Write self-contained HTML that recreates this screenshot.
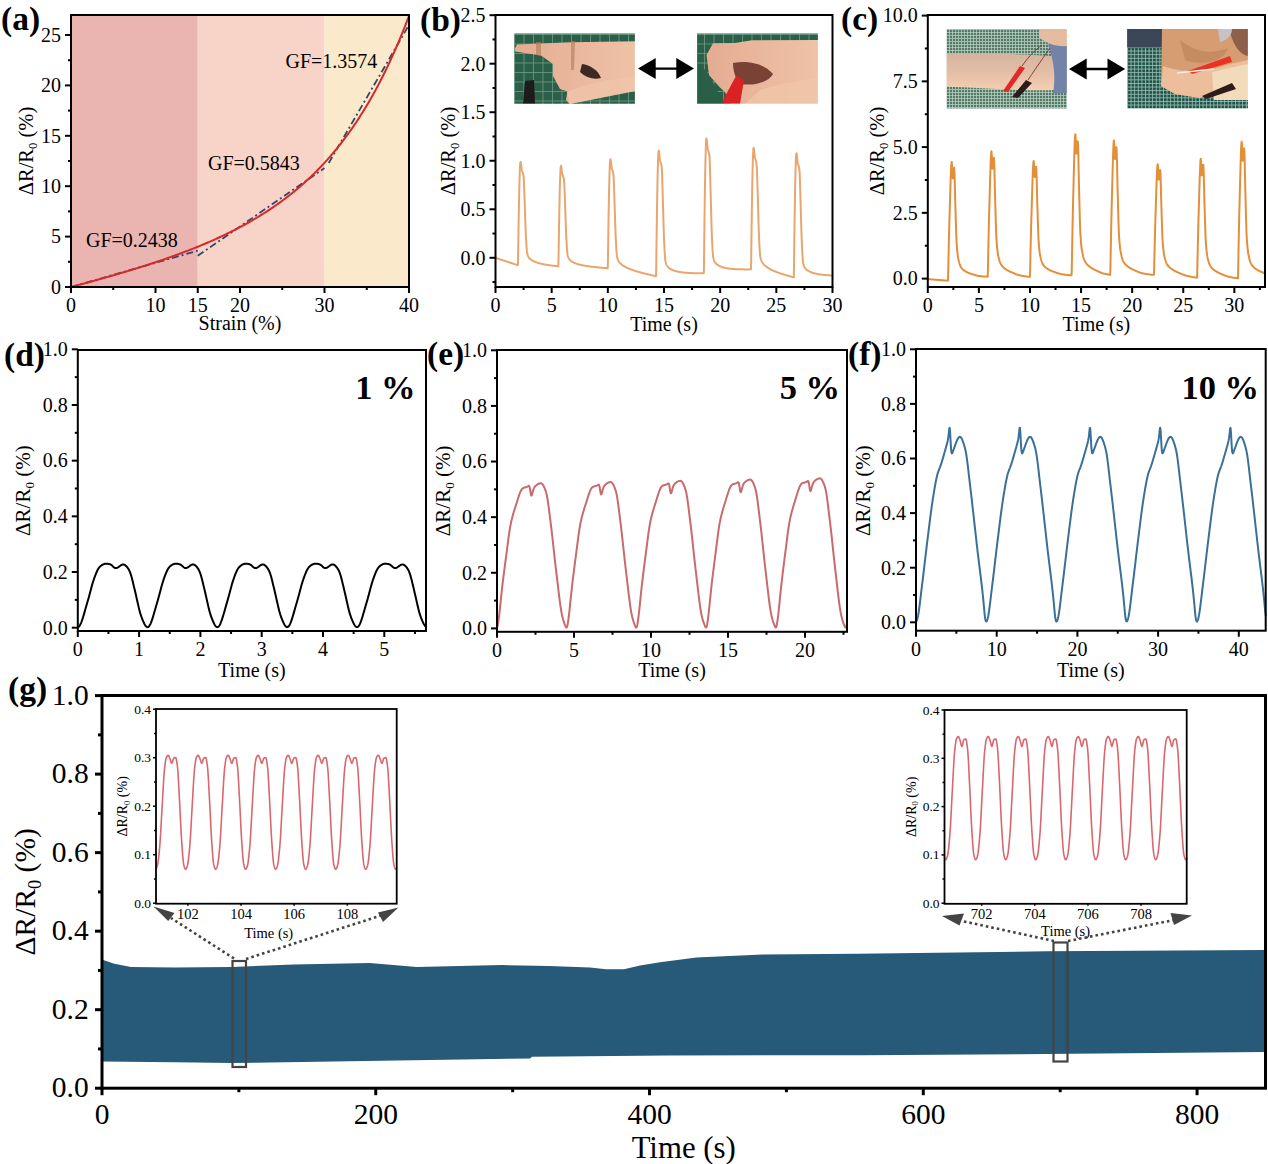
<!DOCTYPE html><html><head><meta charset="utf-8"><style>html,body{margin:0;padding:0;background:#fff;width:1268px;height:1164px;overflow:hidden;font-family:'Liberation Serif',serif}</style></head><body><svg width="1268" height="1164" viewBox="0 0 1268 1164" style="display:block;font-family:'Liberation Serif', serif">
<rect width="1268" height="1164" fill="#fff"/>
<rect x="71" y="15" width="126.75" height="272" fill="#EAB4B1"/>
<rect x="197.75" y="15" width="126.75" height="272" fill="#F8D4C8"/>
<rect x="324.5" y="15" width="84.5" height="272" fill="#FAE9CB"/>
<line x1="71" y1="287" x2="197.75" y2="250.71" stroke="#2E4A6B" stroke-width="1.8" stroke-dasharray="7,3,2,3"/>
<line x1="197.75" y1="255.75" x2="324.5" y2="168.06" stroke="#2E4A6B" stroke-width="1.8" stroke-dasharray="7,3,2,3"/>
<line x1="328.72" y1="163.02" x2="409" y2="24.92" stroke="#2E4A6B" stroke-width="1.8" stroke-dasharray="7,3,2,3"/>
<path d="M71.00,287.00 L72.13,286.70 L73.26,286.40 L74.39,286.10 L75.52,285.80 L76.65,285.50 L77.78,285.20 L78.91,284.90 L80.04,284.59 L81.17,284.29 L82.30,283.98 L83.43,283.68 L84.57,283.37 L85.70,283.07 L86.83,282.76 L87.96,282.45 L89.09,282.14 L90.22,281.83 L91.35,281.52 L92.48,281.21 L93.61,280.90 L94.74,280.59 L95.87,280.27 L97.00,279.96 L98.13,279.64 L99.26,279.33 L100.39,279.01 L101.52,278.69 L102.65,278.38 L103.78,278.06 L104.91,277.74 L106.04,277.41 L107.17,277.09 L108.30,276.77 L109.43,276.45 L110.57,276.12 L111.70,275.79 L112.83,275.47 L113.96,275.14 L115.09,274.81 L116.22,274.48 L117.35,274.15 L118.48,273.82 L119.61,273.48 L120.74,273.15 L121.87,272.82 L123.00,272.48 L124.13,272.14 L125.26,271.80 L126.39,271.46 L127.52,271.12 L128.65,270.78 L129.78,270.44 L130.91,270.09 L132.04,269.74 L133.17,269.40 L134.30,269.05 L135.43,268.70 L136.57,268.35 L137.70,268.00 L138.83,267.64 L139.96,267.29 L141.09,266.93 L142.22,266.57 L143.35,266.21 L144.48,265.85 L145.61,265.49 L146.74,265.12 L147.87,264.76 L149.00,264.39 L150.13,264.02 L151.26,263.65 L152.39,263.28 L153.52,262.91 L154.65,262.53 L155.78,262.16 L156.91,261.78 L158.04,261.40 L159.17,261.02 L160.30,260.63 L161.43,260.25 L162.57,259.86 L163.70,259.47 L164.83,259.08 L165.96,258.69 L167.09,258.29 L168.22,257.89 L169.35,257.50 L170.48,257.09 L171.61,256.69 L172.74,256.29 L173.87,255.88 L175.00,255.47 L176.13,255.06 L177.26,254.65 L178.39,254.23 L179.52,253.81 L180.65,253.39 L181.78,252.97 L182.91,252.54 L184.04,252.12 L185.17,251.69 L186.30,251.26 L187.43,250.82 L188.57,250.38 L189.70,249.94 L190.83,249.50 L191.96,249.06 L193.09,248.61 L194.22,248.16 L195.35,247.71 L196.48,247.25 L197.61,246.79 L198.74,246.33 L199.87,245.87 L201.00,245.40 L202.13,244.93 L203.26,244.46 L204.39,243.98 L205.52,243.50 L206.65,243.02 L207.78,242.53 L208.91,242.05 L210.04,241.55 L211.17,241.06 L212.30,240.56 L213.43,240.06 L214.57,239.55 L215.70,239.04 L216.83,238.53 L217.96,238.01 L219.09,237.49 L220.22,236.97 L221.35,236.44 L222.48,235.91 L223.61,235.38 L224.74,234.84 L225.87,234.30 L227.00,233.75 L228.13,233.20 L229.26,232.64 L230.39,232.08 L231.52,231.52 L232.65,230.95 L233.78,230.38 L234.91,229.80 L236.04,229.22 L237.17,228.64 L238.30,228.05 L239.43,227.45 L240.57,226.85 L241.70,226.25 L242.83,225.64 L243.96,225.02 L245.09,224.40 L246.22,223.78 L247.35,223.15 L248.48,222.51 L249.61,221.87 L250.74,221.23 L251.87,220.58 L253.00,219.92 L254.13,219.26 L255.26,218.59 L256.39,217.92 L257.52,217.24 L258.65,216.55 L259.78,215.86 L260.91,215.16 L262.04,214.46 L263.17,213.75 L264.30,213.03 L265.43,212.31 L266.57,211.58 L267.70,210.84 L268.83,210.10 L269.96,209.35 L271.09,208.59 L272.22,207.83 L273.35,207.06 L274.48,206.28 L275.61,205.49 L276.74,204.70 L277.87,203.90 L279.00,203.09 L280.13,202.28 L281.26,201.45 L282.39,200.62 L283.52,199.78 L284.65,198.94 L285.78,198.08 L286.91,197.21 L288.04,196.34 L289.17,195.46 L290.30,194.57 L291.43,193.67 L292.57,192.76 L293.70,191.85 L294.83,190.92 L295.96,189.98 L297.09,189.04 L298.22,188.08 L299.35,187.12 L300.48,186.14 L301.61,185.16 L302.74,184.16 L303.87,183.16 L305.00,182.14 L306.13,181.11 L307.26,180.08 L308.39,179.03 L309.52,177.97 L310.65,176.90 L311.78,175.81 L312.91,174.72 L314.04,173.61 L315.17,172.50 L316.30,171.37 L317.43,170.23 L318.57,169.07 L319.70,167.90 L320.83,166.73 L321.96,165.53 L323.09,164.33 L324.22,163.11 L325.35,161.88 L326.48,160.63 L327.61,159.37 L328.74,158.10 L329.87,156.81 L331.00,155.50 L332.13,154.19 L333.26,152.85 L334.39,151.51 L335.52,150.14 L336.65,148.77 L337.78,147.37 L338.91,145.96 L340.04,144.54 L341.17,143.09 L342.30,141.64 L343.43,140.16 L344.57,138.67 L345.70,137.16 L346.83,135.63 L347.96,134.08 L349.09,132.52 L350.22,130.94 L351.35,129.34 L352.48,127.72 L353.61,126.08 L354.74,124.42 L355.87,122.74 L357.00,121.05 L358.13,119.33 L359.26,117.59 L360.39,115.83 L361.52,114.05 L362.65,112.25 L363.78,110.43 L364.91,108.58 L366.04,106.72 L367.17,104.83 L368.30,102.92 L369.43,100.98 L370.57,99.02 L371.70,97.04 L372.83,95.03 L373.96,93.00 L375.09,90.94 L376.22,88.86 L377.35,86.75 L378.48,84.62 L379.61,82.46 L380.74,80.27 L381.87,78.06 L383.00,75.82 L384.13,73.55 L385.26,71.26 L386.39,68.93 L387.52,66.58 L388.65,64.19 L389.78,61.78 L390.91,59.34 L392.04,56.86 L393.17,54.36 L394.30,51.82 L395.43,49.25 L396.57,46.65 L397.70,44.02 L398.83,41.35 L399.96,38.65 L401.09,35.91 L402.22,33.14 L403.35,30.34 L404.48,27.50 L405.61,24.62 L406.74,21.71 L407.87,18.76 L409.00,15.77" fill="none" stroke="#D8282B" stroke-width="2" stroke-linejoin="round" stroke-linecap="round" />
<rect x="71" y="15" width="338" height="272" fill="none" stroke="#000" stroke-width="2"/>
<line x1="68" y1="261.8" x2="71" y2="261.8" stroke="#000" stroke-width="2"/>
<line x1="68" y1="211.4" x2="71" y2="211.4" stroke="#000" stroke-width="2"/>
<line x1="68" y1="161" x2="71" y2="161" stroke="#000" stroke-width="2"/>
<line x1="68" y1="110.6" x2="71" y2="110.6" stroke="#000" stroke-width="2"/>
<line x1="68" y1="60.2" x2="71" y2="60.2" stroke="#000" stroke-width="2"/>
<line x1="65" y1="287" x2="71" y2="287" stroke="#000" stroke-width="2"/>
<text x="61" y="293.8" font-size="20" text-anchor="end" font-weight="normal" >0</text>
<line x1="65" y1="236.6" x2="71" y2="236.6" stroke="#000" stroke-width="2"/>
<text x="61" y="243.4" font-size="20" text-anchor="end" font-weight="normal" >5</text>
<line x1="65" y1="186.2" x2="71" y2="186.2" stroke="#000" stroke-width="2"/>
<text x="61" y="193" font-size="20" text-anchor="end" font-weight="normal" >10</text>
<line x1="65" y1="135.8" x2="71" y2="135.8" stroke="#000" stroke-width="2"/>
<text x="61" y="142.6" font-size="20" text-anchor="end" font-weight="normal" >15</text>
<line x1="65" y1="85.4" x2="71" y2="85.4" stroke="#000" stroke-width="2"/>
<text x="61" y="92.2" font-size="20" text-anchor="end" font-weight="normal" >20</text>
<line x1="65" y1="35" x2="71" y2="35" stroke="#000" stroke-width="2"/>
<text x="61" y="41.8" font-size="20" text-anchor="end" font-weight="normal" >25</text>
<line x1="113.25" y1="287" x2="113.25" y2="290" stroke="#000" stroke-width="2"/>
<line x1="282.25" y1="287" x2="282.25" y2="290" stroke="#000" stroke-width="2"/>
<line x1="366.75" y1="287" x2="366.75" y2="290" stroke="#000" stroke-width="2"/>
<line x1="71" y1="287" x2="71" y2="293" stroke="#000" stroke-width="2"/>
<text x="71" y="312" font-size="20" text-anchor="middle" font-weight="normal" >0</text>
<line x1="155.5" y1="287" x2="155.5" y2="293" stroke="#000" stroke-width="2"/>
<text x="155.5" y="312" font-size="20" text-anchor="middle" font-weight="normal" >10</text>
<line x1="197.75" y1="287" x2="197.75" y2="293" stroke="#000" stroke-width="2"/>
<text x="197.75" y="312" font-size="20" text-anchor="middle" font-weight="normal" >15</text>
<line x1="240" y1="287" x2="240" y2="293" stroke="#000" stroke-width="2"/>
<text x="240" y="312" font-size="20" text-anchor="middle" font-weight="normal" >20</text>
<line x1="324.5" y1="287" x2="324.5" y2="293" stroke="#000" stroke-width="2"/>
<text x="324.5" y="312" font-size="20" text-anchor="middle" font-weight="normal" >30</text>
<line x1="409" y1="287" x2="409" y2="293" stroke="#000" stroke-width="2"/>
<text x="409" y="312" font-size="20" text-anchor="middle" font-weight="normal" >40</text>
<text x="240" y="330" font-size="20" text-anchor="middle" font-weight="normal" >Strain (%)</text>
<text transform="translate(33,151) rotate(-90)" font-size="20.5" text-anchor="middle">&#916;R/R<tspan font-size="12.71" dy="4.1">0</tspan><tspan dy="-4.1"> (%)</tspan></text>
<text x="86" y="247" font-size="20" text-anchor="start" font-weight="normal" >GF=0.2438</text>
<text x="208" y="170" font-size="20" text-anchor="start" font-weight="normal" >GF=0.5843</text>
<text x="285.5" y="67.5" font-size="20" text-anchor="start" font-weight="normal" >GF=1.3574</text>
<text x="1" y="29.5" font-size="33.5" text-anchor="start" font-weight="bold" >(a)</text>
<defs>
<pattern id="gridb" width="9.5" height="9.5" patternUnits="userSpaceOnUse" x="514" y="34">
<rect width="9.5" height="9.5" fill="#2C5F48"/><path d="M0,0.5 H9.5 M0.5,0 V9.5" stroke="#6E9A84" stroke-width="0.8"/></pattern>
<pattern id="gridc" width="3" height="3" patternUnits="userSpaceOnUse" x="946" y="29">
<rect width="3" height="3" fill="#557A6A"/><path d="M0,0.4 H3 M0.4,0 V3" stroke="#BCD6C2" stroke-width="0.8"/></pattern>
<pattern id="gridc2" width="3.6" height="3.6" patternUnits="userSpaceOnUse" x="1127" y="29">
<rect width="3.6" height="3.6" fill="#24544A"/><path d="M0,0.4 H3.6 M0.4,0 V3.6" stroke="#A0C8BC" stroke-width="0.8"/></pattern>
<filter id="soft" x="-5%" y="-5%" width="110%" height="110%"><feGaussianBlur stdDeviation="0.7"/></filter>
<clipPath id="cb1"><rect x="514.1" y="33.6" width="120.8" height="70.2"/></clipPath>
<clipPath id="cb2"><rect x="697.1" y="33.6" width="120.8" height="70.2"/></clipPath>
<clipPath id="cc1"><rect x="946.6" y="29.1" width="120.3" height="79.4"/></clipPath>
<clipPath id="cc2"><rect x="1127.1" y="29.1" width="120.8" height="79.4"/></clipPath>
<linearGradient id="armc1" x1="0" y1="0" x2="0" y2="1"><stop offset="0" stop-color="#D4B49E"/><stop offset="0.5" stop-color="#E2BEA6"/><stop offset="1" stop-color="#F4CFB2"/></linearGradient>
<linearGradient id="skinb" x1="0" y1="0" x2="1" y2="0"><stop offset="0" stop-color="#E4AC92"/><stop offset="1" stop-color="#EFC2A8"/></linearGradient>
</defs>
<g clip-path="url(#cb1)"><g filter="url(#soft)">
<rect x="514" y="33" width="122" height="72" fill="url(#gridb)"/>
<path d="M515,48.5 L517,44.5 L571,42.3 L636,41.3 L636,90.5 L569.5,104 L566,100 L567.4,91.5 L560,89 L553,76 L553,64 L541,55.6 L515,51.5 Z" fill="url(#skinb)"/>
<path d="M582,64 C590,65 598,70 601,78 C594,80 586,78 580,72 Z" fill="#3E2A22"/>
<path d="M567,92 C585,84 610,79 636,76 L636,91 L570,104 Z" fill="#F0C4AA" opacity="0.8"/>
<path d="M536,42 L541,42 L541,56 L536,55 Z M571,41 L575,41 L574,70 L571,70 Z" fill="#B07A58" opacity="0.6"/>
<path d="M525,81 L534,80 L535,104 L523,104 Z" fill="#1E1A1A"/>
</g></g>
<g clip-path="url(#cb2)"><g filter="url(#soft)">
<rect x="697" y="33" width="122" height="72" fill="url(#gridb)"/>
<path d="M752,40.3 L818,40 L818,104 L730,104 L725,92 L720,87.4 L709,75 L706.5,55 L713,43.3 L735,43 Z" fill="url(#skinb)"/>
<path d="M733,63 C748,60 765,64 773,74 C768,83 752,86 740,84 C735,78 733,70 733,63 Z" fill="#7A4236"/>
<path d="M760,90 C780,84 800,80 818,78 L818,104 L745,104 Z" fill="#F0C5A8" opacity="0.8"/>
<path d="M721,103.8 L736,76 L744,80 L740,103.8 Z" fill="#DA2320"/>
<path d="M697,66 L706,70 L716,88 L724,103.8 L697,103.8 Z" fill="#2A5E46"/>
</g></g>
<g clip-path="url(#cc1)"><g filter="url(#soft)">
<rect x="946" y="29" width="122" height="80" fill="url(#gridc)"/>
<path d="M946,53.7 C980,53 1020,54 1052,56 Q1058,72 1056,90 C1020,91 980,88 946,86.5 Z" fill="url(#armc1)"/>
<path d="M1048,44.5 L1067,40 L1067,93 L1053,93 C1056,78 1054,60 1048,44.5 Z" fill="#7382A8"/>
<path d="M1039,29 L1067,29 L1067,46 C1058,47 1046,44 1039,37 Z" fill="#E5BCA0"/>
<path d="M1003,91 L1020,66 L1025,68 L1008,92 Z" fill="#E02A2A"/>
<path d="M1012,97 L1026,80 L1032,83 L1018,98 Z" fill="#2A1E1E"/>
<path d="M1022,66 C1030,55 1035,50 1042,45 M1028,80 C1038,65 1045,55 1050,48" stroke="#8A3A30" stroke-width="1" fill="none"/>
</g></g>
<g clip-path="url(#cc2)"><g filter="url(#soft)">
<rect x="1127" y="29" width="122" height="80" fill="url(#gridc2)"/>
<rect x="1127" y="29" width="35" height="18.5" fill="#3A4656"/>
<path d="M1162,29 L1248,29 L1248,78 L1230,88 L1200,98 L1175,94 L1161,86 Z" fill="#D69D72"/>
<path d="M1163,66 C1180,72 1200,74 1230,64 L1248,60 L1248,78 L1230,88 L1200,98 L1175,94 L1161,86 Z" fill="#ECBE9C"/>
<path d="M1212,72 L1248,64 L1248,100 L1214,100 Z" fill="#F2DBBB"/>
<path d="M1180,40 C1195,52 1210,55 1228,48 C1225,62 1200,66 1185,60 Z" fill="#B98058" opacity="0.6"/>
<path d="M1229,29 L1248,29 L1248,56 C1240,55 1233,45 1229,29 Z" fill="#8E5E4C"/>
<path d="M1218,29 L1232,29 C1232,35 1228,40 1220,42 Z" fill="#C9C1C8"/>
<path d="M1188,71 L1230,56 L1232,62 L1192,74 Z" fill="#E83322"/>
<path d="M1202,96 L1232,83 L1236,89 L1206,99 Z" fill="#2E1A1A"/>
<path d="M1177,73 L1214,69" stroke="#F6EEE8" stroke-width="1.6"/>
</g></g>
<path d="M638,68.6 L655.7,58.099999999999994 L655.7,67.39999999999999 L676.3,67.39999999999999 L676.3,58.099999999999994 L694,68.6 L676.3,79.1 L676.3,69.8 L655.7,69.8 L655.7,79.1 Z" fill="#000"/>
<path d="M1069,69 L1086.7,58.5 L1086.7,67.8 L1107.5,67.8 L1107.5,58.5 L1125.2,69 L1107.5,79.5 L1107.5,70.2 L1086.7,70.2 L1086.7,79.5 Z" fill="#000"/>
<path d="M495.50,257.80 L495.72,257.87 L495.95,257.95 L496.17,258.02 L496.40,258.10 L496.62,258.17 L496.85,258.25 L497.07,258.32 L497.30,258.40 L497.52,258.47 L497.75,258.55 L497.97,258.62 L498.20,258.70 L498.42,258.77 L498.65,258.85 L498.87,258.92 L499.10,259.00 L499.32,259.07 L499.55,259.15 L499.77,259.22 L500.00,259.30 L500.22,259.37 L500.45,259.45 L500.67,259.52 L500.90,259.59 L501.12,259.67 L501.35,259.74 L501.57,259.82 L501.79,259.89 L502.02,259.97 L502.24,260.04 L502.47,260.12 L502.69,260.19 L502.92,260.27 L503.14,260.34 L503.37,260.42 L503.59,260.49 L503.82,260.57 L504.04,260.64 L504.27,260.72 L504.49,260.79 L504.72,260.87 L504.94,260.94 L505.17,261.02 L505.39,261.09 L505.62,261.17 L505.84,261.24 L506.07,261.31 L506.29,261.39 L506.52,261.46 L506.74,261.54 L506.97,261.61 L507.19,261.69 L507.42,261.76 L507.64,261.84 L507.86,261.91 L508.09,261.99 L508.31,262.06 L508.54,262.14 L508.76,262.21 L508.99,262.29 L509.21,262.36 L509.44,262.44 L509.66,262.51 L509.89,262.59 L510.11,262.66 L510.34,262.74 L510.56,262.81 L510.79,262.88 L511.01,262.96 L511.24,263.03 L511.46,263.11 L511.69,263.18 L511.91,263.26 L512.14,263.33 L512.36,263.41 L512.59,263.48 L512.81,263.56 L513.04,263.63 L513.26,263.71 L513.49,263.78 L513.71,263.86 L513.93,263.93 L514.16,264.01 L514.38,264.08 L514.61,264.16 L514.83,264.23 L515.06,264.31 L515.28,264.38 L515.51,264.46 L515.73,264.53 L515.96,264.60 L516.18,264.68 L516.41,264.75 L516.63,264.83 L516.86,264.90 L517.08,264.98 L517.31,265.05 L517.53,265.13 L517.76,265.20 L517.98,264.19 L518.21,248.46 L518.43,233.79 L518.66,220.24 L518.88,207.91 L519.11,196.86 L519.33,187.18 L519.56,178.94 L519.78,172.22 L520.01,167.11 L520.23,163.67 L520.45,161.98 L520.68,162.03 L520.90,163.17 L521.13,164.92 L521.35,166.87 L521.58,168.57 L521.80,169.71 L522.03,170.56 L522.25,171.25 L522.48,171.86 L522.70,172.48 L522.93,173.18 L523.15,174.04 L523.38,175.14 L523.60,176.58 L523.83,179.67 L524.05,184.78 L524.28,191.07 L524.50,197.72 L524.73,203.91 L524.95,210.25 L525.18,217.11 L525.40,223.90 L525.63,230.02 L525.85,234.89 L526.08,239.05 L526.30,243.01 L526.52,246.60 L526.75,249.63 L526.97,251.92 L527.20,253.29 L527.42,254.16 L527.65,254.91 L527.87,255.56 L528.10,256.13 L528.32,256.61 L528.55,257.02 L528.77,257.38 L529.00,257.69 L529.22,257.96 L529.45,258.22 L529.67,258.46 L529.90,258.69 L530.12,258.91 L530.35,259.12 L530.57,259.31 L530.80,259.49 L531.02,259.67 L531.25,259.83 L531.47,259.99 L531.70,260.14 L531.92,260.28 L532.15,260.41 L532.37,260.54 L532.59,260.67 L532.82,260.79 L533.04,260.90 L533.27,261.01 L533.49,261.12 L533.72,261.23 L533.94,261.33 L534.17,261.44 L534.39,261.54 L534.62,261.64 L534.84,261.73 L535.07,261.83 L535.29,261.92 L535.52,262.01 L535.74,262.10 L535.97,262.19 L536.19,262.27 L536.42,262.36 L536.64,262.44 L536.87,262.52 L537.09,262.59 L537.32,262.67 L537.54,262.74 L537.77,262.81 L537.99,262.88 L538.22,262.95 L538.44,263.02 L538.66,263.09 L538.89,263.15 L539.11,263.21 L539.34,263.27 L539.56,263.33 L539.79,263.39 L540.01,263.45 L540.24,263.50 L540.46,263.55 L540.69,263.61 L540.91,263.66 L541.14,263.71 L541.36,263.76 L541.59,263.81 L541.81,263.86 L542.04,263.91 L542.26,263.96 L542.49,264.01 L542.71,264.05 L542.94,264.10 L543.16,264.15 L543.39,264.19 L543.61,264.24 L543.84,264.28 L544.06,264.33 L544.29,264.37 L544.51,264.41 L544.73,264.45 L544.96,264.50 L545.18,264.54 L545.41,264.58 L545.63,264.62 L545.86,264.66 L546.08,264.70 L546.31,264.74 L546.53,264.78 L546.76,264.81 L546.98,264.85 L547.21,264.89 L547.43,264.93 L547.66,264.96 L547.88,265.00 L548.11,265.03 L548.33,265.07 L548.56,265.10 L548.78,265.14 L549.01,265.17 L549.23,265.20 L549.46,265.23 L549.68,265.27 L549.91,265.30 L550.13,265.33 L550.36,265.36 L550.58,265.39 L550.80,265.42 L551.03,265.45 L551.25,265.48 L551.48,265.51 L551.70,265.54 L551.93,265.56 L552.15,265.59 L552.38,265.62 L552.60,265.65 L552.83,265.68 L553.05,265.70 L553.28,265.73 L553.50,265.76 L553.73,265.79 L553.95,265.82 L554.18,265.84 L554.40,265.87 L554.63,265.90 L554.85,265.93 L555.08,265.95 L555.30,265.98 L555.53,266.01 L555.75,266.03 L555.98,266.06 L556.20,266.09 L556.43,266.11 L556.65,266.14 L556.87,266.17 L557.10,266.19 L557.32,266.22 L557.55,266.24 L557.77,266.27 L558.00,266.30 L558.22,266.32 L558.45,263.40 L558.67,248.22 L558.90,234.07 L559.12,221.03 L559.35,209.18 L559.57,198.59 L559.80,189.34 L560.02,181.51 L560.25,175.16 L560.47,170.38 L560.70,167.25 L560.92,165.83 L561.15,166.05 L561.37,167.27 L561.60,169.03 L561.82,170.93 L562.05,172.54 L562.27,173.61 L562.50,174.42 L562.72,175.09 L562.94,175.70 L563.17,176.31 L563.39,177.02 L563.62,177.89 L563.84,179.00 L564.07,180.49 L564.29,183.79 L564.52,188.95 L564.74,195.17 L564.97,201.64 L565.19,207.60 L565.42,213.88 L565.64,220.59 L565.87,227.16 L566.09,233.01 L566.32,237.60 L566.54,241.64 L566.77,245.47 L566.99,248.92 L567.22,251.79 L567.44,253.93 L567.67,255.16 L567.89,255.99 L568.12,256.71 L568.34,257.34 L568.57,257.88 L568.79,258.34 L569.02,258.73 L569.24,259.07 L569.46,259.36 L569.69,259.63 L569.91,259.87 L570.14,260.11 L570.36,260.33 L570.59,260.53 L570.81,260.73 L571.04,260.92 L571.26,261.09 L571.49,261.26 L571.71,261.42 L571.94,261.56 L572.16,261.71 L572.39,261.84 L572.61,261.97 L572.84,262.09 L573.06,262.21 L573.29,262.32 L573.51,262.43 L573.74,262.54 L573.96,262.64 L574.19,262.74 L574.41,262.84 L574.64,262.94 L574.86,263.04 L575.09,263.13 L575.31,263.22 L575.53,263.31 L575.76,263.40 L575.98,263.49 L576.21,263.57 L576.43,263.65 L576.66,263.73 L576.88,263.81 L577.11,263.89 L577.33,263.96 L577.56,264.04 L577.78,264.11 L578.01,264.18 L578.23,264.24 L578.46,264.31 L578.68,264.37 L578.91,264.44 L579.13,264.50 L579.36,264.56 L579.58,264.62 L579.81,264.67 L580.03,264.73 L580.26,264.78 L580.48,264.83 L580.71,264.89 L580.93,264.93 L581.16,264.98 L581.38,265.03 L581.60,265.08 L581.83,265.13 L582.05,265.17 L582.28,265.22 L582.50,265.26 L582.73,265.31 L582.95,265.35 L583.18,265.40 L583.40,265.44 L583.63,265.48 L583.85,265.53 L584.08,265.57 L584.30,265.61 L584.53,265.65 L584.75,265.69 L584.98,265.73 L585.20,265.77 L585.43,265.81 L585.65,265.85 L585.88,265.88 L586.10,265.92 L586.33,265.96 L586.55,265.99 L586.78,266.03 L587.00,266.06 L587.23,266.10 L587.45,266.13 L587.67,266.17 L587.90,266.20 L588.12,266.23 L588.35,266.26 L588.57,266.30 L588.80,266.33 L589.02,266.36 L589.25,266.39 L589.47,266.42 L589.70,266.45 L589.92,266.48 L590.15,266.51 L590.37,266.54 L590.60,266.57 L590.82,266.59 L591.05,266.62 L591.27,266.65 L591.50,266.67 L591.72,266.70 L591.95,266.73 L592.17,266.75 L592.40,266.78 L592.62,266.80 L592.85,266.83 L593.07,266.85 L593.30,266.88 L593.52,266.90 L593.74,266.93 L593.97,266.95 L594.19,266.98 L594.42,267.00 L594.64,267.03 L594.87,267.05 L595.09,267.08 L595.32,267.10 L595.54,267.12 L595.77,267.15 L595.99,267.17 L596.22,267.20 L596.44,267.22 L596.67,267.24 L596.89,267.27 L597.12,267.29 L597.34,267.31 L597.57,267.34 L597.79,267.36 L598.02,267.38 L598.24,267.41 L598.47,267.43 L598.69,267.45 L598.92,267.47 L599.14,267.49 L599.37,267.52 L599.59,267.54 L599.81,267.56 L600.04,267.58 L600.26,267.60 L600.49,267.62 L600.71,267.64 L600.94,267.66 L601.16,267.68 L601.39,267.70 L601.61,267.72 L601.84,267.74 L602.06,267.76 L602.29,267.78 L602.51,267.80 L602.74,267.82 L602.96,267.84 L603.19,267.86 L603.41,267.87 L603.64,267.89 L603.86,267.91 L604.09,267.93 L604.31,267.94 L604.54,267.96 L604.76,267.97 L604.99,267.99 L605.21,268.01 L605.44,268.02 L605.66,268.04 L605.88,268.05 L606.11,268.06 L606.33,268.08 L606.56,268.09 L606.78,268.11 L607.01,268.12 L607.23,268.13 L607.46,268.14 L607.68,268.16 L607.91,262.49 L608.13,246.18 L608.36,231.01 L608.58,217.06 L608.81,204.41 L609.03,193.14 L609.26,183.33 L609.48,175.07 L609.71,168.44 L609.93,163.52 L610.16,160.40 L610.38,159.16 L610.61,159.62 L610.83,161.07 L611.06,163.05 L611.28,165.12 L611.51,166.80 L611.73,167.91 L611.95,168.78 L612.18,169.51 L612.40,170.18 L612.63,170.88 L612.85,171.68 L613.08,172.68 L613.30,173.95 L613.53,175.75 L613.75,179.71 L613.98,185.55 L614.20,192.41 L614.43,199.42 L614.65,205.87 L614.88,212.81 L615.10,220.13 L615.33,227.21 L615.55,233.42 L615.78,238.25 L616.00,242.64 L616.23,246.77 L616.45,250.46 L616.68,253.50 L616.90,255.70 L617.13,256.94 L617.35,257.86 L617.58,258.65 L617.80,259.35 L618.03,259.94 L618.25,260.46 L618.47,260.91 L618.70,261.30 L618.92,261.65 L619.15,261.96 L619.37,262.26 L619.60,262.54 L619.82,262.80 L620.05,263.06 L620.27,263.30 L620.50,263.53 L620.72,263.75 L620.95,263.96 L621.17,264.16 L621.40,264.35 L621.62,264.54 L621.85,264.71 L622.07,264.88 L622.30,265.04 L622.52,265.20 L622.75,265.35 L622.97,265.50 L623.20,265.65 L623.42,265.79 L623.65,265.93 L623.87,266.07 L624.10,266.21 L624.32,266.34 L624.54,266.48 L624.77,266.61 L624.99,266.74 L625.22,266.86 L625.44,266.98 L625.67,267.11 L625.89,267.23 L626.12,267.34 L626.34,267.46 L626.57,267.57 L626.79,267.68 L627.02,267.79 L627.24,267.90 L627.47,268.01 L627.69,268.11 L627.92,268.21 L628.14,268.31 L628.37,268.41 L628.59,268.51 L628.82,268.60 L629.04,268.70 L629.27,268.79 L629.49,268.88 L629.72,268.97 L629.94,269.06 L630.17,269.14 L630.39,269.23 L630.61,269.31 L630.84,269.39 L631.06,269.48 L631.29,269.56 L631.51,269.64 L631.74,269.72 L631.96,269.80 L632.19,269.88 L632.41,269.96 L632.64,270.04 L632.86,270.12 L633.09,270.19 L633.31,270.27 L633.54,270.34 L633.76,270.42 L633.99,270.49 L634.21,270.57 L634.44,270.64 L634.66,270.72 L634.89,270.79 L635.11,270.86 L635.34,270.93 L635.56,271.00 L635.79,271.07 L636.01,271.14 L636.24,271.21 L636.46,271.28 L636.68,271.35 L636.91,271.42 L637.13,271.49 L637.36,271.55 L637.58,271.62 L637.81,271.68 L638.03,271.75 L638.26,271.82 L638.48,271.88 L638.71,271.94 L638.93,272.01 L639.16,272.07 L639.38,272.13 L639.61,272.19 L639.83,272.26 L640.06,272.32 L640.28,272.38 L640.51,272.44 L640.73,272.50 L640.96,272.56 L641.18,272.62 L641.41,272.68 L641.63,272.73 L641.86,272.79 L642.08,272.85 L642.31,272.91 L642.53,272.97 L642.75,273.03 L642.98,273.08 L643.20,273.14 L643.43,273.20 L643.65,273.26 L643.88,273.31 L644.10,273.37 L644.33,273.43 L644.55,273.49 L644.78,273.54 L645.00,273.60 L645.23,273.66 L645.45,273.71 L645.68,273.77 L645.90,273.83 L646.13,273.88 L646.35,273.94 L646.58,274.00 L646.80,274.05 L647.03,274.11 L647.25,274.17 L647.48,274.22 L647.70,274.28 L647.93,274.33 L648.15,274.39 L648.38,274.44 L648.60,274.50 L648.82,274.55 L649.05,274.60 L649.27,274.66 L649.50,274.71 L649.72,274.77 L649.95,274.82 L650.17,274.87 L650.40,274.93 L650.62,274.98 L650.85,275.03 L651.07,275.08 L651.30,275.14 L651.52,275.19 L651.75,275.24 L651.97,275.29 L652.20,275.34 L652.42,275.39 L652.65,275.44 L652.87,275.49 L653.10,275.54 L653.32,275.59 L653.55,275.64 L653.77,275.69 L654.00,275.74 L654.22,275.79 L654.45,275.83 L654.67,275.88 L654.89,275.93 L655.12,275.98 L655.34,276.02 L655.57,276.07 L655.79,276.11 L656.02,276.16 L656.24,266.89 L656.47,248.31 L656.69,231.05 L656.92,215.20 L657.14,200.85 L657.37,188.10 L657.59,177.05 L657.82,167.78 L658.04,160.40 L658.27,155.00 L658.49,151.67 L658.72,150.50 L658.94,151.17 L659.17,152.90 L659.39,155.17 L659.62,157.45 L659.84,159.21 L660.07,160.38 L660.29,161.30 L660.52,162.06 L660.74,162.77 L660.96,163.52 L661.19,164.42 L661.41,165.54 L661.64,167.01 L661.86,169.25 L662.09,174.10 L662.31,180.98 L662.54,188.88 L662.76,196.81 L662.99,204.12 L663.21,212.14 L663.44,220.48 L663.66,228.45 L663.89,235.31 L664.11,240.63 L664.34,245.58 L664.56,250.21 L664.79,254.29 L665.01,257.60 L665.24,259.91 L665.46,261.17 L665.69,262.14 L665.91,262.98 L666.14,263.70 L666.36,264.32 L666.59,264.84 L666.81,265.29 L667.04,265.67 L667.26,266.01 L667.48,266.31 L667.71,266.59 L667.93,266.85 L668.16,267.10 L668.38,267.34 L668.61,267.56 L668.83,267.76 L669.06,267.96 L669.28,268.14 L669.51,268.31 L669.73,268.47 L669.96,268.62 L670.18,268.77 L670.41,268.91 L670.63,269.04 L670.86,269.16 L671.08,269.28 L671.31,269.39 L671.53,269.50 L671.76,269.61 L671.98,269.72 L672.21,269.82 L672.43,269.92 L672.66,270.02 L672.88,270.11 L673.11,270.21 L673.33,270.30 L673.55,270.38 L673.78,270.47 L674.00,270.55 L674.23,270.63 L674.45,270.71 L674.68,270.79 L674.90,270.86 L675.13,270.93 L675.35,271.00 L675.58,271.07 L675.80,271.13 L676.03,271.19 L676.25,271.26 L676.48,271.31 L676.70,271.37 L676.93,271.43 L677.15,271.48 L677.38,271.53 L677.60,271.58 L677.83,271.63 L678.05,271.67 L678.28,271.71 L678.50,271.76 L678.73,271.80 L678.95,271.84 L679.18,271.88 L679.40,271.91 L679.62,271.95 L679.85,271.99 L680.07,272.02 L680.30,272.06 L680.52,272.10 L680.75,272.13 L680.97,272.16 L681.20,272.20 L681.42,272.23 L681.65,272.26 L681.87,272.29 L682.10,272.32 L682.32,272.35 L682.55,272.38 L682.77,272.41 L683.00,272.43 L683.22,272.46 L683.45,272.49 L683.67,272.51 L683.90,272.54 L684.12,272.56 L684.35,272.59 L684.57,272.61 L684.80,272.63 L685.02,272.65 L685.25,272.68 L685.47,272.70 L685.69,272.72 L685.92,272.74 L686.14,272.76 L686.37,272.77 L686.59,272.79 L686.82,272.81 L687.04,272.83 L687.27,272.84 L687.49,272.86 L687.72,272.88 L687.94,272.89 L688.17,272.91 L688.39,272.92 L688.62,272.93 L688.84,272.95 L689.07,272.96 L689.29,272.97 L689.52,272.98 L689.74,272.99 L689.97,273.00 L690.19,273.01 L690.42,273.02 L690.64,273.03 L690.87,273.04 L691.09,273.06 L691.32,273.07 L691.54,273.08 L691.76,273.09 L691.99,273.10 L692.21,273.11 L692.44,273.11 L692.66,273.12 L692.89,273.13 L693.11,273.14 L693.34,273.15 L693.56,273.16 L693.79,273.17 L694.01,273.18 L694.24,273.19 L694.46,273.20 L694.69,273.21 L694.91,273.21 L695.14,273.22 L695.36,273.23 L695.59,273.24 L695.81,273.24 L696.04,273.25 L696.26,273.26 L696.49,273.27 L696.71,273.27 L696.94,273.28 L697.16,273.29 L697.39,273.29 L697.61,273.30 L697.83,273.30 L698.06,273.31 L698.28,273.31 L698.51,273.32 L698.73,273.32 L698.96,273.33 L699.18,273.33 L699.41,273.33 L699.63,273.34 L699.86,273.34 L700.08,273.34 L700.31,273.34 L700.53,273.35 L700.76,273.35 L700.98,273.35 L701.21,273.35 L701.43,273.35 L701.66,273.35 L701.88,273.35 L702.11,273.35 L702.33,273.35 L702.56,273.35 L702.78,273.35 L703.01,273.35 L703.23,273.35 L703.46,273.34 L703.68,273.34 L703.90,270.83 L704.13,250.37 L704.35,231.30 L704.58,213.70 L704.80,197.68 L705.03,183.34 L705.25,170.79 L705.48,160.13 L705.70,151.46 L705.93,144.87 L706.15,140.48 L706.38,138.38 L706.60,138.51 L706.83,140.02 L707.05,142.31 L707.28,144.81 L707.50,146.97 L707.73,148.39 L707.95,149.45 L708.18,150.32 L708.40,151.08 L708.63,151.86 L708.85,152.75 L709.08,153.85 L709.30,155.28 L709.53,157.16 L709.75,161.33 L709.97,168.07 L710.20,176.28 L710.42,184.91 L710.65,192.91 L710.87,201.20 L711.10,210.13 L711.32,218.92 L711.55,226.81 L711.77,233.03 L712.00,238.42 L712.22,243.54 L712.45,248.16 L712.67,252.04 L712.90,254.93 L713.12,256.62 L713.35,257.72 L713.57,258.66 L713.80,259.48 L714.02,260.17 L714.25,260.77 L714.47,261.27 L714.70,261.70 L714.92,262.07 L715.15,262.40 L715.37,262.70 L715.60,262.99 L715.82,263.26 L716.05,263.51 L716.27,263.75 L716.49,263.97 L716.72,264.18 L716.94,264.37 L717.17,264.56 L717.39,264.73 L717.62,264.89 L717.84,265.05 L718.07,265.19 L718.29,265.33 L718.52,265.46 L718.74,265.58 L718.97,265.70 L719.19,265.82 L719.42,265.93 L719.64,266.04 L719.87,266.15 L720.09,266.25 L720.32,266.35 L720.54,266.45 L720.77,266.55 L720.99,266.64 L721.22,266.73 L721.44,266.82 L721.67,266.91 L721.89,266.99 L722.12,267.07 L722.34,267.15 L722.56,267.22 L722.79,267.29 L723.01,267.37 L723.24,267.43 L723.46,267.50 L723.69,267.56 L723.91,267.62 L724.14,267.68 L724.36,267.74 L724.59,267.79 L724.81,267.85 L725.04,267.90 L725.26,267.95 L725.49,267.99 L725.71,268.04 L725.94,268.08 L726.16,268.12 L726.39,268.16 L726.61,268.20 L726.84,268.24 L727.06,268.27 L727.29,268.31 L727.51,268.35 L727.74,268.38 L727.96,268.41 L728.19,268.45 L728.41,268.48 L728.63,268.51 L728.86,268.54 L729.08,268.57 L729.31,268.60 L729.53,268.63 L729.76,268.66 L729.98,268.68 L730.21,268.71 L730.43,268.74 L730.66,268.76 L730.88,268.79 L731.11,268.81 L731.33,268.83 L731.56,268.86 L731.78,268.88 L732.01,268.90 L732.23,268.92 L732.46,268.94 L732.68,268.96 L732.91,268.98 L733.13,269.00 L733.36,269.01 L733.58,269.03 L733.81,269.05 L734.03,269.06 L734.26,269.08 L734.48,269.09 L734.70,269.10 L734.93,269.12 L735.15,269.13 L735.38,269.14 L735.60,269.15 L735.83,269.17 L736.05,269.18 L736.28,269.19 L736.50,269.20 L736.73,269.20 L736.95,269.21 L737.18,269.22 L737.40,269.23 L737.63,269.23 L737.85,269.24 L738.08,269.25 L738.30,269.25 L738.53,269.26 L738.75,269.27 L738.98,269.27 L739.20,269.28 L739.43,269.29 L739.65,269.29 L739.88,269.30 L740.10,269.30 L740.33,269.31 L740.55,269.31 L740.77,269.32 L741.00,269.33 L741.22,269.33 L741.45,269.34 L741.67,269.34 L741.90,269.34 L742.12,269.35 L742.35,269.35 L742.57,269.36 L742.80,269.36 L743.02,269.37 L743.25,269.37 L743.47,269.37 L743.70,269.38 L743.92,269.38 L744.15,269.38 L744.37,269.38 L744.60,269.39 L744.82,269.39 L745.05,269.39 L745.27,269.39 L745.50,269.39 L745.72,269.39 L745.95,269.39 L746.17,269.40 L746.40,269.40 L746.62,269.40 L746.84,269.39 L747.07,269.39 L747.29,269.39 L747.52,269.39 L747.74,269.39 L747.97,269.39 L748.19,269.39 L748.42,269.38 L748.64,269.38 L748.87,269.38 L749.09,269.37 L749.32,269.37 L749.54,269.36 L749.77,269.36 L749.99,269.35 L750.22,269.35 L750.44,269.34 L750.67,269.34 L750.89,269.33 L751.12,264.40 L751.34,246.11 L751.57,229.07 L751.79,213.39 L752.02,199.15 L752.24,186.45 L752.47,175.38 L752.69,166.03 L752.91,158.49 L753.14,152.87 L753.36,149.24 L753.59,147.70 L753.81,148.10 L754.04,149.66 L754.26,151.86 L754.49,154.18 L754.71,156.11 L754.94,157.39 L755.16,158.38 L755.39,159.21 L755.61,159.96 L755.84,160.73 L756.06,161.62 L756.29,162.72 L756.51,164.12 L756.74,166.03 L756.96,170.25 L757.19,176.66 L757.41,184.27 L757.64,192.13 L757.86,199.35 L758.09,207.04 L758.31,215.22 L758.54,223.17 L758.76,230.21 L758.98,235.70 L759.21,240.62 L759.43,245.27 L759.66,249.43 L759.88,252.89 L760.11,255.43 L760.33,256.89 L760.56,257.92 L760.78,258.82 L761.01,259.61 L761.23,260.28 L761.46,260.87 L761.68,261.38 L761.91,261.82 L762.13,262.21 L762.36,262.57 L762.58,262.90 L762.81,263.22 L763.03,263.52 L763.26,263.81 L763.48,264.08 L763.71,264.34 L763.93,264.59 L764.16,264.83 L764.38,265.05 L764.61,265.27 L764.83,265.48 L765.06,265.67 L765.28,265.87 L765.50,266.05 L765.73,266.23 L765.95,266.40 L766.18,266.57 L766.40,266.74 L766.63,266.90 L766.85,267.06 L767.08,267.22 L767.30,267.37 L767.53,267.52 L767.75,267.67 L767.98,267.82 L768.20,267.97 L768.43,268.11 L768.65,268.25 L768.88,268.39 L769.10,268.52 L769.33,268.66 L769.55,268.79 L769.78,268.92 L770.00,269.04 L770.23,269.17 L770.45,269.29 L770.68,269.41 L770.90,269.53 L771.13,269.65 L771.35,269.76 L771.57,269.87 L771.80,269.98 L772.02,270.09 L772.25,270.20 L772.47,270.30 L772.70,270.41 L772.92,270.51 L773.15,270.61 L773.37,270.70 L773.60,270.80 L773.82,270.90 L774.05,270.99 L774.27,271.09 L774.50,271.18 L774.72,271.27 L774.95,271.36 L775.17,271.46 L775.40,271.55 L775.62,271.64 L775.85,271.73 L776.07,271.81 L776.30,271.90 L776.52,271.99 L776.75,272.08 L776.97,272.16 L777.20,272.25 L777.42,272.33 L777.64,272.42 L777.87,272.50 L778.09,272.59 L778.32,272.67 L778.54,272.75 L778.77,272.83 L778.99,272.91 L779.22,272.99 L779.44,273.07 L779.67,273.15 L779.89,273.23 L780.12,273.31 L780.34,273.38 L780.57,273.46 L780.79,273.54 L781.02,273.61 L781.24,273.69 L781.47,273.76 L781.69,273.84 L781.92,273.91 L782.14,273.98 L782.37,274.05 L782.59,274.13 L782.82,274.20 L783.04,274.27 L783.27,274.34 L783.49,274.41 L783.71,274.48 L783.94,274.55 L784.16,274.62 L784.39,274.68 L784.61,274.75 L784.84,274.82 L785.06,274.89 L785.29,274.95 L785.51,275.02 L785.74,275.09 L785.96,275.15 L786.19,275.22 L786.41,275.29 L786.64,275.35 L786.86,275.42 L787.09,275.49 L787.31,275.55 L787.54,275.62 L787.76,275.68 L787.99,275.75 L788.21,275.82 L788.44,275.88 L788.66,275.95 L788.89,276.01 L789.11,276.08 L789.34,276.14 L789.56,276.21 L789.78,276.27 L790.01,276.34 L790.23,276.40 L790.46,276.47 L790.68,276.53 L790.91,276.59 L791.13,276.66 L791.36,276.72 L791.58,276.78 L791.81,276.85 L792.03,276.91 L792.26,276.97 L792.48,277.04 L792.71,277.10 L792.93,277.16 L793.16,277.22 L793.38,277.28 L793.61,277.34 L793.83,277.40 L794.06,260.57 L794.28,242.73 L794.51,226.22 L794.73,211.15 L794.96,197.61 L795.18,185.69 L795.41,175.48 L795.63,167.08 L795.85,160.58 L796.08,156.08 L796.30,153.66 L796.53,153.38 L796.75,154.55 L796.98,156.55 L797.20,158.88 L797.43,161.00 L797.65,162.47 L797.88,163.53 L798.10,164.38 L798.33,165.11 L798.55,165.83 L798.78,166.64 L799.00,167.62 L799.23,168.87 L799.45,170.49 L799.68,173.67 L799.90,179.42 L800.13,186.77 L800.35,194.73 L800.58,202.30 L800.80,209.72 L801.03,217.87 L801.25,226.07 L801.48,233.60 L801.70,239.74 L801.92,244.74 L802.15,249.54 L802.37,253.92 L802.60,257.68 L802.82,260.58 L803.05,262.41 L803.27,263.47 L803.50,264.38 L803.72,265.16 L803.95,265.83 L804.17,266.41 L804.40,266.90 L804.62,267.32 L804.85,267.68 L805.07,268.00 L805.30,268.29 L805.52,268.57 L805.75,268.83 L805.97,269.07 L806.20,269.30 L806.42,269.51 L806.65,269.72 L806.87,269.91 L807.10,270.09 L807.32,270.26 L807.55,270.42 L807.77,270.57 L807.99,270.72 L808.22,270.85 L808.44,270.98 L808.67,271.11 L808.89,271.23 L809.12,271.34 L809.34,271.45 L809.57,271.56 L809.79,271.67 L810.02,271.78 L810.24,271.88 L810.47,271.98 L810.69,272.07 L810.92,272.17 L811.14,272.26 L811.37,272.35 L811.59,272.44 L811.82,272.52 L812.04,272.61 L812.27,272.69 L812.49,272.77 L812.72,272.84 L812.94,272.92 L813.17,272.99 L813.39,273.06 L813.62,273.12 L813.84,273.19 L814.07,273.25 L814.29,273.31 L814.51,273.37 L814.74,273.43 L814.96,273.49 L815.19,273.54 L815.41,273.59 L815.64,273.64 L815.86,273.69 L816.09,273.74 L816.31,273.78 L816.54,273.83 L816.76,273.87 L816.99,273.91 L817.21,273.95 L817.44,273.99 L817.66,274.03 L817.89,274.07 L818.11,274.11 L818.34,274.15 L818.56,274.19 L818.79,274.22 L819.01,274.26 L819.24,274.30 L819.46,274.33 L819.69,274.37 L819.91,274.40 L820.14,274.43 L820.36,274.46 L820.58,274.50 L820.81,274.53 L821.03,274.56 L821.26,274.59 L821.48,274.62 L821.71,274.65 L821.93,274.67 L822.16,274.70 L822.38,274.73 L822.61,274.75 L822.83,274.78 L823.06,274.81 L823.28,274.83 L823.51,274.85 L823.73,274.88 L823.96,274.90 L824.18,274.92 L824.41,274.94 L824.63,274.97 L824.86,274.99 L825.08,275.01 L825.31,275.03 L825.53,275.05 L825.76,275.06 L825.98,275.08 L826.21,275.10 L826.43,275.12 L826.65,275.13 L826.88,275.15 L827.10,275.17 L827.33,275.18 L827.55,275.20 L827.78,275.21 L828.00,275.22 L828.23,275.24 L828.45,275.25 L828.68,275.27 L828.90,275.28 L829.13,275.30 L829.35,275.31 L829.58,275.32 L829.80,275.34 L830.03,275.35 L830.25,275.37 L830.48,275.38 L830.70,275.39 L830.93,275.41 L831.15,275.42 L831.38,275.43 L831.60,275.44 L831.83,275.46 L832.05,275.47 L832.28,275.48 L832.50,275.49" fill="none" stroke="#E8A66E" stroke-width="2" stroke-linejoin="round" stroke-linecap="round" />
<rect x="495.5" y="15" width="337" height="272" fill="none" stroke="#000" stroke-width="2"/>
<line x1="492.5" y1="282.06" x2="495.5" y2="282.06" stroke="#000" stroke-width="2"/>
<line x1="492.5" y1="233.54" x2="495.5" y2="233.54" stroke="#000" stroke-width="2"/>
<line x1="492.5" y1="185.01" x2="495.5" y2="185.01" stroke="#000" stroke-width="2"/>
<line x1="492.5" y1="136.49" x2="495.5" y2="136.49" stroke="#000" stroke-width="2"/>
<line x1="492.5" y1="87.96" x2="495.5" y2="87.96" stroke="#000" stroke-width="2"/>
<line x1="492.5" y1="39.44" x2="495.5" y2="39.44" stroke="#000" stroke-width="2"/>
<line x1="489.5" y1="257.8" x2="495.5" y2="257.8" stroke="#000" stroke-width="2"/>
<text x="485.5" y="264.6" font-size="20" text-anchor="end" font-weight="normal" >0.0</text>
<line x1="489.5" y1="209.28" x2="495.5" y2="209.28" stroke="#000" stroke-width="2"/>
<text x="485.5" y="216.08" font-size="20" text-anchor="end" font-weight="normal" >0.5</text>
<line x1="489.5" y1="160.75" x2="495.5" y2="160.75" stroke="#000" stroke-width="2"/>
<text x="485.5" y="167.55" font-size="20" text-anchor="end" font-weight="normal" >1.0</text>
<line x1="489.5" y1="112.23" x2="495.5" y2="112.23" stroke="#000" stroke-width="2"/>
<text x="485.5" y="119.03" font-size="20" text-anchor="end" font-weight="normal" >1.5</text>
<line x1="489.5" y1="63.7" x2="495.5" y2="63.7" stroke="#000" stroke-width="2"/>
<text x="485.5" y="70.5" font-size="20" text-anchor="end" font-weight="normal" >2.0</text>
<line x1="489.5" y1="15.18" x2="495.5" y2="15.18" stroke="#000" stroke-width="2"/>
<text x="485.5" y="21.98" font-size="20" text-anchor="end" font-weight="normal" >2.5</text>
<line x1="523.58" y1="287" x2="523.58" y2="290" stroke="#000" stroke-width="2"/>
<line x1="579.75" y1="287" x2="579.75" y2="290" stroke="#000" stroke-width="2"/>
<line x1="635.92" y1="287" x2="635.92" y2="290" stroke="#000" stroke-width="2"/>
<line x1="692.08" y1="287" x2="692.08" y2="290" stroke="#000" stroke-width="2"/>
<line x1="748.25" y1="287" x2="748.25" y2="290" stroke="#000" stroke-width="2"/>
<line x1="804.42" y1="287" x2="804.42" y2="290" stroke="#000" stroke-width="2"/>
<line x1="495.5" y1="287" x2="495.5" y2="293" stroke="#000" stroke-width="2"/>
<text x="495.5" y="312" font-size="20" text-anchor="middle" font-weight="normal" >0</text>
<line x1="551.67" y1="287" x2="551.67" y2="293" stroke="#000" stroke-width="2"/>
<text x="551.67" y="312" font-size="20" text-anchor="middle" font-weight="normal" >5</text>
<line x1="607.83" y1="287" x2="607.83" y2="293" stroke="#000" stroke-width="2"/>
<text x="607.83" y="312" font-size="20" text-anchor="middle" font-weight="normal" >10</text>
<line x1="664" y1="287" x2="664" y2="293" stroke="#000" stroke-width="2"/>
<text x="664" y="312" font-size="20" text-anchor="middle" font-weight="normal" >15</text>
<line x1="720.17" y1="287" x2="720.17" y2="293" stroke="#000" stroke-width="2"/>
<text x="720.17" y="312" font-size="20" text-anchor="middle" font-weight="normal" >20</text>
<line x1="776.33" y1="287" x2="776.33" y2="293" stroke="#000" stroke-width="2"/>
<text x="776.33" y="312" font-size="20" text-anchor="middle" font-weight="normal" >25</text>
<line x1="832.5" y1="287" x2="832.5" y2="293" stroke="#000" stroke-width="2"/>
<text x="832.5" y="312" font-size="20" text-anchor="middle" font-weight="normal" >30</text>
<text x="664" y="331" font-size="20" text-anchor="middle" font-weight="normal" >Time (s)</text>
<text transform="translate(454.5,151) rotate(-90)" font-size="20.5" text-anchor="middle">&#916;R/R<tspan font-size="12.71" dy="4.1">0</tspan><tspan dy="-4.1"> (%)</tspan></text>
<text x="420" y="30.5" font-size="33.5" text-anchor="start" font-weight="bold" >(b)</text>
<path d="M927.80,279.13 L928.00,279.14 L928.21,279.16 L928.41,279.17 L928.62,279.19 L928.82,279.21 L929.03,279.22 L929.23,279.24 L929.44,279.25 L929.64,279.27 L929.84,279.29 L930.05,279.30 L930.25,279.32 L930.46,279.33 L930.66,279.35 L930.87,279.37 L931.07,279.38 L931.28,279.40 L931.48,279.41 L931.69,279.43 L931.89,279.44 L932.09,279.46 L932.30,279.48 L932.50,279.49 L932.71,279.51 L932.91,279.52 L933.12,279.54 L933.32,279.56 L933.53,279.57 L933.73,279.59 L933.93,279.60 L934.14,279.62 L934.34,279.64 L934.55,279.65 L934.75,279.67 L934.96,279.68 L935.16,279.70 L935.37,279.72 L935.57,279.73 L935.78,279.75 L935.98,279.76 L936.18,279.78 L936.39,279.80 L936.59,279.81 L936.80,279.83 L937.00,279.84 L937.21,279.86 L937.41,279.88 L937.62,279.89 L937.82,279.91 L938.02,279.92 L938.23,279.94 L938.43,279.96 L938.64,279.97 L938.84,279.99 L939.05,280.00 L939.25,280.02 L939.46,280.04 L939.66,280.05 L939.86,280.07 L940.07,280.08 L940.27,280.10 L940.48,280.11 L940.68,280.13 L940.89,280.15 L941.09,280.16 L941.30,280.18 L941.50,280.19 L941.71,280.21 L941.91,280.23 L942.11,280.24 L942.32,280.26 L942.52,280.27 L942.73,280.29 L942.93,280.31 L943.14,280.32 L943.34,280.34 L943.55,280.35 L943.75,280.37 L943.95,280.39 L944.16,280.40 L944.36,280.42 L944.57,280.43 L944.77,280.45 L944.98,280.47 L945.18,280.48 L945.39,280.50 L945.59,280.51 L945.79,280.53 L946.00,280.55 L946.20,280.56 L946.41,280.58 L946.61,280.59 L946.82,280.61 L947.02,280.63 L947.23,280.64 L947.43,280.66 L947.64,280.67 L947.84,280.69 L948.04,280.09 L948.25,270.02 L948.45,260.25 L948.66,250.85 L948.86,241.89 L949.07,233.44 L949.27,225.58 L949.48,218.38 L949.68,211.73 L949.88,204.88 L950.09,197.91 L950.29,191.04 L950.50,184.45 L950.70,178.34 L950.91,172.91 L951.11,168.37 L951.32,164.91 L951.52,162.72 L951.73,162.02 L951.93,163.95 L952.13,168.15 L952.34,173.04 L952.54,177.01 L952.75,178.48 L952.95,177.79 L953.16,176.19 L953.36,174.07 L953.57,171.78 L953.77,169.71 L953.97,168.23 L954.18,167.72 L954.38,170.04 L954.59,175.59 L954.79,183.22 L955.00,191.79 L955.20,200.14 L955.41,207.15 L955.61,213.62 L955.81,220.39 L956.02,227.09 L956.22,233.35 L956.43,238.80 L956.63,243.06 L956.84,246.03 L957.04,248.59 L957.25,250.88 L957.45,252.89 L957.66,254.66 L957.86,256.18 L958.06,257.47 L958.27,258.54 L958.47,259.49 L958.68,260.39 L958.88,261.24 L959.09,262.03 L959.29,262.77 L959.50,263.46 L959.70,264.11 L959.90,264.70 L960.11,265.25 L960.31,265.76 L960.52,266.22 L960.72,266.65 L960.93,267.03 L961.13,267.37 L961.34,267.67 L961.54,267.94 L961.74,268.21 L961.95,268.46 L962.15,268.70 L962.36,268.93 L962.56,269.15 L962.77,269.35 L962.97,269.55 L963.18,269.74 L963.38,269.92 L963.59,270.09 L963.79,270.25 L963.99,270.41 L964.20,270.56 L964.40,270.70 L964.61,270.84 L964.81,270.97 L965.02,271.10 L965.22,271.22 L965.43,271.34 L965.63,271.46 L965.83,271.57 L966.04,271.69 L966.24,271.80 L966.45,271.91 L966.65,272.02 L966.86,272.13 L967.06,272.23 L967.27,272.33 L967.47,272.43 L967.68,272.53 L967.88,272.62 L968.08,272.71 L968.29,272.80 L968.49,272.89 L968.70,272.97 L968.90,273.06 L969.11,273.14 L969.31,273.21 L969.52,273.29 L969.72,273.37 L969.92,273.44 L970.13,273.51 L970.33,273.58 L970.54,273.65 L970.74,273.72 L970.95,273.79 L971.15,273.85 L971.36,273.92 L971.56,273.98 L971.76,274.05 L971.97,274.11 L972.17,274.17 L972.38,274.24 L972.58,274.30 L972.79,274.36 L972.99,274.42 L973.20,274.49 L973.40,274.55 L973.61,274.61 L973.81,274.68 L974.01,274.74 L974.22,274.80 L974.42,274.86 L974.63,274.93 L974.83,274.99 L975.04,275.05 L975.24,275.11 L975.45,275.17 L975.65,275.23 L975.85,275.29 L976.06,275.35 L976.26,275.40 L976.47,275.46 L976.67,275.51 L976.88,275.57 L977.08,275.62 L977.29,275.67 L977.49,275.72 L977.69,275.77 L977.90,275.81 L978.10,275.86 L978.31,275.90 L978.51,275.94 L978.72,275.98 L978.92,276.02 L979.13,276.06 L979.33,276.09 L979.54,276.12 L979.74,276.15 L979.94,276.18 L980.15,276.20 L980.35,276.22 L980.56,276.24 L980.76,276.26 L980.97,276.27 L981.17,276.29 L981.38,276.30 L981.58,276.32 L981.78,276.33 L981.99,276.35 L982.19,276.36 L982.40,276.38 L982.60,276.39 L982.81,276.41 L983.01,276.42 L983.22,276.43 L983.42,276.45 L983.63,276.46 L983.83,276.47 L984.03,276.48 L984.24,276.50 L984.44,276.51 L984.65,276.52 L984.85,276.53 L985.06,276.54 L985.26,276.55 L985.47,276.56 L985.67,276.57 L985.87,276.58 L986.08,276.59 L986.28,276.59 L986.49,276.60 L986.69,276.61 L986.90,276.62 L987.10,276.62 L987.31,276.63 L987.51,276.63 L987.71,276.64 L987.92,269.38 L988.12,258.91 L988.33,248.80 L988.53,239.14 L988.74,229.99 L988.94,221.43 L989.15,213.55 L989.35,206.39 L989.56,199.25 L989.76,191.91 L989.96,184.59 L990.17,177.48 L990.37,170.81 L990.58,164.78 L990.78,159.60 L990.99,155.49 L991.19,152.66 L991.40,151.32 L991.60,152.16 L991.80,155.93 L992.01,161.07 L992.21,165.89 L992.42,168.69 L992.62,168.58 L992.83,167.23 L993.03,165.16 L993.24,162.77 L993.44,160.46 L993.64,158.62 L993.85,157.66 L994.05,158.67 L994.26,163.42 L994.46,170.85 L994.67,179.73 L994.87,188.86 L995.08,197.01 L995.28,203.82 L995.49,210.95 L995.69,218.16 L995.89,225.06 L996.10,231.24 L996.30,236.32 L996.51,239.93 L996.71,242.79 L996.92,245.34 L997.12,247.61 L997.33,249.61 L997.53,251.34 L997.73,252.83 L997.94,254.07 L998.14,255.13 L998.35,256.13 L998.55,257.07 L998.76,257.95 L998.96,258.78 L999.17,259.55 L999.37,260.28 L999.58,260.95 L999.78,261.57 L999.98,262.15 L1000.19,262.68 L1000.39,263.16 L1000.60,263.60 L1000.80,264.00 L1001.01,264.36 L1001.21,264.68 L1001.42,264.99 L1001.62,265.28 L1001.82,265.56 L1002.03,265.83 L1002.23,266.08 L1002.44,266.33 L1002.64,266.56 L1002.85,266.78 L1003.05,267.00 L1003.26,267.20 L1003.46,267.40 L1003.66,267.58 L1003.87,267.77 L1004.07,267.94 L1004.28,268.11 L1004.48,268.27 L1004.69,268.43 L1004.89,268.58 L1005.10,268.73 L1005.30,268.88 L1005.51,269.02 L1005.71,269.16 L1005.91,269.30 L1006.12,269.44 L1006.32,269.58 L1006.53,269.72 L1006.73,269.85 L1006.94,269.98 L1007.14,270.10 L1007.35,270.23 L1007.55,270.35 L1007.75,270.46 L1007.96,270.58 L1008.16,270.69 L1008.37,270.80 L1008.57,270.91 L1008.78,271.02 L1008.98,271.12 L1009.19,271.22 L1009.39,271.32 L1009.60,271.42 L1009.80,271.52 L1010.00,271.61 L1010.21,271.71 L1010.41,271.80 L1010.62,271.89 L1010.82,271.98 L1011.03,272.07 L1011.23,272.16 L1011.44,272.25 L1011.64,272.34 L1011.84,272.43 L1012.05,272.51 L1012.25,272.60 L1012.46,272.69 L1012.66,272.77 L1012.87,272.86 L1013.07,272.95 L1013.28,273.04 L1013.48,273.12 L1013.68,273.21 L1013.89,273.30 L1014.09,273.38 L1014.30,273.47 L1014.50,273.56 L1014.71,273.64 L1014.91,273.73 L1015.12,273.81 L1015.32,273.89 L1015.53,273.98 L1015.73,274.06 L1015.93,274.14 L1016.14,274.22 L1016.34,274.30 L1016.55,274.37 L1016.75,274.45 L1016.96,274.53 L1017.16,274.60 L1017.37,274.67 L1017.57,274.74 L1017.77,274.81 L1017.98,274.88 L1018.18,274.94 L1018.39,275.00 L1018.59,275.06 L1018.80,275.12 L1019.00,275.18 L1019.21,275.23 L1019.41,275.28 L1019.61,275.33 L1019.82,275.38 L1020.02,275.42 L1020.23,275.47 L1020.43,275.51 L1020.64,275.54 L1020.84,275.58 L1021.05,275.61 L1021.25,275.65 L1021.46,275.69 L1021.66,275.72 L1021.86,275.76 L1022.07,275.79 L1022.27,275.83 L1022.48,275.86 L1022.68,275.90 L1022.89,275.93 L1023.09,275.97 L1023.30,276.00 L1023.50,276.04 L1023.70,276.07 L1023.91,276.10 L1024.11,276.13 L1024.32,276.17 L1024.52,276.20 L1024.73,276.23 L1024.93,276.26 L1025.14,276.29 L1025.34,276.32 L1025.55,276.35 L1025.75,276.38 L1025.95,276.41 L1026.16,276.44 L1026.36,276.47 L1026.57,276.49 L1026.77,276.52 L1026.98,276.55 L1027.18,276.57 L1027.39,276.60 L1027.59,276.62 L1027.79,276.65 L1028.00,276.67 L1028.20,276.69 L1028.41,276.72 L1028.61,276.74 L1028.82,276.76 L1029.02,276.78 L1029.23,276.80 L1029.43,276.82 L1029.63,276.83 L1029.84,276.85 L1030.04,273.85 L1030.25,264.07 L1030.45,254.60 L1030.66,245.51 L1030.86,236.87 L1031.07,228.75 L1031.27,221.22 L1031.48,214.35 L1031.68,207.85 L1031.88,201.12 L1032.09,194.31 L1032.29,187.64 L1032.50,181.30 L1032.70,175.47 L1032.91,170.36 L1033.11,166.16 L1033.32,163.07 L1033.52,161.28 L1033.72,161.08 L1033.93,163.67 L1034.13,168.10 L1034.34,172.83 L1034.54,176.28 L1034.75,177.03 L1034.95,176.12 L1035.16,174.40 L1035.36,172.26 L1035.56,170.05 L1035.77,168.13 L1035.97,166.89 L1036.18,166.82 L1036.38,169.98 L1036.59,176.03 L1036.79,183.85 L1037.00,192.31 L1037.20,200.28 L1037.41,206.83 L1037.61,213.28 L1037.81,219.94 L1038.02,226.45 L1038.22,232.43 L1038.43,237.53 L1038.63,241.39 L1038.84,244.14 L1039.04,246.60 L1039.25,248.78 L1039.45,250.71 L1039.65,252.39 L1039.86,253.84 L1040.06,255.06 L1040.27,256.08 L1040.47,257.01 L1040.68,257.89 L1040.88,258.71 L1041.09,259.49 L1041.29,260.21 L1041.50,260.89 L1041.70,261.52 L1041.90,262.11 L1042.11,262.65 L1042.31,263.15 L1042.52,263.60 L1042.72,264.01 L1042.93,264.39 L1043.13,264.72 L1043.34,265.02 L1043.54,265.30 L1043.74,265.57 L1043.95,265.82 L1044.15,266.07 L1044.36,266.30 L1044.56,266.52 L1044.77,266.73 L1044.97,266.93 L1045.18,267.12 L1045.38,267.31 L1045.58,267.48 L1045.79,267.65 L1045.99,267.81 L1046.20,267.97 L1046.40,268.12 L1046.61,268.26 L1046.81,268.40 L1047.02,268.54 L1047.22,268.67 L1047.43,268.80 L1047.63,268.92 L1047.83,269.05 L1048.04,269.17 L1048.24,269.29 L1048.45,269.41 L1048.65,269.53 L1048.86,269.64 L1049.06,269.76 L1049.27,269.86 L1049.47,269.97 L1049.67,270.08 L1049.88,270.18 L1050.08,270.28 L1050.29,270.37 L1050.49,270.47 L1050.70,270.56 L1050.90,270.65 L1051.11,270.74 L1051.31,270.83 L1051.51,270.91 L1051.72,271.00 L1051.92,271.08 L1052.13,271.16 L1052.33,271.24 L1052.54,271.32 L1052.74,271.40 L1052.95,271.47 L1053.15,271.55 L1053.36,271.62 L1053.56,271.70 L1053.76,271.77 L1053.97,271.84 L1054.17,271.92 L1054.38,271.99 L1054.58,272.06 L1054.79,272.13 L1054.99,272.21 L1055.20,272.28 L1055.40,272.35 L1055.60,272.42 L1055.81,272.50 L1056.01,272.57 L1056.22,272.64 L1056.42,272.71 L1056.63,272.79 L1056.83,272.86 L1057.04,272.93 L1057.24,273.00 L1057.45,273.07 L1057.65,273.14 L1057.85,273.20 L1058.06,273.27 L1058.26,273.34 L1058.47,273.40 L1058.67,273.47 L1058.88,273.53 L1059.08,273.59 L1059.29,273.65 L1059.49,273.71 L1059.69,273.77 L1059.90,273.82 L1060.10,273.88 L1060.31,273.93 L1060.51,273.98 L1060.72,274.03 L1060.92,274.08 L1061.13,274.12 L1061.33,274.17 L1061.53,274.21 L1061.74,274.25 L1061.94,274.28 L1062.15,274.32 L1062.35,274.35 L1062.56,274.38 L1062.76,274.40 L1062.97,274.43 L1063.17,274.45 L1063.38,274.48 L1063.58,274.51 L1063.78,274.53 L1063.99,274.56 L1064.19,274.58 L1064.40,274.61 L1064.60,274.63 L1064.81,274.66 L1065.01,274.68 L1065.22,274.70 L1065.42,274.73 L1065.62,274.75 L1065.83,274.77 L1066.03,274.80 L1066.24,274.82 L1066.44,274.84 L1066.65,274.86 L1066.85,274.88 L1067.06,274.91 L1067.26,274.93 L1067.47,274.95 L1067.67,274.97 L1067.87,274.99 L1068.08,275.01 L1068.28,275.02 L1068.49,275.04 L1068.69,275.06 L1068.90,275.08 L1069.10,275.09 L1069.31,275.11 L1069.51,275.13 L1069.71,275.14 L1069.92,275.16 L1070.12,275.17 L1070.33,275.18 L1070.53,275.20 L1070.74,275.21 L1070.94,275.22 L1071.15,275.23 L1071.35,275.24 L1071.55,275.25 L1071.76,270.09 L1071.96,258.21 L1072.17,246.72 L1072.37,235.70 L1072.58,225.24 L1072.78,215.42 L1072.99,206.34 L1073.19,198.08 L1073.40,190.13 L1073.60,181.89 L1073.80,173.61 L1074.01,165.52 L1074.21,157.85 L1074.42,150.85 L1074.62,144.75 L1074.83,139.80 L1075.03,136.22 L1075.24,134.25 L1075.44,134.38 L1075.64,137.92 L1075.85,143.49 L1076.05,149.18 L1076.26,153.07 L1076.46,153.61 L1076.67,152.36 L1076.87,150.19 L1077.08,147.55 L1077.28,144.88 L1077.48,142.63 L1077.69,141.25 L1077.89,141.53 L1078.10,145.91 L1078.30,153.64 L1078.51,163.35 L1078.71,173.68 L1078.92,183.26 L1079.12,191.10 L1079.33,199.04 L1079.53,207.17 L1079.73,215.06 L1079.94,222.27 L1080.14,228.34 L1080.35,232.83 L1080.55,236.13 L1080.76,239.10 L1080.96,241.73 L1081.17,244.06 L1081.37,246.08 L1081.57,247.82 L1081.78,249.29 L1081.98,250.52 L1082.19,251.65 L1082.39,252.72 L1082.60,253.73 L1082.80,254.68 L1083.01,255.57 L1083.21,256.40 L1083.42,257.17 L1083.62,257.89 L1083.82,258.55 L1084.03,259.16 L1084.23,259.71 L1084.44,260.22 L1084.64,260.68 L1084.85,261.09 L1085.05,261.46 L1085.26,261.81 L1085.46,262.15 L1085.66,262.46 L1085.87,262.77 L1086.07,263.06 L1086.28,263.34 L1086.48,263.60 L1086.69,263.86 L1086.89,264.10 L1087.10,264.33 L1087.30,264.56 L1087.50,264.77 L1087.71,264.97 L1087.91,265.17 L1088.12,265.36 L1088.32,265.55 L1088.53,265.73 L1088.73,265.90 L1088.94,266.07 L1089.14,266.24 L1089.35,266.40 L1089.55,266.56 L1089.75,266.72 L1089.96,266.87 L1090.16,267.03 L1090.37,267.18 L1090.57,267.33 L1090.78,267.48 L1090.98,267.62 L1091.19,267.76 L1091.39,267.90 L1091.59,268.03 L1091.80,268.16 L1092.00,268.29 L1092.21,268.41 L1092.41,268.53 L1092.62,268.65 L1092.82,268.77 L1093.03,268.89 L1093.23,269.00 L1093.43,269.11 L1093.64,269.22 L1093.84,269.33 L1094.05,269.44 L1094.25,269.54 L1094.46,269.65 L1094.66,269.75 L1094.87,269.85 L1095.07,269.95 L1095.28,270.05 L1095.48,270.15 L1095.68,270.25 L1095.89,270.35 L1096.09,270.44 L1096.30,270.54 L1096.50,270.64 L1096.71,270.74 L1096.91,270.83 L1097.12,270.93 L1097.32,271.03 L1097.52,271.13 L1097.73,271.23 L1097.93,271.32 L1098.14,271.42 L1098.34,271.52 L1098.55,271.61 L1098.75,271.71 L1098.96,271.81 L1099.16,271.90 L1099.37,271.99 L1099.57,272.09 L1099.77,272.18 L1099.98,272.27 L1100.18,272.36 L1100.39,272.44 L1100.59,272.53 L1100.80,272.61 L1101.00,272.70 L1101.21,272.78 L1101.41,272.86 L1101.61,272.93 L1101.82,273.01 L1102.02,273.08 L1102.23,273.15 L1102.43,273.22 L1102.64,273.29 L1102.84,273.35 L1103.05,273.42 L1103.25,273.47 L1103.45,273.53 L1103.66,273.58 L1103.86,273.63 L1104.07,273.68 L1104.27,273.73 L1104.48,273.77 L1104.68,273.81 L1104.89,273.85 L1105.09,273.89 L1105.30,273.93 L1105.50,273.97 L1105.70,274.01 L1105.91,274.05 L1106.11,274.09 L1106.32,274.13 L1106.52,274.17 L1106.73,274.21 L1106.93,274.25 L1107.14,274.29 L1107.34,274.32 L1107.54,274.36 L1107.75,274.40 L1107.95,274.44 L1108.16,274.47 L1108.36,274.51 L1108.57,274.54 L1108.77,274.58 L1108.98,274.61 L1109.18,274.65 L1109.38,274.68 L1109.59,274.71 L1109.79,274.75 L1110.00,274.78 L1110.20,274.81 L1110.41,268.59 L1110.61,257.32 L1110.82,246.42 L1111.02,235.98 L1111.23,226.08 L1111.43,216.81 L1111.63,208.25 L1111.84,200.48 L1112.04,192.87 L1112.25,185.01 L1112.45,177.14 L1112.66,169.47 L1112.86,162.24 L1113.07,155.66 L1113.27,149.97 L1113.47,145.40 L1113.68,142.16 L1113.88,140.49 L1114.09,140.96 L1114.29,144.67 L1114.50,150.10 L1114.70,155.42 L1114.91,158.84 L1115.11,159.06 L1115.32,157.75 L1115.52,155.62 L1115.72,153.08 L1115.93,150.57 L1116.13,148.50 L1116.34,147.31 L1116.54,147.94 L1116.75,152.54 L1116.95,160.20 L1117.16,169.60 L1117.36,179.43 L1117.56,188.40 L1117.77,195.77 L1117.97,203.38 L1118.18,211.13 L1118.38,218.60 L1118.59,225.36 L1118.79,231.00 L1119.00,235.08 L1119.20,238.19 L1119.40,240.98 L1119.61,243.46 L1119.81,245.63 L1120.02,247.53 L1120.22,249.16 L1120.43,250.52 L1120.63,251.68 L1120.84,252.75 L1121.04,253.76 L1121.25,254.72 L1121.45,255.61 L1121.65,256.45 L1121.86,257.23 L1122.06,257.96 L1122.27,258.63 L1122.47,259.26 L1122.68,259.83 L1122.88,260.35 L1123.09,260.83 L1123.29,261.26 L1123.49,261.64 L1123.70,261.99 L1123.90,262.32 L1124.11,262.63 L1124.31,262.93 L1124.52,263.22 L1124.72,263.49 L1124.93,263.75 L1125.13,264.00 L1125.33,264.24 L1125.54,264.47 L1125.74,264.69 L1125.95,264.90 L1126.15,265.10 L1126.36,265.29 L1126.56,265.48 L1126.77,265.65 L1126.97,265.83 L1127.18,265.99 L1127.38,266.16 L1127.58,266.32 L1127.79,266.47 L1127.99,266.62 L1128.20,266.77 L1128.40,266.92 L1128.61,267.07 L1128.81,267.21 L1129.02,267.36 L1129.22,267.50 L1129.42,267.63 L1129.63,267.77 L1129.83,267.90 L1130.04,268.02 L1130.24,268.15 L1130.45,268.27 L1130.65,268.39 L1130.86,268.50 L1131.06,268.62 L1131.27,268.73 L1131.47,268.84 L1131.67,268.95 L1131.88,269.05 L1132.08,269.16 L1132.29,269.26 L1132.49,269.36 L1132.70,269.46 L1132.90,269.56 L1133.11,269.65 L1133.31,269.75 L1133.51,269.84 L1133.72,269.94 L1133.92,270.03 L1134.13,270.12 L1134.33,270.21 L1134.54,270.30 L1134.74,270.39 L1134.95,270.48 L1135.15,270.57 L1135.35,270.66 L1135.56,270.75 L1135.76,270.85 L1135.97,270.94 L1136.17,271.03 L1136.38,271.12 L1136.58,271.21 L1136.79,271.30 L1136.99,271.39 L1137.20,271.48 L1137.40,271.57 L1137.60,271.66 L1137.81,271.74 L1138.01,271.83 L1138.22,271.92 L1138.42,272.00 L1138.63,272.08 L1138.83,272.17 L1139.04,272.25 L1139.24,272.33 L1139.44,272.40 L1139.65,272.48 L1139.85,272.55 L1140.06,272.63 L1140.26,272.70 L1140.47,272.77 L1140.67,272.84 L1140.88,272.90 L1141.08,272.96 L1141.29,273.02 L1141.49,273.08 L1141.69,273.14 L1141.90,273.19 L1142.10,273.24 L1142.31,273.29 L1142.51,273.34 L1142.72,273.38 L1142.92,273.42 L1143.13,273.46 L1143.33,273.49 L1143.53,273.53 L1143.74,273.56 L1143.94,273.60 L1144.15,273.64 L1144.35,273.67 L1144.56,273.71 L1144.76,273.74 L1144.97,273.78 L1145.17,273.81 L1145.37,273.85 L1145.58,273.88 L1145.78,273.92 L1145.99,273.95 L1146.19,273.98 L1146.40,274.02 L1146.60,274.05 L1146.81,274.08 L1147.01,274.11 L1147.22,274.15 L1147.42,274.18 L1147.62,274.21 L1147.83,274.24 L1148.03,274.27 L1148.24,274.30 L1148.44,274.32 L1148.65,274.35 L1148.85,274.38 L1149.06,274.41 L1149.26,274.43 L1149.46,274.46 L1149.67,274.48 L1149.87,274.51 L1150.08,274.53 L1150.28,274.56 L1150.49,274.58 L1150.69,274.60 L1150.90,274.62 L1151.10,274.64 L1151.30,274.66 L1151.51,274.68 L1151.71,274.70 L1151.92,274.72 L1152.12,274.74 L1152.33,274.75 L1152.53,274.77 L1152.74,274.78 L1152.94,274.80 L1153.15,274.81 L1153.35,274.82 L1153.55,274.83 L1153.76,274.84 L1153.96,274.85 L1154.17,268.51 L1154.37,259.27 L1154.58,250.35 L1154.78,241.82 L1154.99,233.74 L1155.19,226.19 L1155.39,219.22 L1155.60,212.90 L1155.80,206.60 L1156.01,200.12 L1156.21,193.65 L1156.42,187.38 L1156.62,181.48 L1156.83,176.16 L1157.03,171.58 L1157.24,167.95 L1157.44,165.44 L1157.64,164.25 L1157.85,164.98 L1158.05,168.30 L1158.26,172.84 L1158.46,177.10 L1158.67,179.60 L1158.87,179.53 L1159.08,178.35 L1159.28,176.54 L1159.48,174.44 L1159.69,172.41 L1159.89,170.80 L1160.10,169.95 L1160.30,170.84 L1160.51,175.02 L1160.71,181.58 L1160.92,189.43 L1161.12,197.50 L1161.32,204.72 L1161.53,210.75 L1161.73,217.06 L1161.94,223.44 L1162.14,229.54 L1162.35,235.02 L1162.55,239.53 L1162.76,242.74 L1162.96,245.27 L1163.17,247.55 L1163.37,249.57 L1163.57,251.35 L1163.78,252.89 L1163.98,254.22 L1164.19,255.33 L1164.39,256.28 L1164.60,257.18 L1164.80,258.02 L1165.01,258.81 L1165.21,259.56 L1165.41,260.26 L1165.62,260.91 L1165.82,261.52 L1166.03,262.08 L1166.23,262.60 L1166.44,263.09 L1166.64,263.53 L1166.85,263.93 L1167.05,264.29 L1167.25,264.62 L1167.46,264.92 L1167.66,265.21 L1167.87,265.48 L1168.07,265.74 L1168.28,265.99 L1168.48,266.23 L1168.69,266.46 L1168.89,266.68 L1169.10,266.89 L1169.30,267.09 L1169.50,267.28 L1169.71,267.47 L1169.91,267.65 L1170.12,267.82 L1170.32,267.99 L1170.53,268.15 L1170.73,268.31 L1170.94,268.46 L1171.14,268.61 L1171.34,268.76 L1171.55,268.90 L1171.75,269.04 L1171.96,269.18 L1172.16,269.32 L1172.37,269.46 L1172.57,269.59 L1172.78,269.72 L1172.98,269.85 L1173.19,269.98 L1173.39,270.11 L1173.59,270.23 L1173.80,270.35 L1174.00,270.47 L1174.21,270.58 L1174.41,270.70 L1174.62,270.81 L1174.82,270.92 L1175.03,271.02 L1175.23,271.13 L1175.43,271.23 L1175.64,271.34 L1175.84,271.44 L1176.05,271.54 L1176.25,271.63 L1176.46,271.73 L1176.66,271.83 L1176.87,271.92 L1177.07,272.02 L1177.27,272.11 L1177.48,272.20 L1177.68,272.29 L1177.89,272.38 L1178.09,272.48 L1178.30,272.57 L1178.50,272.66 L1178.71,272.75 L1178.91,272.84 L1179.12,272.93 L1179.32,273.02 L1179.52,273.11 L1179.73,273.20 L1179.93,273.29 L1180.14,273.38 L1180.34,273.47 L1180.55,273.56 L1180.75,273.65 L1180.96,273.74 L1181.16,273.83 L1181.36,273.92 L1181.57,274.00 L1181.77,274.09 L1181.98,274.18 L1182.18,274.26 L1182.39,274.35 L1182.59,274.43 L1182.80,274.51 L1183.00,274.59 L1183.20,274.67 L1183.41,274.75 L1183.61,274.83 L1183.82,274.90 L1184.02,274.98 L1184.23,275.05 L1184.43,275.12 L1184.64,275.19 L1184.84,275.26 L1185.05,275.32 L1185.25,275.38 L1185.45,275.45 L1185.66,275.51 L1185.86,275.56 L1186.07,275.62 L1186.27,275.67 L1186.48,275.72 L1186.68,275.77 L1186.89,275.82 L1187.09,275.86 L1187.29,275.91 L1187.50,275.95 L1187.70,276.00 L1187.91,276.04 L1188.11,276.09 L1188.32,276.13 L1188.52,276.18 L1188.73,276.22 L1188.93,276.27 L1189.14,276.31 L1189.34,276.36 L1189.54,276.40 L1189.75,276.44 L1189.95,276.49 L1190.16,276.53 L1190.36,276.57 L1190.57,276.61 L1190.77,276.66 L1190.98,276.70 L1191.18,276.74 L1191.38,276.78 L1191.59,276.82 L1191.79,276.86 L1192.00,276.90 L1192.20,276.94 L1192.41,276.98 L1192.61,277.02 L1192.82,277.05 L1193.02,277.09 L1193.22,277.13 L1193.43,277.16 L1193.63,277.20 L1193.84,277.24 L1194.04,277.27 L1194.25,277.31 L1194.45,277.34 L1194.66,277.37 L1194.86,277.41 L1195.07,277.44 L1195.27,277.47 L1195.47,277.50 L1195.68,277.53 L1195.88,277.56 L1196.09,277.59 L1196.29,277.62 L1196.50,277.64 L1196.70,277.67 L1196.91,277.70 L1197.11,277.72 L1197.31,269.63 L1197.52,259.74 L1197.72,250.20 L1197.93,241.09 L1198.13,232.47 L1198.34,224.43 L1198.54,217.03 L1198.75,210.29 L1198.95,203.49 L1199.16,196.52 L1199.36,189.58 L1199.56,182.87 L1199.77,176.60 L1199.97,170.97 L1200.18,166.17 L1200.38,162.40 L1200.59,159.87 L1200.79,158.77 L1201.00,159.92 L1201.20,163.73 L1201.40,168.64 L1201.61,173.06 L1201.81,175.37 L1202.02,175.04 L1202.22,173.66 L1202.43,171.65 L1202.63,169.37 L1202.84,167.22 L1203.04,165.56 L1203.24,164.77 L1203.45,166.15 L1203.65,171.02 L1203.86,178.29 L1204.06,186.80 L1204.27,195.40 L1204.47,202.94 L1204.68,209.38 L1204.88,216.17 L1205.09,223.00 L1205.29,229.47 L1205.49,235.23 L1205.70,239.89 L1205.90,243.17 L1206.11,245.85 L1206.31,248.24 L1206.52,250.36 L1206.72,252.23 L1206.93,253.85 L1207.13,255.23 L1207.33,256.39 L1207.54,257.38 L1207.74,258.33 L1207.95,259.21 L1208.15,260.05 L1208.36,260.83 L1208.56,261.56 L1208.77,262.25 L1208.97,262.88 L1209.17,263.47 L1209.38,264.02 L1209.58,264.52 L1209.79,264.97 L1209.99,265.39 L1210.20,265.77 L1210.40,266.10 L1210.61,266.41 L1210.81,266.70 L1211.02,266.98 L1211.22,267.25 L1211.42,267.51 L1211.63,267.75 L1211.83,267.99 L1212.04,268.21 L1212.24,268.42 L1212.45,268.63 L1212.65,268.82 L1212.86,269.01 L1213.06,269.20 L1213.26,269.37 L1213.47,269.54 L1213.67,269.70 L1213.88,269.86 L1214.08,270.01 L1214.29,270.16 L1214.49,270.30 L1214.70,270.45 L1214.90,270.59 L1215.11,270.72 L1215.31,270.86 L1215.51,271.00 L1215.72,271.13 L1215.92,271.26 L1216.13,271.39 L1216.33,271.52 L1216.54,271.64 L1216.74,271.76 L1216.95,271.88 L1217.15,271.99 L1217.35,272.11 L1217.56,272.22 L1217.76,272.33 L1217.97,272.43 L1218.17,272.54 L1218.38,272.64 L1218.58,272.74 L1218.79,272.84 L1218.99,272.94 L1219.19,273.03 L1219.40,273.13 L1219.60,273.22 L1219.81,273.31 L1220.01,273.40 L1220.22,273.49 L1220.42,273.58 L1220.63,273.67 L1220.83,273.76 L1221.04,273.84 L1221.24,273.93 L1221.44,274.02 L1221.65,274.10 L1221.85,274.19 L1222.06,274.28 L1222.26,274.36 L1222.47,274.45 L1222.67,274.54 L1222.88,274.62 L1223.08,274.71 L1223.28,274.79 L1223.49,274.88 L1223.69,274.97 L1223.90,275.05 L1224.10,275.14 L1224.31,275.22 L1224.51,275.31 L1224.72,275.39 L1224.92,275.47 L1225.12,275.55 L1225.33,275.63 L1225.53,275.71 L1225.74,275.79 L1225.94,275.87 L1226.15,275.94 L1226.35,276.02 L1226.56,276.09 L1226.76,276.16 L1226.97,276.23 L1227.17,276.30 L1227.37,276.37 L1227.58,276.43 L1227.78,276.50 L1227.99,276.56 L1228.19,276.62 L1228.40,276.67 L1228.60,276.73 L1228.81,276.78 L1229.01,276.83 L1229.21,276.88 L1229.42,276.93 L1229.62,276.97 L1229.83,277.01 L1230.03,277.05 L1230.24,277.09 L1230.44,277.12 L1230.65,277.16 L1230.85,277.20 L1231.06,277.24 L1231.26,277.28 L1231.46,277.31 L1231.67,277.35 L1231.87,277.39 L1232.08,277.42 L1232.28,277.46 L1232.49,277.50 L1232.69,277.53 L1232.90,277.57 L1233.10,277.61 L1233.30,277.64 L1233.51,277.68 L1233.71,277.71 L1233.92,277.74 L1234.12,277.78 L1234.33,277.81 L1234.53,277.84 L1234.74,277.88 L1234.94,277.91 L1235.14,277.94 L1235.35,277.97 L1235.55,278.00 L1235.76,278.03 L1235.96,278.06 L1236.17,278.09 L1236.37,278.12 L1236.58,278.15 L1236.78,278.18 L1236.99,278.20 L1237.19,278.23 L1237.39,278.26 L1237.60,278.28 L1237.80,278.31 L1238.01,278.33 L1238.21,267.63 L1238.42,256.31 L1238.62,245.41 L1238.83,235.01 L1239.03,225.18 L1239.23,216.03 L1239.44,207.62 L1239.64,199.93 L1239.85,192.07 L1240.05,184.05 L1240.26,176.10 L1240.46,168.45 L1240.67,161.32 L1240.87,154.94 L1241.07,149.56 L1241.28,145.39 L1241.48,142.66 L1241.69,141.61 L1241.89,143.34 L1242.10,147.96 L1242.30,153.62 L1242.51,158.48 L1242.71,160.70 L1242.92,160.10 L1243.12,158.39 L1243.32,156.00 L1243.53,153.37 L1243.73,150.92 L1243.94,149.10 L1244.14,148.32 L1244.35,150.40 L1244.55,156.38 L1244.76,164.95 L1244.96,174.79 L1245.16,184.56 L1245.37,192.96 L1245.57,200.37 L1245.78,208.18 L1245.98,215.97 L1246.19,223.31 L1246.39,229.77 L1246.60,234.93 L1246.80,238.52 L1247.01,241.53 L1247.21,244.23 L1247.41,246.61 L1247.62,248.70 L1247.82,250.51 L1248.03,252.05 L1248.23,253.33 L1248.44,254.45 L1248.64,255.50 L1248.85,256.50 L1249.05,257.43 L1249.25,258.31 L1249.46,259.12 L1249.66,259.89 L1249.87,260.59 L1250.07,261.25 L1250.28,261.85 L1250.48,262.40 L1250.69,262.90 L1250.89,263.36 L1251.09,263.77 L1251.30,264.13 L1251.50,264.47 L1251.71,264.78 L1251.91,265.09 L1252.12,265.38 L1252.32,265.65 L1252.53,265.92 L1252.73,266.17 L1252.94,266.41 L1253.14,266.63 L1253.34,266.85 L1253.55,267.06 L1253.75,267.26 L1253.96,267.45 L1254.16,267.63 L1254.37,267.81 L1254.57,267.98 L1254.78,268.14 L1254.98,268.30 L1255.18,268.45 L1255.39,268.60 L1255.59,268.75 L1255.80,268.89 L1256.00,269.03 L1256.21,269.18 L1256.41,269.31 L1256.62,269.45 L1256.82,269.59 L1257.02,269.72 L1257.23,269.85 L1257.43,269.97 L1257.64,270.09 L1257.84,270.21 L1258.05,270.32 L1258.25,270.44 L1258.46,270.55 L1258.66,270.65 L1258.87,270.76 L1259.07,270.86 L1259.27,270.96 L1259.48,271.06 L1259.68,271.16 L1259.89,271.25 L1260.09,271.35 L1260.30,271.44 L1260.50,271.53 L1260.71,271.62 L1260.91,271.71 L1261.11,271.79 L1261.32,271.88 L1261.52,271.96 L1261.73,272.05 L1261.93,272.13 L1262.14,272.21 L1262.34,272.30 L1262.55,272.38 L1262.75,272.46 L1262.96,272.54 L1263.16,272.63 L1263.36,272.71 L1263.57,272.79 L1263.77,272.87 L1263.98,272.96 L1264.18,273.04 L1264.39,273.12 L1264.59,273.20 L1264.80,273.29 L1265.00,273.37" fill="none" stroke="#E38F3A" stroke-width="2" stroke-linejoin="round" stroke-linecap="round" />
<rect x="927.8" y="15" width="337.2" height="272" fill="none" stroke="#000" stroke-width="2"/>
<line x1="924.8" y1="245.73" x2="927.8" y2="245.73" stroke="#000" stroke-width="2"/>
<line x1="924.8" y1="179.98" x2="927.8" y2="179.98" stroke="#000" stroke-width="2"/>
<line x1="924.8" y1="114.23" x2="927.8" y2="114.23" stroke="#000" stroke-width="2"/>
<line x1="924.8" y1="48.48" x2="927.8" y2="48.48" stroke="#000" stroke-width="2"/>
<line x1="921.8" y1="278.6" x2="927.8" y2="278.6" stroke="#000" stroke-width="2"/>
<text x="917.8" y="285.4" font-size="20" text-anchor="end" font-weight="normal" >0.0</text>
<line x1="921.8" y1="212.85" x2="927.8" y2="212.85" stroke="#000" stroke-width="2"/>
<text x="917.8" y="219.65" font-size="20" text-anchor="end" font-weight="normal" >2.5</text>
<line x1="921.8" y1="147.1" x2="927.8" y2="147.1" stroke="#000" stroke-width="2"/>
<text x="917.8" y="153.9" font-size="20" text-anchor="end" font-weight="normal" >5.0</text>
<line x1="921.8" y1="81.35" x2="927.8" y2="81.35" stroke="#000" stroke-width="2"/>
<text x="917.8" y="88.15" font-size="20" text-anchor="end" font-weight="normal" >7.5</text>
<line x1="921.8" y1="15.6" x2="927.8" y2="15.6" stroke="#000" stroke-width="2"/>
<text x="917.8" y="22.4" font-size="20" text-anchor="end" font-weight="normal" >10.0</text>
<line x1="953.35" y1="287" x2="953.35" y2="290" stroke="#000" stroke-width="2"/>
<line x1="1004.44" y1="287" x2="1004.44" y2="290" stroke="#000" stroke-width="2"/>
<line x1="1055.53" y1="287" x2="1055.53" y2="290" stroke="#000" stroke-width="2"/>
<line x1="1106.62" y1="287" x2="1106.62" y2="290" stroke="#000" stroke-width="2"/>
<line x1="1157.71" y1="287" x2="1157.71" y2="290" stroke="#000" stroke-width="2"/>
<line x1="1208.8" y1="287" x2="1208.8" y2="290" stroke="#000" stroke-width="2"/>
<line x1="1259.89" y1="287" x2="1259.89" y2="290" stroke="#000" stroke-width="2"/>
<line x1="927.8" y1="287" x2="927.8" y2="293" stroke="#000" stroke-width="2"/>
<text x="927.8" y="312" font-size="20" text-anchor="middle" font-weight="normal" >0</text>
<line x1="978.89" y1="287" x2="978.89" y2="293" stroke="#000" stroke-width="2"/>
<text x="978.89" y="312" font-size="20" text-anchor="middle" font-weight="normal" >5</text>
<line x1="1029.98" y1="287" x2="1029.98" y2="293" stroke="#000" stroke-width="2"/>
<text x="1029.98" y="312" font-size="20" text-anchor="middle" font-weight="normal" >10</text>
<line x1="1081.07" y1="287" x2="1081.07" y2="293" stroke="#000" stroke-width="2"/>
<text x="1081.07" y="312" font-size="20" text-anchor="middle" font-weight="normal" >15</text>
<line x1="1132.16" y1="287" x2="1132.16" y2="293" stroke="#000" stroke-width="2"/>
<text x="1132.16" y="312" font-size="20" text-anchor="middle" font-weight="normal" >20</text>
<line x1="1183.25" y1="287" x2="1183.25" y2="293" stroke="#000" stroke-width="2"/>
<text x="1183.25" y="312" font-size="20" text-anchor="middle" font-weight="normal" >25</text>
<line x1="1234.35" y1="287" x2="1234.35" y2="293" stroke="#000" stroke-width="2"/>
<text x="1234.35" y="312" font-size="20" text-anchor="middle" font-weight="normal" >30</text>
<text x="1096.4" y="331" font-size="20" text-anchor="middle" font-weight="normal" >Time (s)</text>
<text transform="translate(884,151) rotate(-90)" font-size="20.5" text-anchor="middle">&#916;R/R<tspan font-size="12.71" dy="4.1">0</tspan><tspan dy="-4.1"> (%)</tspan></text>
<text x="841" y="30" font-size="33.5" text-anchor="start" font-weight="bold" >(c)</text>
<path d="M77.80,627.40 L78.09,627.26 L78.38,627.08 L78.67,626.85 L78.96,626.57 L79.25,626.23 L79.54,625.84 L79.83,625.39 L80.12,624.88 L80.41,624.32 L80.70,623.70 L80.99,623.04 L81.28,622.33 L81.58,621.58 L81.87,620.78 L82.16,619.95 L82.45,619.09 L82.74,618.19 L83.03,617.27 L83.32,616.32 L83.61,615.36 L83.90,614.37 L84.19,613.38 L84.48,612.37 L84.77,611.36 L85.06,610.34 L85.35,609.32 L85.64,608.30 L85.93,607.28 L86.22,606.27 L86.51,605.27 L86.80,604.27 L87.09,603.27 L87.38,602.28 L87.67,601.28 L87.96,600.28 L88.25,599.26 L88.55,598.24 L88.84,597.20 L89.13,596.14 L89.42,595.06 L89.71,593.97 L90.00,592.87 L90.29,591.77 L90.58,590.66 L90.87,589.55 L91.16,588.45 L91.45,587.37 L91.74,586.30 L92.03,585.26 L92.32,584.24 L92.61,583.25 L92.90,582.29 L93.19,581.36 L93.48,580.46 L93.77,579.59 L94.06,578.74 L94.35,577.92 L94.64,577.11 L94.93,576.32 L95.22,575.55 L95.51,574.80 L95.81,574.06 L96.10,573.35 L96.39,572.65 L96.68,571.98 L96.97,571.33 L97.26,570.72 L97.55,570.13 L97.84,569.58 L98.13,569.07 L98.42,568.59 L98.71,568.15 L99.00,567.75 L99.29,567.38 L99.58,567.04 L99.87,566.73 L100.16,566.45 L100.45,566.18 L100.74,565.94 L101.03,565.71 L101.32,565.50 L101.61,565.29 L101.90,565.10 L102.19,564.92 L102.48,564.75 L102.78,564.59 L103.07,564.45 L103.36,564.31 L103.65,564.20 L103.94,564.09 L104.23,564.00 L104.52,563.92 L104.81,563.86 L105.10,563.81 L105.39,563.78 L105.68,563.75 L105.97,563.74 L106.26,563.74 L106.55,563.75 L106.84,563.76 L107.13,563.78 L107.42,563.80 L107.71,563.83 L108.00,563.87 L108.29,563.91 L108.58,563.95 L108.87,564.01 L109.16,564.07 L109.45,564.14 L109.74,564.22 L110.04,564.32 L110.33,564.44 L110.62,564.58 L110.91,564.74 L111.20,564.93 L111.49,565.13 L111.78,565.36 L112.07,565.61 L112.36,565.87 L112.65,566.14 L112.94,566.41 L113.23,566.68 L113.52,566.94 L113.81,567.18 L114.10,567.40 L114.39,567.60 L114.68,567.77 L114.97,567.90 L115.26,568.00 L115.55,568.06 L115.84,568.09 L116.13,568.08 L116.42,568.03 L116.71,567.96 L117.01,567.86 L117.30,567.73 L117.59,567.58 L117.88,567.41 L118.17,567.23 L118.46,567.04 L118.75,566.83 L119.04,566.62 L119.33,566.40 L119.62,566.19 L119.91,565.97 L120.20,565.76 L120.49,565.56 L120.78,565.36 L121.07,565.18 L121.36,565.01 L121.65,564.87 L121.94,564.74 L122.23,564.64 L122.52,564.56 L122.81,564.51 L123.10,564.48 L123.39,564.49 L123.68,564.53 L123.97,564.60 L124.27,564.70 L124.56,564.83 L124.85,564.99 L125.14,565.18 L125.43,565.40 L125.72,565.65 L126.01,565.91 L126.30,566.21 L126.59,566.52 L126.88,566.85 L127.17,567.21 L127.46,567.58 L127.75,567.98 L128.04,568.40 L128.33,568.84 L128.62,569.32 L128.91,569.83 L129.20,570.38 L129.49,570.98 L129.78,571.63 L130.07,572.35 L130.36,573.12 L130.65,573.96 L130.94,574.87 L131.24,575.83 L131.53,576.84 L131.82,577.91 L132.11,579.01 L132.40,580.16 L132.69,581.33 L132.98,582.52 L133.27,583.73 L133.56,584.95 L133.85,586.17 L134.14,587.40 L134.43,588.62 L134.72,589.85 L135.01,591.08 L135.30,592.32 L135.59,593.56 L135.88,594.82 L136.17,596.09 L136.46,597.37 L136.75,598.66 L137.04,599.96 L137.33,601.26 L137.62,602.57 L137.91,603.86 L138.21,605.14 L138.50,606.40 L138.79,607.63 L139.08,608.83 L139.37,609.98 L139.66,611.09 L139.95,612.15 L140.24,613.16 L140.53,614.12 L140.82,615.04 L141.11,615.91 L141.40,616.74 L141.69,617.53 L141.98,618.30 L142.27,619.04 L142.56,619.76 L142.85,620.46 L143.14,621.14 L143.43,621.79 L143.72,622.43 L144.01,623.04 L144.30,623.62 L144.59,624.16 L144.88,624.68 L145.17,625.15 L145.47,625.59 L145.76,625.97 L146.05,626.31 L146.34,626.60 L146.63,626.83 L146.92,627.00 L147.21,627.10 L147.50,627.15 L147.79,627.12 L148.08,627.03 L148.37,626.88 L148.66,626.65 L148.95,626.36 L149.24,626.00 L149.53,625.58 L149.82,625.10 L150.11,624.56 L150.40,623.97 L150.69,623.33 L150.98,622.64 L151.27,621.90 L151.56,621.12 L151.85,620.31 L152.14,619.45 L152.44,618.57 L152.73,617.66 L153.02,616.72 L153.31,615.77 L153.60,614.79 L153.89,613.80 L154.18,612.80 L154.47,611.79 L154.76,610.77 L155.05,609.75 L155.34,608.73 L155.63,607.71 L155.92,606.70 L156.21,605.69 L156.50,604.69 L156.79,603.69 L157.08,602.70 L157.37,601.70 L157.66,600.70 L157.95,599.69 L158.24,598.67 L158.53,597.64 L158.82,596.59 L159.11,595.52 L159.40,594.43 L159.70,593.34 L159.99,592.23 L160.28,591.13 L160.57,590.02 L160.86,588.92 L161.15,587.82 L161.44,586.75 L161.73,585.70 L162.02,584.67 L162.31,583.66 L162.60,582.69 L162.89,581.75 L163.18,580.84 L163.47,579.95 L163.76,579.10 L164.05,578.26 L164.34,577.45 L164.63,576.65 L164.92,575.88 L165.21,575.12 L165.50,574.37 L165.79,573.65 L166.08,572.94 L166.37,572.26 L166.67,571.60 L166.96,570.97 L167.25,570.37 L167.54,569.81 L167.83,569.28 L168.12,568.79 L168.41,568.33 L168.70,567.91 L168.99,567.53 L169.28,567.18 L169.57,566.86 L169.86,566.56 L170.15,566.29 L170.44,566.04 L170.73,565.81 L171.02,565.58 L171.31,565.38 L171.60,565.18 L171.89,564.99 L172.18,564.82 L172.47,564.66 L172.76,564.51 L173.05,564.37 L173.34,564.24 L173.63,564.13 L173.93,564.04 L174.22,563.95 L174.51,563.89 L174.80,563.83 L175.09,563.79 L175.38,563.76 L175.67,563.75 L175.96,563.74 L176.25,563.74 L176.54,563.75 L176.83,563.77 L177.12,563.79 L177.41,563.82 L177.70,563.85 L177.99,563.89 L178.28,563.93 L178.57,563.98 L178.86,564.04 L179.15,564.11 L179.44,564.19 L179.73,564.28 L180.02,564.39 L180.31,564.52 L180.60,564.67 L180.90,564.85 L181.19,565.04 L181.48,565.26 L181.77,565.50 L182.06,565.76 L182.35,566.02 L182.64,566.30 L182.93,566.57 L183.22,566.83 L183.51,567.08 L183.80,567.31 L184.09,567.52 L184.38,567.70 L184.67,567.85 L184.96,567.96 L185.25,568.04 L185.54,568.08 L185.83,568.09 L186.12,568.06 L186.41,567.99 L186.70,567.90 L186.99,567.79 L187.28,567.65 L187.57,567.49 L187.86,567.31 L188.16,567.12 L188.45,566.92 L188.74,566.71 L189.03,566.49 L189.32,566.28 L189.61,566.06 L189.90,565.85 L190.19,565.64 L190.48,565.44 L190.77,565.25 L191.06,565.08 L191.35,564.93 L191.64,564.79 L191.93,564.68 L192.22,564.59 L192.51,564.52 L192.80,564.49 L193.09,564.48 L193.38,564.51 L193.67,564.57 L193.96,564.65 L194.25,564.77 L194.54,564.92 L194.83,565.10 L195.13,565.31 L195.42,565.54 L195.71,565.80 L196.00,566.08 L196.29,566.38 L196.58,566.71 L196.87,567.06 L197.16,567.42 L197.45,567.81 L197.74,568.22 L198.03,568.65 L198.32,569.11 L198.61,569.61 L198.90,570.14 L199.19,570.72 L199.48,571.35 L199.77,572.04 L200.06,572.79 L200.35,573.60 L200.64,574.48 L200.93,575.41 L201.22,576.41 L201.51,577.45 L201.80,578.54 L202.09,579.67 L202.39,580.83 L202.68,582.02 L202.97,583.22 L203.26,584.43 L203.55,585.65 L203.84,586.88 L204.13,588.11 L204.42,589.33 L204.71,590.56 L205.00,591.80 L205.29,593.04 L205.58,594.29 L205.87,595.55 L206.16,596.83 L206.45,598.11 L206.74,599.41 L207.03,600.71 L207.32,602.02 L207.61,603.32 L207.90,604.60 L208.19,605.87 L208.48,607.12 L208.77,608.33 L209.06,609.50 L209.36,610.63 L209.65,611.71 L209.94,612.74 L210.23,613.72 L210.52,614.66 L210.81,615.55 L211.10,616.39 L211.39,617.20 L211.68,617.98 L211.97,618.73 L212.26,619.46 L212.55,620.16 L212.84,620.85 L213.13,621.52 L213.42,622.16 L213.71,622.78 L214.00,623.37 L214.29,623.94 L214.58,624.47 L214.87,624.96 L215.16,625.41 L215.45,625.82 L215.74,626.18 L216.03,626.48 L216.32,626.74 L216.62,626.93 L216.91,627.07 L217.20,627.14 L217.49,627.14 L217.78,627.08 L218.07,626.95 L218.36,626.75 L218.65,626.49 L218.94,626.16 L219.23,625.76 L219.52,625.31 L219.81,624.80 L220.10,624.23 L220.39,623.60 L220.68,622.93 L220.97,622.22 L221.26,621.45 L221.55,620.65 L221.84,619.82 L222.13,618.95 L222.42,618.05 L222.71,617.12 L223.00,616.17 L223.29,615.21 L223.59,614.22 L223.88,613.22 L224.17,612.21 L224.46,611.20 L224.75,610.18 L225.04,609.16 L225.33,608.14 L225.62,607.13 L225.91,606.12 L226.20,605.11 L226.49,604.12 L226.78,603.12 L227.07,602.12 L227.36,601.13 L227.65,600.12 L227.94,599.11 L228.23,598.08 L228.52,597.03 L228.81,595.97 L229.10,594.89 L229.39,593.80 L229.68,592.70 L229.97,591.59 L230.26,590.49 L230.55,589.38 L230.85,588.28 L231.14,587.20 L231.43,586.14 L231.72,585.10 L232.01,584.08 L232.30,583.10 L232.59,582.14 L232.88,581.22 L233.17,580.32 L233.46,579.46 L233.75,578.61 L234.04,577.79 L234.33,576.99 L234.62,576.20 L234.91,575.43 L235.20,574.68 L235.49,573.95 L235.78,573.24 L236.07,572.54 L236.36,571.88 L236.65,571.23 L236.94,570.62 L237.23,570.04 L237.52,569.50 L237.82,568.99 L238.11,568.52 L238.40,568.08 L238.69,567.69 L238.98,567.32 L239.27,566.99 L239.56,566.68 L239.85,566.40 L240.14,566.14 L240.43,565.90 L240.72,565.68 L241.01,565.46 L241.30,565.26 L241.59,565.07 L241.88,564.89 L242.17,564.72 L242.46,564.57 L242.75,564.43 L243.04,564.30 L243.33,564.18 L243.62,564.08 L243.91,563.99 L244.20,563.91 L244.49,563.85 L244.78,563.81 L245.08,563.77 L245.37,563.75 L245.66,563.74 L245.95,563.74 L246.24,563.75 L246.53,563.76 L246.82,563.78 L247.11,563.81 L247.40,563.84 L247.69,563.87 L247.98,563.91 L248.27,563.96 L248.56,564.02 L248.85,564.08 L249.14,564.15 L249.43,564.24 L249.72,564.34 L250.01,564.46 L250.30,564.60 L250.59,564.77 L250.88,564.96 L251.17,565.17 L251.46,565.40 L251.75,565.65 L252.05,565.91 L252.34,566.18 L252.63,566.45 L252.92,566.72 L253.21,566.98 L253.50,567.22 L253.79,567.44 L254.08,567.63 L254.37,567.79 L254.66,567.92 L254.95,568.01 L255.24,568.07 L255.53,568.09 L255.82,568.07 L256.11,568.02 L256.40,567.95 L256.69,567.84 L256.98,567.71 L257.27,567.56 L257.56,567.39 L257.85,567.20 L258.14,567.00 L258.43,566.80 L258.72,566.58 L259.02,566.37 L259.31,566.15 L259.60,565.94 L259.89,565.73 L260.18,565.52 L260.47,565.33 L260.76,565.15 L261.05,564.99 L261.34,564.85 L261.63,564.72 L261.92,564.62 L262.21,564.55 L262.50,564.50 L262.79,564.48 L263.08,564.50 L263.37,564.54 L263.66,564.61 L263.95,564.72 L264.24,564.86 L264.53,565.02 L264.82,565.22 L265.11,565.44 L265.40,565.69 L265.69,565.96 L265.98,566.25 L266.28,566.57 L266.57,566.91 L266.86,567.27 L267.15,567.64 L267.44,568.04 L267.73,568.46 L268.02,568.91 L268.31,569.39 L268.60,569.91 L268.89,570.47 L269.18,571.08 L269.47,571.74 L269.76,572.47 L270.05,573.25 L270.34,574.10 L270.63,575.01 L270.92,575.98 L271.21,577.01 L271.50,578.08 L271.79,579.19 L272.08,580.34 L272.37,581.51 L272.66,582.71 L272.95,583.92 L273.25,585.14 L273.54,586.36 L273.83,587.59 L274.12,588.81 L274.41,590.04 L274.70,591.27 L274.99,592.51 L275.28,593.76 L275.57,595.02 L275.86,596.29 L276.15,597.57 L276.44,598.86 L276.73,600.16 L277.02,601.47 L277.31,602.77 L277.60,604.06 L277.89,605.34 L278.18,606.59 L278.47,607.82 L278.76,609.01 L279.05,610.16 L279.34,611.26 L279.63,612.31 L279.92,613.32 L280.21,614.27 L280.51,615.18 L280.80,616.04 L281.09,616.86 L281.38,617.65 L281.67,618.42 L281.96,619.15 L282.25,619.87 L282.54,620.56 L282.83,621.24 L283.12,621.89 L283.41,622.52 L283.70,623.13 L283.99,623.70 L284.28,624.25 L284.57,624.75 L284.86,625.22 L285.15,625.65 L285.44,626.03 L285.73,626.36 L286.02,626.64 L286.31,626.86 L286.60,627.02 L286.89,627.11 L287.18,627.15 L287.48,627.11 L287.77,627.01 L288.06,626.84 L288.35,626.61 L288.64,626.31 L288.93,625.94 L289.22,625.51 L289.51,625.02 L289.80,624.47 L290.09,623.87 L290.38,623.22 L290.67,622.52 L290.96,621.78 L291.25,621.00 L291.54,620.18 L291.83,619.32 L292.12,618.43 L292.41,617.52 L292.70,616.58 L292.99,615.62 L293.28,614.64 L293.57,613.64 L293.86,612.64 L294.15,611.63 L294.44,610.61 L294.74,609.59 L295.03,608.57 L295.32,607.55 L295.61,606.54 L295.90,605.54 L296.19,604.54 L296.48,603.54 L296.77,602.55 L297.06,601.55 L297.35,600.55 L297.64,599.54 L297.93,598.51 L298.22,597.47 L298.51,596.42 L298.80,595.35 L299.09,594.26 L299.38,593.17 L299.67,592.06 L299.96,590.95 L300.25,589.85 L300.54,588.75 L300.83,587.66 L301.12,586.58 L301.41,585.53 L301.71,584.51 L302.00,583.51 L302.29,582.54 L302.58,581.61 L302.87,580.70 L303.16,579.82 L303.45,578.97 L303.74,578.13 L304.03,577.32 L304.32,576.53 L304.61,575.76 L304.90,575.00 L305.19,574.26 L305.48,573.54 L305.77,572.83 L306.06,572.16 L306.35,571.50 L306.64,570.88 L306.93,570.28 L307.22,569.73 L307.51,569.20 L307.80,568.71 L308.09,568.26 L308.38,567.85 L308.67,567.47 L308.97,567.13 L309.26,566.81 L309.55,566.52 L309.84,566.25 L310.13,566.00 L310.42,565.77 L310.71,565.55 L311.00,565.35 L311.29,565.15 L311.58,564.97 L311.87,564.79 L312.16,564.63 L312.45,564.48 L312.74,564.35 L313.03,564.23 L313.32,564.12 L313.61,564.02 L313.90,563.94 L314.19,563.88 L314.48,563.83 L314.77,563.79 L315.06,563.76 L315.35,563.74 L315.64,563.74 L315.94,563.74 L316.23,563.75 L316.52,563.77 L316.81,563.80 L317.10,563.82 L317.39,563.86 L317.68,563.90 L317.97,563.94 L318.26,563.99 L318.55,564.05 L318.84,564.12 L319.13,564.20 L319.42,564.29 L319.71,564.41 L320.00,564.54 L320.29,564.70 L320.58,564.87 L320.87,565.08 L321.16,565.30 L321.45,565.54 L321.74,565.80 L322.03,566.07 L322.32,566.34 L322.61,566.61 L322.90,566.87 L323.20,567.12 L323.49,567.35 L323.78,567.55 L324.07,567.73 L324.36,567.87 L324.65,567.98 L324.94,568.05 L325.23,568.08 L325.52,568.08 L325.81,568.05 L326.10,567.98 L326.39,567.89 L326.68,567.77 L326.97,567.62 L327.26,567.46 L327.55,567.28 L327.84,567.09 L328.13,566.89 L328.42,566.68 L328.71,566.46 L329.00,566.24 L329.29,566.03 L329.58,565.81 L329.87,565.61 L330.17,565.41 L330.46,565.23 L330.75,565.06 L331.04,564.90 L331.33,564.77 L331.62,564.66 L331.91,564.58 L332.20,564.52 L332.49,564.49 L332.78,564.49 L333.07,564.52 L333.36,564.58 L333.65,564.67 L333.94,564.79 L334.23,564.95 L334.52,565.13 L334.81,565.34 L335.10,565.58 L335.39,565.84 L335.68,566.13 L335.97,566.43 L336.26,566.76 L336.55,567.11 L336.84,567.48 L337.13,567.87 L337.43,568.28 L337.72,568.72 L338.01,569.19 L338.30,569.69 L338.59,570.23 L338.88,570.81 L339.17,571.45 L339.46,572.15 L339.75,572.91 L340.04,573.73 L340.33,574.62 L340.62,575.56 L340.91,576.57 L341.20,577.62 L341.49,578.72 L341.78,579.85 L342.07,581.01 L342.36,582.20 L342.65,583.41 L342.94,584.62 L343.23,585.84 L343.52,587.07 L343.81,588.30 L344.10,589.52 L344.40,590.75 L344.69,591.99 L344.98,593.23 L345.27,594.48 L345.56,595.75 L345.85,597.03 L346.14,598.31 L346.43,599.61 L346.72,600.92 L347.01,602.22 L347.30,603.52 L347.59,604.80 L347.88,606.07 L348.17,607.31 L348.46,608.51 L348.75,609.68 L349.04,610.80 L349.33,611.87 L349.62,612.90 L349.91,613.87 L350.20,614.80 L350.49,615.68 L350.78,616.52 L351.07,617.32 L351.36,618.10 L351.66,618.84 L351.95,619.57 L352.24,620.27 L352.53,620.96 L352.82,621.62 L353.11,622.26 L353.40,622.88 L353.69,623.46 L353.98,624.02 L354.27,624.54 L354.56,625.03 L354.85,625.48 L355.14,625.88 L355.43,626.23 L355.72,626.53 L356.01,626.77 L356.30,626.96 L356.59,627.08 L356.88,627.14 L357.17,627.14 L357.46,627.06 L357.75,626.92 L358.04,626.72 L358.33,626.44 L358.63,626.10 L358.92,625.70 L359.21,625.23 L359.50,624.71 L359.79,624.13 L360.08,623.50 L360.37,622.82 L360.66,622.10 L360.95,621.33 L361.24,620.53 L361.53,619.68 L361.82,618.81 L362.11,617.91 L362.40,616.98 L362.69,616.02 L362.98,615.05 L363.27,614.07 L363.56,613.07 L363.85,612.06 L364.14,611.04 L364.43,610.02 L364.72,609.00 L365.01,607.98 L365.30,606.97 L365.59,605.96 L365.89,604.96 L366.18,603.96 L366.47,602.97 L366.76,601.97 L367.05,600.97 L367.34,599.96 L367.63,598.95 L367.92,597.92 L368.21,596.87 L368.50,595.80 L368.79,594.72 L369.08,593.63 L369.37,592.53 L369.66,591.42 L369.95,590.31 L370.24,589.21 L370.53,588.11 L370.82,587.03 L371.11,585.97 L371.40,584.94 L371.69,583.93 L371.98,582.95 L372.27,582.00 L372.56,581.08 L372.86,580.19 L373.15,579.32 L373.44,578.48 L373.73,577.66 L374.02,576.86 L374.31,576.08 L374.60,575.32 L374.89,574.57 L375.18,573.84 L375.47,573.13 L375.76,572.44 L376.05,571.77 L376.34,571.14 L376.63,570.53 L376.92,569.96 L377.21,569.42 L377.50,568.92 L377.79,568.45 L378.08,568.02 L378.37,567.63 L378.66,567.27 L378.95,566.94 L379.24,566.64 L379.53,566.36 L379.83,566.11 L380.12,565.87 L380.41,565.64 L380.70,565.43 L380.99,565.23 L381.28,565.04 L381.57,564.87 L381.86,564.70 L382.15,564.55 L382.44,564.40 L382.73,564.28 L383.02,564.16 L383.31,564.06 L383.60,563.97 L383.89,563.90 L384.18,563.85 L384.47,563.80 L384.76,563.77 L385.05,563.75 L385.34,563.74 L385.63,563.74 L385.92,563.75 L386.21,563.76 L386.50,563.78 L386.79,563.81 L387.09,563.84 L387.38,563.88 L387.67,563.92 L387.96,563.97 L388.25,564.02 L388.54,564.09 L388.83,564.16 L389.12,564.25 L389.41,564.36 L389.70,564.48 L389.99,564.63 L390.28,564.80 L390.57,564.99 L390.86,565.20 L391.15,565.44 L391.44,565.69 L391.73,565.95 L392.02,566.22 L392.31,566.49 L392.60,566.76 L392.89,567.02 L393.18,567.25 L393.47,567.47 L393.76,567.66 L394.06,567.81 L394.35,567.94 L394.64,568.02 L394.93,568.07 L395.22,568.09 L395.51,568.07 L395.80,568.01 L396.09,567.93 L396.38,567.82 L396.67,567.69 L396.96,567.53 L397.25,567.36 L397.54,567.17 L397.83,566.97 L398.12,566.76 L398.41,566.55 L398.70,566.33 L398.99,566.12 L399.28,565.90 L399.57,565.69 L399.86,565.49 L400.15,565.30 L400.44,565.13 L400.73,564.97 L401.02,564.83 L401.32,564.71 L401.61,564.61 L401.90,564.54 L402.19,564.50 L402.48,564.48 L402.77,564.50 L403.06,564.55 L403.35,564.63 L403.64,564.74 L403.93,564.88 L404.22,565.05 L404.51,565.25 L404.80,565.47 L405.09,565.73 L405.38,566.00 L405.67,566.30 L405.96,566.62 L406.25,566.96 L406.54,567.32 L406.83,567.70 L407.12,568.11 L407.41,568.53 L407.70,568.98 L407.99,569.47 L408.29,569.99 L408.58,570.56 L408.87,571.18 L409.16,571.85 L409.45,572.58 L409.74,573.38 L410.03,574.24 L410.32,575.16 L410.61,576.14 L410.90,577.17 L411.19,578.25 L411.48,579.37 L411.77,580.52 L412.06,581.70 L412.35,582.90 L412.64,584.11 L412.93,585.33 L413.22,586.55 L413.51,587.78 L413.80,589.00 L414.09,590.23 L414.38,591.47 L414.67,592.70 L414.96,593.95 L415.25,595.21 L415.55,596.48 L415.84,597.77 L416.13,599.06 L416.42,600.37 L416.71,601.67 L417.00,602.97 L417.29,604.26 L417.58,605.54 L417.87,606.79 L418.16,608.01 L418.45,609.19 L418.74,610.33 L419.03,611.43 L419.32,612.47 L419.61,613.47 L419.90,614.41 L420.19,615.31 L420.48,616.17 L420.77,616.99 L421.06,617.77 L421.35,618.53 L421.64,619.27 L421.93,619.98 L422.22,620.67 L422.52,621.34 L422.81,621.99 L423.10,622.62 L423.39,623.22 L423.68,623.79 L423.97,624.32 L424.26,624.82 L424.55,625.27 L424.84,625.68 L425.13,626.04 L425.42,626.36 L425.71,626.62 L426.00,626.83" fill="none" stroke="#000" stroke-width="2" stroke-linejoin="round" stroke-linecap="round" />
<rect x="77.8" y="350" width="348.2" height="281" fill="none" stroke="#000" stroke-width="2"/>
<line x1="74.8" y1="599.86" x2="77.8" y2="599.86" stroke="#000" stroke-width="2"/>
<line x1="74.8" y1="544.18" x2="77.8" y2="544.18" stroke="#000" stroke-width="2"/>
<line x1="74.8" y1="488.5" x2="77.8" y2="488.5" stroke="#000" stroke-width="2"/>
<line x1="74.8" y1="432.82" x2="77.8" y2="432.82" stroke="#000" stroke-width="2"/>
<line x1="74.8" y1="377.14" x2="77.8" y2="377.14" stroke="#000" stroke-width="2"/>
<line x1="71.8" y1="627.7" x2="77.8" y2="627.7" stroke="#000" stroke-width="2"/>
<text x="67.8" y="634.5" font-size="20" text-anchor="end" font-weight="normal" >0.0</text>
<line x1="71.8" y1="572.02" x2="77.8" y2="572.02" stroke="#000" stroke-width="2"/>
<text x="67.8" y="578.82" font-size="20" text-anchor="end" font-weight="normal" >0.2</text>
<line x1="71.8" y1="516.34" x2="77.8" y2="516.34" stroke="#000" stroke-width="2"/>
<text x="67.8" y="523.14" font-size="20" text-anchor="end" font-weight="normal" >0.4</text>
<line x1="71.8" y1="460.66" x2="77.8" y2="460.66" stroke="#000" stroke-width="2"/>
<text x="67.8" y="467.46" font-size="20" text-anchor="end" font-weight="normal" >0.6</text>
<line x1="71.8" y1="404.98" x2="77.8" y2="404.98" stroke="#000" stroke-width="2"/>
<text x="67.8" y="411.78" font-size="20" text-anchor="end" font-weight="normal" >0.8</text>
<line x1="71.8" y1="349.3" x2="77.8" y2="349.3" stroke="#000" stroke-width="2"/>
<text x="67.8" y="356.1" font-size="20" text-anchor="end" font-weight="normal" >1.0</text>
<line x1="108.45" y1="631" x2="108.45" y2="634" stroke="#000" stroke-width="2"/>
<line x1="169.75" y1="631" x2="169.75" y2="634" stroke="#000" stroke-width="2"/>
<line x1="231.05" y1="631" x2="231.05" y2="634" stroke="#000" stroke-width="2"/>
<line x1="292.35" y1="631" x2="292.35" y2="634" stroke="#000" stroke-width="2"/>
<line x1="353.65" y1="631" x2="353.65" y2="634" stroke="#000" stroke-width="2"/>
<line x1="414.95" y1="631" x2="414.95" y2="634" stroke="#000" stroke-width="2"/>
<line x1="77.8" y1="631" x2="77.8" y2="637" stroke="#000" stroke-width="2"/>
<text x="77.8" y="656" font-size="20" text-anchor="middle" font-weight="normal" >0</text>
<line x1="139.1" y1="631" x2="139.1" y2="637" stroke="#000" stroke-width="2"/>
<text x="139.1" y="656" font-size="20" text-anchor="middle" font-weight="normal" >1</text>
<line x1="200.4" y1="631" x2="200.4" y2="637" stroke="#000" stroke-width="2"/>
<text x="200.4" y="656" font-size="20" text-anchor="middle" font-weight="normal" >2</text>
<line x1="261.7" y1="631" x2="261.7" y2="637" stroke="#000" stroke-width="2"/>
<text x="261.7" y="656" font-size="20" text-anchor="middle" font-weight="normal" >3</text>
<line x1="323" y1="631" x2="323" y2="637" stroke="#000" stroke-width="2"/>
<text x="323" y="656" font-size="20" text-anchor="middle" font-weight="normal" >4</text>
<line x1="384.3" y1="631" x2="384.3" y2="637" stroke="#000" stroke-width="2"/>
<text x="384.3" y="656" font-size="20" text-anchor="middle" font-weight="normal" >5</text>
<text x="251.9" y="676.5" font-size="20" text-anchor="middle" font-weight="normal" >Time (s)</text>
<text transform="translate(30,490.6) rotate(-90)" font-size="21" text-anchor="middle">&#916;R/R<tspan font-size="13.02" dy="4.2">0</tspan><tspan dy="-4.2"> (%)</tspan></text>
<text x="4" y="365.5" font-size="33.5" text-anchor="start" font-weight="bold" >(d)</text>
<text x="415.5" y="398.5" font-size="34.5" text-anchor="end" font-weight="bold" >1 %</text>
<path d="M497.00,627.64 L497.29,626.90 L497.58,625.82 L497.88,624.39 L498.17,622.69 L498.46,620.78 L498.75,618.70 L499.04,616.45 L499.34,614.05 L499.63,611.49 L499.92,608.81 L500.21,606.04 L500.50,603.20 L500.79,600.33 L501.09,597.47 L501.38,594.66 L501.67,591.91 L501.96,589.25 L502.25,586.67 L502.55,584.18 L502.84,581.74 L503.13,579.36 L503.42,577.00 L503.71,574.68 L504.01,572.38 L504.30,570.10 L504.59,567.84 L504.88,565.60 L505.17,563.38 L505.47,561.16 L505.76,558.96 L506.05,556.76 L506.34,554.57 L506.63,552.36 L506.92,550.14 L507.22,547.90 L507.51,545.65 L507.80,543.38 L508.09,541.13 L508.38,538.90 L508.68,536.71 L508.97,534.59 L509.26,532.56 L509.55,530.63 L509.84,528.82 L510.14,527.12 L510.43,525.55 L510.72,524.08 L511.01,522.69 L511.30,521.37 L511.60,520.11 L511.89,518.90 L512.18,517.74 L512.47,516.61 L512.76,515.53 L513.06,514.48 L513.35,513.46 L513.64,512.46 L513.93,511.49 L514.22,510.55 L514.51,509.61 L514.81,508.70 L515.10,507.79 L515.39,506.88 L515.68,505.97 L515.97,505.06 L516.27,504.14 L516.56,503.21 L516.85,502.27 L517.14,501.33 L517.43,500.39 L517.73,499.46 L518.02,498.54 L518.31,497.63 L518.60,496.74 L518.89,495.87 L519.19,495.03 L519.48,494.21 L519.77,493.43 L520.06,492.69 L520.35,491.99 L520.64,491.34 L520.94,490.74 L521.23,490.19 L521.52,489.71 L521.81,489.28 L522.10,488.92 L522.40,488.62 L522.69,488.37 L522.98,488.17 L523.27,488.01 L523.56,487.88 L523.86,487.77 L524.15,487.67 L524.44,487.58 L524.73,487.49 L525.02,487.42 L525.32,487.34 L525.61,487.27 L525.90,487.19 L526.19,487.11 L526.48,487.02 L526.77,486.92 L527.07,486.81 L527.36,486.67 L527.65,486.50 L527.94,486.30 L528.23,486.09 L528.53,485.90 L528.82,485.80 L529.11,485.93 L529.40,486.42 L529.69,487.39 L529.99,488.85 L530.28,490.66 L530.57,492.56 L530.86,494.21 L531.15,495.28 L531.45,495.62 L531.74,495.29 L532.03,494.46 L532.32,493.40 L532.61,492.27 L532.90,491.20 L533.20,490.21 L533.49,489.34 L533.78,488.57 L534.07,487.92 L534.36,487.39 L534.66,486.95 L534.95,486.59 L535.24,486.27 L535.53,485.98 L535.82,485.71 L536.12,485.45 L536.41,485.21 L536.70,484.98 L536.99,484.76 L537.28,484.56 L537.58,484.37 L537.87,484.20 L538.16,484.03 L538.45,483.89 L538.74,483.76 L539.04,483.64 L539.33,483.54 L539.62,483.45 L539.91,483.38 L540.20,483.33 L540.49,483.30 L540.79,483.30 L541.08,483.33 L541.37,483.42 L541.66,483.56 L541.95,483.76 L542.25,484.03 L542.54,484.36 L542.83,484.75 L543.12,485.20 L543.41,485.70 L543.71,486.25 L544.00,486.85 L544.29,487.48 L544.58,488.16 L544.87,488.87 L545.17,489.61 L545.46,490.40 L545.75,491.23 L546.04,492.15 L546.33,493.19 L546.62,494.37 L546.92,495.73 L547.21,497.28 L547.50,498.99 L547.79,500.86 L548.08,502.86 L548.38,504.97 L548.67,507.17 L548.96,509.42 L549.25,511.71 L549.54,514.02 L549.84,516.33 L550.13,518.63 L550.42,520.93 L550.71,523.24 L551.00,525.59 L551.30,527.98 L551.59,530.43 L551.88,532.93 L552.17,535.48 L552.46,538.07 L552.75,540.70 L553.05,543.34 L553.34,546.01 L553.63,548.68 L553.92,551.36 L554.21,554.02 L554.51,556.67 L554.80,559.29 L555.09,561.89 L555.38,564.44 L555.67,566.95 L555.97,569.43 L556.26,571.87 L556.55,574.30 L556.84,576.73 L557.13,579.18 L557.43,581.64 L557.72,584.11 L558.01,586.58 L558.30,589.05 L558.59,591.50 L558.88,593.91 L559.18,596.29 L559.47,598.61 L559.76,600.87 L560.05,603.05 L560.34,605.15 L560.64,607.14 L560.93,609.04 L561.22,610.81 L561.51,612.46 L561.80,613.98 L562.10,615.38 L562.39,616.66 L562.68,617.85 L562.97,618.95 L563.26,619.98 L563.56,620.95 L563.85,621.86 L564.14,622.71 L564.43,623.52 L564.72,624.30 L565.02,625.04 L565.31,625.75 L565.60,626.42 L565.89,626.99 L566.18,627.40 L566.47,627.56 L566.77,627.37 L567.06,626.77 L567.35,625.74 L567.64,624.32 L567.93,622.62 L568.23,620.69 L568.52,618.58 L568.81,616.32 L569.10,613.89 L569.39,611.31 L569.69,608.60 L569.98,605.80 L570.27,602.94 L570.56,600.05 L570.85,597.17 L571.15,594.33 L571.44,591.56 L571.73,588.87 L572.02,586.28 L572.31,583.76 L572.60,581.31 L572.90,578.90 L573.19,576.53 L573.48,574.19 L573.77,571.87 L574.06,569.57 L574.36,567.29 L574.65,565.03 L574.94,562.79 L575.23,560.56 L575.52,558.33 L575.82,556.12 L576.11,553.90 L576.40,551.68 L576.69,549.44 L576.98,547.18 L577.28,544.91 L577.57,542.62 L577.86,540.35 L578.15,538.10 L578.44,535.90 L578.73,533.76 L579.03,531.71 L579.32,529.77 L579.61,527.94 L579.90,526.24 L580.19,524.65 L580.49,523.17 L580.78,521.77 L581.07,520.44 L581.36,519.17 L581.65,517.95 L581.95,516.78 L582.24,515.65 L582.53,514.55 L582.82,513.49 L583.11,512.46 L583.41,511.46 L583.70,510.49 L583.99,509.53 L584.28,508.59 L584.57,507.67 L584.86,506.75 L585.16,505.83 L585.45,504.92 L585.74,504.00 L586.03,503.07 L586.32,502.13 L586.62,501.18 L586.91,500.24 L587.20,499.29 L587.49,498.35 L587.78,497.42 L588.08,496.50 L588.37,495.61 L588.66,494.73 L588.95,493.88 L589.24,493.06 L589.54,492.27 L589.83,491.53 L590.12,490.82 L590.41,490.17 L590.70,489.56 L590.99,489.01 L591.29,488.52 L591.58,488.09 L591.87,487.73 L592.16,487.42 L592.45,487.18 L592.75,486.98 L593.04,486.82 L593.33,486.68 L593.62,486.57 L593.91,486.47 L594.21,486.38 L594.50,486.30 L594.79,486.22 L595.08,486.14 L595.37,486.07 L595.67,485.99 L595.96,485.91 L596.25,485.82 L596.54,485.72 L596.83,485.60 L597.13,485.46 L597.42,485.29 L597.71,485.09 L598.00,484.88 L598.29,484.68 L598.58,484.59 L598.88,484.73 L599.17,485.23 L599.46,486.21 L599.75,487.69 L600.04,489.52 L600.34,491.44 L600.63,493.09 L600.92,494.16 L601.21,494.49 L601.50,494.14 L601.80,493.31 L602.09,492.23 L602.38,491.10 L602.67,490.02 L602.96,489.03 L603.26,488.14 L603.55,487.37 L603.84,486.72 L604.13,486.18 L604.42,485.74 L604.71,485.38 L605.01,485.06 L605.30,484.77 L605.59,484.49 L605.88,484.24 L606.17,483.99 L606.47,483.76 L606.76,483.54 L607.05,483.34 L607.34,483.14 L607.63,482.97 L607.93,482.81 L608.22,482.66 L608.51,482.53 L608.80,482.41 L609.09,482.31 L609.39,482.22 L609.68,482.15 L609.97,482.10 L610.26,482.07 L610.55,482.07 L610.84,482.10 L611.14,482.19 L611.43,482.33 L611.72,482.53 L612.01,482.81 L612.30,483.14 L612.60,483.54 L612.89,483.99 L613.18,484.50 L613.47,485.05 L613.76,485.65 L614.06,486.30 L614.35,486.98 L614.64,487.69 L614.93,488.44 L615.22,489.23 L615.52,490.08 L615.81,491.01 L616.10,492.05 L616.39,493.25 L616.68,494.63 L616.97,496.19 L617.27,497.92 L617.56,499.81 L617.85,501.83 L618.14,503.96 L618.43,506.17 L618.73,508.44 L619.02,510.76 L619.31,513.08 L619.60,515.41 L619.89,517.73 L620.19,520.05 L620.48,522.39 L620.77,524.75 L621.06,527.17 L621.35,529.64 L621.65,532.16 L621.94,534.73 L622.23,537.34 L622.52,539.99 L622.81,542.66 L623.11,545.35 L623.40,548.05 L623.69,550.74 L623.98,553.43 L624.27,556.10 L624.56,558.75 L624.86,561.36 L625.15,563.93 L625.44,566.47 L625.73,568.96 L626.02,571.43 L626.32,573.88 L626.61,576.33 L626.90,578.80 L627.19,581.28 L627.48,583.77 L627.78,586.27 L628.07,588.75 L628.36,591.22 L628.65,593.66 L628.94,596.05 L629.24,598.39 L629.53,600.67 L629.82,602.87 L630.11,604.98 L630.40,606.99 L630.69,608.90 L630.99,610.69 L631.28,612.35 L631.57,613.88 L631.86,615.29 L632.15,616.58 L632.45,617.78 L632.74,618.89 L633.03,619.93 L633.32,620.90 L633.61,621.82 L633.91,622.68 L634.20,623.49 L634.49,624.27 L634.78,625.02 L635.07,625.74 L635.37,626.41 L635.66,626.98 L635.95,627.40 L636.24,627.56 L636.53,627.36 L636.82,626.74 L637.12,625.69 L637.41,624.26 L637.70,622.54 L637.99,620.59 L638.28,618.47 L638.58,616.18 L638.87,613.73 L639.16,611.12 L639.45,608.39 L639.74,605.57 L640.04,602.68 L640.33,599.76 L640.62,596.86 L640.91,594.00 L641.20,591.20 L641.50,588.50 L641.79,585.88 L642.08,583.35 L642.37,580.87 L642.66,578.45 L642.95,576.06 L643.25,573.70 L643.54,571.36 L643.83,569.04 L644.12,566.74 L644.41,564.47 L644.71,562.20 L645.00,559.95 L645.29,557.71 L645.58,555.48 L645.87,553.24 L646.17,551.00 L646.46,548.74 L646.75,546.46 L647.04,544.17 L647.33,541.87 L647.63,539.57 L647.92,537.31 L648.21,535.09 L648.50,532.93 L648.79,530.87 L649.09,528.91 L649.38,527.07 L649.67,525.35 L649.96,523.75 L650.25,522.26 L650.54,520.85 L650.84,519.51 L651.13,518.23 L651.42,517.00 L651.71,515.82 L652.00,514.68 L652.30,513.58 L652.59,512.51 L652.88,511.47 L653.17,510.46 L653.46,509.48 L653.76,508.51 L654.05,507.57 L654.34,506.63 L654.63,505.71 L654.92,504.79 L655.22,503.86 L655.51,502.93 L655.80,501.99 L656.09,501.05 L656.38,500.10 L656.67,499.14 L656.97,498.19 L657.26,497.24 L657.55,496.30 L657.84,495.38 L658.13,494.47 L658.43,493.59 L658.72,492.73 L659.01,491.91 L659.30,491.12 L659.59,490.36 L659.89,489.65 L660.18,488.99 L660.47,488.38 L660.76,487.83 L661.05,487.33 L661.35,486.90 L661.64,486.54 L661.93,486.23 L662.22,485.98 L662.51,485.78 L662.80,485.62 L663.10,485.49 L663.39,485.37 L663.68,485.27 L663.97,485.18 L664.26,485.10 L664.56,485.02 L664.85,484.94 L665.14,484.87 L665.43,484.79 L665.72,484.71 L666.02,484.62 L666.31,484.52 L666.60,484.40 L666.89,484.26 L667.18,484.08 L667.48,483.88 L667.77,483.66 L668.06,483.47 L668.35,483.38 L668.64,483.52 L668.93,484.03 L669.23,485.03 L669.52,486.53 L669.81,488.38 L670.10,490.31 L670.39,491.97 L670.69,493.04 L670.98,493.37 L671.27,493.00 L671.56,492.16 L671.85,491.07 L672.15,489.92 L672.44,488.83 L672.73,487.84 L673.02,486.95 L673.31,486.17 L673.61,485.51 L673.90,484.98 L674.19,484.54 L674.48,484.17 L674.77,483.85 L675.07,483.55 L675.36,483.28 L675.65,483.02 L675.94,482.77 L676.23,482.54 L676.52,482.32 L676.82,482.11 L677.11,481.92 L677.40,481.74 L677.69,481.58 L677.98,481.43 L678.28,481.29 L678.57,481.18 L678.86,481.07 L679.15,480.99 L679.44,480.92 L679.74,480.87 L680.03,480.84 L680.32,480.83 L680.61,480.87 L680.90,480.96 L681.20,481.10 L681.49,481.31 L681.78,481.58 L682.07,481.92 L682.36,482.32 L682.65,482.78 L682.95,483.29 L683.24,483.85 L683.53,484.46 L683.82,485.11 L684.11,485.80 L684.41,486.52 L684.70,487.28 L684.99,488.07 L685.28,488.93 L685.57,489.86 L685.87,490.92 L686.16,492.13 L686.45,493.52 L686.74,495.10 L687.03,496.85 L687.33,498.75 L687.62,500.79 L687.91,502.94 L688.20,505.17 L688.49,507.47 L688.78,509.80 L689.08,512.15 L689.37,514.49 L689.66,516.84 L689.95,519.18 L690.24,521.53 L690.54,523.92 L690.83,526.35 L691.12,528.84 L691.41,531.39 L691.70,533.98 L692.00,536.62 L692.29,539.29 L692.58,541.98 L692.87,544.69 L693.16,547.41 L693.46,550.13 L693.75,552.84 L694.04,555.53 L694.33,558.20 L694.62,560.84 L694.91,563.43 L695.21,565.98 L695.50,568.50 L695.79,570.98 L696.08,573.46 L696.37,575.93 L696.67,578.42 L696.96,580.92 L697.25,583.44 L697.54,585.95 L697.83,588.46 L698.13,590.94 L698.42,593.40 L698.71,595.81 L699.00,598.17 L699.29,600.47 L699.59,602.68 L699.88,604.81 L700.17,606.84 L700.46,608.76 L700.75,610.56 L701.05,612.24 L701.34,613.78 L701.63,615.20 L701.92,616.50 L702.21,617.71 L702.50,618.83 L702.80,619.87 L703.09,620.85 L703.38,621.77 L703.67,622.64 L703.96,623.46 L704.26,624.25 L704.55,625.00 L704.84,625.73 L705.13,626.40 L705.42,626.98 L705.72,627.39 L706.01,627.55 L706.30,627.34 L706.59,626.72 L706.88,625.65 L707.18,624.21 L707.47,622.46 L707.76,620.50 L708.05,618.35 L708.34,616.04 L708.63,613.57 L708.93,610.94 L709.22,608.18 L709.51,605.33 L709.80,602.42 L710.09,599.48 L710.39,596.55 L710.68,593.67 L710.97,590.85 L711.26,588.12 L711.55,585.49 L711.85,582.93 L712.14,580.44 L712.43,577.99 L712.72,575.58 L713.01,573.20 L713.31,570.84 L713.60,568.51 L713.89,566.19 L714.18,563.90 L714.47,561.61 L714.76,559.34 L715.06,557.08 L715.35,554.83 L715.64,552.58 L715.93,550.32 L716.22,548.04 L716.52,545.74 L716.81,543.43 L717.10,541.11 L717.39,538.79 L717.68,536.51 L717.98,534.27 L718.27,532.10 L718.56,530.02 L718.85,528.05 L719.14,526.19 L719.44,524.46 L719.73,522.85 L720.02,521.35 L720.31,519.93 L720.60,518.58 L720.89,517.29 L721.19,516.05 L721.48,514.86 L721.77,513.71 L722.06,512.60 L722.35,511.52 L722.65,510.48 L722.94,509.46 L723.23,508.47 L723.52,507.50 L723.81,506.54 L724.11,505.60 L724.40,504.67 L724.69,503.74 L724.98,502.81 L725.27,501.87 L725.57,500.92 L725.86,499.97 L726.15,499.01 L726.44,498.05 L726.73,497.08 L727.03,496.13 L727.32,495.18 L727.61,494.25 L727.90,493.34 L728.19,492.45 L728.48,491.59 L728.78,490.75 L729.07,489.96 L729.36,489.20 L729.65,488.48 L729.94,487.82 L730.24,487.20 L730.53,486.65 L730.82,486.15 L731.11,485.71 L731.40,485.34 L731.70,485.04 L731.99,484.79 L732.28,484.59 L732.57,484.43 L732.86,484.29 L733.16,484.18 L733.45,484.07 L733.74,483.98 L734.03,483.90 L734.32,483.82 L734.61,483.74 L734.91,483.67 L735.20,483.59 L735.49,483.51 L735.78,483.41 L736.07,483.31 L736.37,483.19 L736.66,483.05 L736.95,482.88 L737.24,482.67 L737.53,482.45 L737.83,482.25 L738.12,482.17 L738.41,482.31 L738.70,482.84 L738.99,483.85 L739.29,485.37 L739.58,487.24 L739.87,489.18 L740.16,490.85 L740.45,491.92 L740.74,492.24 L741.04,491.86 L741.33,491.00 L741.62,489.90 L741.91,488.75 L742.20,487.65 L742.50,486.65 L742.79,485.75 L743.08,484.97 L743.37,484.31 L743.66,483.77 L743.96,483.33 L744.25,482.96 L744.54,482.63 L744.83,482.34 L745.12,482.06 L745.42,481.80 L745.71,481.55 L746.00,481.31 L746.29,481.09 L746.58,480.88 L746.87,480.69 L747.17,480.51 L747.46,480.35 L747.75,480.20 L748.04,480.06 L748.33,479.94 L748.63,479.84 L748.92,479.75 L749.21,479.68 L749.50,479.63 L749.79,479.60 L750.09,479.60 L750.38,479.64 L750.67,479.73 L750.96,479.87 L751.25,480.08 L751.55,480.36 L751.84,480.70 L752.13,481.11 L752.42,481.57 L752.71,482.09 L753.01,482.65 L753.30,483.27 L753.59,483.92 L753.88,484.62 L754.17,485.35 L754.46,486.11 L754.76,486.91 L755.05,487.78 L755.34,488.72 L755.63,489.79 L755.92,491.01 L756.22,492.42 L756.51,494.01 L756.80,495.78 L757.09,497.70 L757.38,499.76 L757.68,501.93 L757.97,504.18 L758.26,506.49 L758.55,508.85 L758.84,511.21 L759.14,513.58 L759.43,515.94 L759.72,518.30 L760.01,520.67 L760.30,523.08 L760.59,525.54 L760.89,528.05 L761.18,530.62 L761.47,533.23 L761.76,535.89 L762.05,538.58 L762.35,541.30 L762.64,544.03 L762.93,546.78 L763.22,549.52 L763.51,552.25 L763.81,554.96 L764.10,557.65 L764.39,560.31 L764.68,562.93 L764.97,565.50 L765.27,568.04 L765.56,570.54 L765.85,573.04 L766.14,575.53 L766.43,578.04 L766.72,580.56 L767.02,583.10 L767.31,585.63 L767.60,588.16 L767.89,590.67 L768.18,593.14 L768.48,595.58 L768.77,597.96 L769.06,600.27 L769.35,602.50 L769.64,604.65 L769.94,606.69 L770.23,608.63 L770.52,610.44 L770.81,612.13 L771.10,613.68 L771.40,615.11 L771.69,616.42 L771.98,617.64 L772.27,618.76 L772.56,619.82 L772.85,620.80 L773.15,621.73 L773.44,622.61 L773.73,623.44 L774.02,624.23 L774.31,624.99 L774.61,625.72 L774.90,626.39 L775.19,626.98 L775.48,627.39 L775.77,627.54 L776.07,627.33 L776.36,626.69 L776.65,625.61 L776.94,624.15 L777.23,622.38 L777.53,620.40 L777.82,618.23 L778.11,615.90 L778.40,613.40 L778.69,610.75 L778.98,607.97 L779.28,605.10 L779.57,602.16 L779.86,599.19 L780.15,596.24 L780.44,593.33 L780.74,590.50 L781.03,587.75 L781.32,585.09 L781.61,582.52 L781.90,580.00 L782.20,577.54 L782.49,575.11 L782.78,572.71 L783.07,570.33 L783.36,567.98 L783.66,565.64 L783.95,563.33 L784.24,561.02 L784.53,558.74 L784.82,556.46 L785.12,554.19 L785.41,551.92 L785.70,549.64 L785.99,547.34 L786.28,545.02 L786.57,542.69 L786.87,540.35 L787.16,538.02 L787.45,535.71 L787.74,533.46 L788.03,531.27 L788.33,529.18 L788.62,527.19 L788.91,525.32 L789.20,523.58 L789.49,521.96 L789.79,520.44 L790.08,519.01 L790.37,517.65 L790.66,516.35 L790.95,515.10 L791.25,513.90 L791.54,512.74 L791.83,511.62 L792.12,510.54 L792.41,509.48 L792.70,508.46 L793.00,507.46 L793.29,506.48 L793.58,505.52 L793.87,504.57 L794.16,503.63 L794.46,502.69 L794.75,501.75 L795.04,500.81 L795.33,499.85 L795.62,498.89 L795.92,497.92 L796.21,496.95 L796.50,495.98 L796.79,495.02 L797.08,494.06 L797.38,493.13 L797.67,492.21 L797.96,491.31 L798.25,490.44 L798.54,489.60 L798.83,488.80 L799.13,488.03 L799.42,487.31 L799.71,486.64 L800.00,486.02 L800.29,485.46 L800.59,484.96 L800.88,484.53 L801.17,484.15 L801.46,483.85 L801.75,483.60 L802.05,483.40 L802.34,483.23 L802.63,483.10 L802.92,482.98 L803.21,482.88 L803.51,482.78 L803.80,482.70 L804.09,482.62 L804.38,482.54 L804.67,482.47 L804.96,482.39 L805.26,482.30 L805.55,482.21 L805.84,482.11 L806.13,481.99 L806.42,481.84 L806.72,481.67 L807.01,481.46 L807.30,481.24 L807.59,481.04 L807.88,480.95 L808.18,481.11 L808.47,481.64 L808.76,482.67 L809.05,484.21 L809.34,486.10 L809.64,488.06 L809.93,489.73 L810.22,490.80 L810.51,491.11 L810.80,490.72 L811.10,489.85 L811.39,488.74 L811.68,487.58 L811.97,486.47 L812.26,485.46 L812.55,484.56 L812.85,483.77 L813.14,483.11 L813.43,482.56 L813.72,482.12 L814.01,481.75 L814.31,481.42 L814.60,481.12 L814.89,480.84 L815.18,480.58 L815.47,480.33 L815.77,480.09 L816.06,479.87 L816.35,479.66 L816.64,479.46 L816.93,479.28 L817.23,479.12 L817.52,478.97 L817.81,478.83 L818.10,478.71 L818.39,478.61 L818.68,478.52 L818.98,478.45 L819.27,478.40 L819.56,478.37 L819.85,478.37 L820.14,478.41 L820.44,478.50 L820.73,478.64 L821.02,478.86 L821.31,479.14 L821.60,479.48 L821.90,479.89 L822.19,480.36 L822.48,480.88 L822.77,481.45 L823.06,482.07 L823.36,482.73 L823.65,483.44 L823.94,484.17 L824.23,484.94 L824.52,485.75 L824.81,486.62 L825.11,487.58 L825.40,488.66 L825.69,489.90 L825.98,491.32 L826.27,492.92 L826.57,494.70 L826.86,496.65 L827.15,498.72 L827.44,500.91 L827.73,503.19 L828.03,505.52 L828.32,507.89 L828.61,510.28 L828.90,512.66 L829.19,515.04 L829.49,517.42 L829.78,519.82 L830.07,522.25 L830.36,524.72 L830.65,527.26 L830.94,529.85 L831.24,532.49 L831.53,535.17 L831.82,537.88 L832.11,540.62 L832.40,543.38 L832.70,546.14 L832.99,548.91 L833.28,551.66 L833.57,554.40 L833.86,557.11 L834.16,559.79 L834.45,562.42 L834.74,565.02 L835.03,567.58 L835.32,570.10 L835.62,572.62 L835.91,575.13 L836.20,577.66 L836.49,580.21 L836.78,582.76 L837.08,585.32 L837.37,587.87 L837.66,590.39 L837.95,592.89 L838.24,595.34 L838.53,597.74 L838.83,600.07 L839.12,602.32 L839.41,604.48 L839.70,606.55 L839.99,608.49 L840.29,610.32 L840.58,612.02 L840.87,613.58 L841.16,615.02 L841.45,616.34 L841.75,617.57 L842.04,618.70 L842.33,619.76 L842.62,620.76 L842.91,621.69 L843.21,622.57 L843.50,623.41 L843.79,624.20 L844.08,624.97 L844.37,625.71 L844.66,626.39 L844.96,626.97 L845.25,627.39 L845.54,627.54 L845.83,627.34 L846.12,626.76 L846.42,625.88 L846.71,624.86 L847.00,623.93" fill="none" stroke="#C96A6C" stroke-width="2" stroke-linejoin="round" stroke-linecap="round" />
<rect x="497" y="350" width="350" height="281.8" fill="none" stroke="#000" stroke-width="2"/>
<line x1="494" y1="600.59" x2="497" y2="600.59" stroke="#000" stroke-width="2"/>
<line x1="494" y1="544.97" x2="497" y2="544.97" stroke="#000" stroke-width="2"/>
<line x1="494" y1="489.35" x2="497" y2="489.35" stroke="#000" stroke-width="2"/>
<line x1="494" y1="433.73" x2="497" y2="433.73" stroke="#000" stroke-width="2"/>
<line x1="494" y1="378.11" x2="497" y2="378.11" stroke="#000" stroke-width="2"/>
<line x1="491" y1="628.4" x2="497" y2="628.4" stroke="#000" stroke-width="2"/>
<text x="487" y="635.2" font-size="20" text-anchor="end" font-weight="normal" >0.0</text>
<line x1="491" y1="572.78" x2="497" y2="572.78" stroke="#000" stroke-width="2"/>
<text x="487" y="579.58" font-size="20" text-anchor="end" font-weight="normal" >0.2</text>
<line x1="491" y1="517.16" x2="497" y2="517.16" stroke="#000" stroke-width="2"/>
<text x="487" y="523.96" font-size="20" text-anchor="end" font-weight="normal" >0.4</text>
<line x1="491" y1="461.54" x2="497" y2="461.54" stroke="#000" stroke-width="2"/>
<text x="487" y="468.34" font-size="20" text-anchor="end" font-weight="normal" >0.6</text>
<line x1="491" y1="405.92" x2="497" y2="405.92" stroke="#000" stroke-width="2"/>
<text x="487" y="412.72" font-size="20" text-anchor="end" font-weight="normal" >0.8</text>
<line x1="491" y1="350.3" x2="497" y2="350.3" stroke="#000" stroke-width="2"/>
<text x="487" y="357.1" font-size="20" text-anchor="end" font-weight="normal" >1.0</text>
<line x1="535.5" y1="631.8" x2="535.5" y2="634.8" stroke="#000" stroke-width="2"/>
<line x1="612.5" y1="631.8" x2="612.5" y2="634.8" stroke="#000" stroke-width="2"/>
<line x1="689.5" y1="631.8" x2="689.5" y2="634.8" stroke="#000" stroke-width="2"/>
<line x1="766.5" y1="631.8" x2="766.5" y2="634.8" stroke="#000" stroke-width="2"/>
<line x1="843.5" y1="631.8" x2="843.5" y2="634.8" stroke="#000" stroke-width="2"/>
<line x1="497" y1="631.8" x2="497" y2="637.8" stroke="#000" stroke-width="2"/>
<text x="497" y="656.8" font-size="20" text-anchor="middle" font-weight="normal" >0</text>
<line x1="574" y1="631.8" x2="574" y2="637.8" stroke="#000" stroke-width="2"/>
<text x="574" y="656.8" font-size="20" text-anchor="middle" font-weight="normal" >5</text>
<line x1="651" y1="631.8" x2="651" y2="637.8" stroke="#000" stroke-width="2"/>
<text x="651" y="656.8" font-size="20" text-anchor="middle" font-weight="normal" >10</text>
<line x1="728" y1="631.8" x2="728" y2="637.8" stroke="#000" stroke-width="2"/>
<text x="728" y="656.8" font-size="20" text-anchor="middle" font-weight="normal" >15</text>
<line x1="805" y1="631.8" x2="805" y2="637.8" stroke="#000" stroke-width="2"/>
<text x="805" y="656.8" font-size="20" text-anchor="middle" font-weight="normal" >20</text>
<text x="672" y="676.5" font-size="20" text-anchor="middle" font-weight="normal" >Time (s)</text>
<text transform="translate(450,490.9) rotate(-90)" font-size="21" text-anchor="middle">&#916;R/R<tspan font-size="13.02" dy="4.2">0</tspan><tspan dy="-4.2"> (%)</tspan></text>
<text x="427" y="365" font-size="33.5" text-anchor="start" font-weight="bold" >(e)</text>
<text x="840" y="398.5" font-size="34.5" text-anchor="end" font-weight="bold" >5 %</text>
<path d="M916.00,621.96 L916.29,621.62 L916.58,621.11 L916.87,620.42 L917.17,619.55 L917.46,618.51 L917.75,617.29 L918.04,615.89 L918.33,614.29 L918.62,612.51 L918.92,610.55 L919.21,608.44 L919.50,606.21 L919.79,603.87 L920.08,601.47 L920.37,599.01 L920.67,596.54 L920.96,594.07 L921.25,591.63 L921.54,589.21 L921.83,586.83 L922.12,584.48 L922.42,582.12 L922.71,579.76 L923.00,577.37 L923.29,574.96 L923.58,572.53 L923.87,570.08 L924.17,567.61 L924.46,565.13 L924.75,562.64 L925.04,560.16 L925.33,557.67 L925.62,555.20 L925.92,552.73 L926.21,550.28 L926.50,547.86 L926.79,545.45 L927.08,543.07 L927.37,540.71 L927.67,538.35 L927.96,536.01 L928.25,533.66 L928.54,531.31 L928.83,528.96 L929.12,526.61 L929.42,524.27 L929.71,521.95 L930.00,519.64 L930.29,517.35 L930.58,515.09 L930.87,512.86 L931.17,510.67 L931.46,508.52 L931.75,506.42 L932.04,504.37 L932.33,502.37 L932.62,500.43 L932.92,498.53 L933.21,496.68 L933.50,494.87 L933.79,493.08 L934.08,491.31 L934.37,489.57 L934.67,487.87 L934.96,486.19 L935.25,484.56 L935.54,482.98 L935.83,481.46 L936.12,479.99 L936.42,478.60 L936.71,477.29 L937.00,476.05 L937.29,474.90 L937.58,473.85 L937.87,472.87 L938.17,471.98 L938.46,471.16 L938.75,470.39 L939.04,469.65 L939.33,468.93 L939.62,468.21 L939.92,467.46 L940.21,466.68 L940.50,465.87 L940.79,465.02 L941.08,464.14 L941.37,463.23 L941.67,462.30 L941.96,461.35 L942.25,460.39 L942.54,459.41 L942.83,458.41 L943.12,457.41 L943.42,456.40 L943.71,455.38 L944.00,454.35 L944.29,453.33 L944.58,452.30 L944.87,451.27 L945.17,450.25 L945.46,449.22 L945.75,448.20 L946.04,447.17 L946.33,446.13 L946.62,445.07 L946.92,443.99 L947.21,442.87 L947.50,441.68 L947.79,440.38 L948.08,438.84 L948.37,436.87 L948.67,434.33 L948.96,431.40 L949.25,428.81 L949.54,427.67 L949.83,428.89 L950.12,432.55 L950.42,437.77 L950.71,443.22 L951.00,447.80 L951.29,450.98 L951.58,452.73 L951.87,453.34 L952.17,453.19 L952.46,452.63 L952.75,451.91 L953.04,451.14 L953.33,450.35 L953.62,449.55 L953.92,448.74 L954.21,447.92 L954.50,447.10 L954.79,446.27 L955.08,445.44 L955.37,444.63 L955.67,443.82 L955.96,443.04 L956.25,442.27 L956.54,441.54 L956.83,440.84 L957.12,440.18 L957.42,439.56 L957.71,439.00 L958.00,438.49 L958.29,438.03 L958.58,437.65 L958.87,437.33 L959.17,437.09 L959.46,436.93 L959.75,436.85 L960.04,436.86 L960.33,436.97 L960.62,437.17 L960.92,437.46 L961.21,437.83 L961.50,438.29 L961.79,438.82 L962.08,439.42 L962.37,440.09 L962.67,440.82 L962.96,441.61 L963.25,442.44 L963.54,443.32 L963.83,444.24 L964.12,445.20 L964.42,446.19 L964.71,447.22 L965.00,448.31 L965.29,449.47 L965.58,450.75 L965.87,452.18 L966.17,453.78 L966.46,455.57 L966.75,457.53 L967.04,459.65 L967.33,461.90 L967.62,464.26 L967.92,466.71 L968.21,469.21 L968.50,471.76 L968.79,474.32 L969.08,476.88 L969.37,479.41 L969.67,481.91 L969.96,484.37 L970.25,486.82 L970.54,489.26 L970.83,491.70 L971.12,494.17 L971.42,496.65 L971.71,499.16 L972.00,501.69 L972.29,504.24 L972.58,506.80 L972.87,509.38 L973.17,511.98 L973.46,514.58 L973.75,517.19 L974.04,519.80 L974.33,522.42 L974.62,525.05 L974.92,527.67 L975.21,530.29 L975.50,532.90 L975.79,535.51 L976.08,538.11 L976.37,540.70 L976.67,543.27 L976.96,545.83 L977.25,548.36 L977.54,550.86 L977.83,553.34 L978.12,555.77 L978.42,558.18 L978.71,560.56 L979.00,562.91 L979.29,565.25 L979.58,567.59 L979.87,569.92 L980.17,572.26 L980.46,574.61 L980.75,576.98 L981.04,579.38 L981.33,581.81 L981.62,584.29 L981.92,586.82 L982.21,589.40 L982.50,592.04 L982.79,594.77 L983.08,597.61 L983.37,600.58 L983.67,603.71 L983.96,606.97 L984.25,610.25 L984.54,613.34 L984.83,616.02 L985.12,618.15 L985.42,619.71 L985.71,620.75 L986.00,621.34 L986.29,621.52 L986.58,621.35 L986.87,620.89 L987.16,620.18 L987.46,619.28 L987.75,618.19 L988.04,616.92 L988.33,615.47 L988.62,613.81 L988.91,611.98 L989.21,609.98 L989.50,607.83 L989.79,605.57 L990.08,603.21 L990.37,600.79 L990.66,598.33 L990.96,595.86 L991.25,593.39 L991.54,590.95 L991.83,588.55 L992.12,586.18 L992.41,583.82 L992.71,581.47 L993.00,579.10 L993.29,576.71 L993.58,574.29 L993.87,571.85 L994.16,569.39 L994.46,566.92 L994.75,564.44 L995.04,561.95 L995.33,559.47 L995.62,556.98 L995.91,554.51 L996.21,552.05 L996.50,549.61 L996.79,547.19 L997.08,544.79 L997.37,542.41 L997.66,540.05 L997.96,537.70 L998.25,535.36 L998.54,533.01 L998.83,530.66 L999.12,528.31 L999.41,525.96 L999.71,523.63 L1000.00,521.30 L1000.29,519.00 L1000.58,516.72 L1000.87,514.46 L1001.16,512.25 L1001.46,510.07 L1001.75,507.93 L1002.04,505.84 L1002.33,503.81 L1002.62,501.83 L1002.91,499.90 L1003.21,498.02 L1003.50,496.18 L1003.79,494.37 L1004.08,492.59 L1004.37,490.83 L1004.66,489.10 L1004.96,487.40 L1005.25,485.74 L1005.54,484.12 L1005.83,482.55 L1006.12,481.04 L1006.41,479.60 L1006.71,478.23 L1007.00,476.93 L1007.29,475.72 L1007.58,474.60 L1007.87,473.57 L1008.16,472.62 L1008.46,471.75 L1008.75,470.94 L1009.04,470.18 L1009.33,469.45 L1009.62,468.73 L1009.91,468.00 L1010.21,467.25 L1010.50,466.46 L1010.79,465.64 L1011.08,464.78 L1011.37,463.89 L1011.66,462.97 L1011.96,462.04 L1012.25,461.09 L1012.54,460.12 L1012.83,459.13 L1013.12,458.14 L1013.41,457.13 L1013.71,456.12 L1014.00,455.09 L1014.29,454.07 L1014.58,453.04 L1014.87,452.01 L1015.16,450.99 L1015.46,449.96 L1015.75,448.94 L1016.04,447.92 L1016.33,446.89 L1016.62,445.84 L1016.91,444.78 L1017.21,443.68 L1017.50,442.54 L1017.79,441.34 L1018.08,439.98 L1018.37,438.34 L1018.66,436.20 L1018.96,433.52 L1019.25,430.59 L1019.54,428.29 L1019.83,427.74 L1020.12,429.69 L1020.41,433.91 L1020.71,439.33 L1021.00,444.63 L1021.29,448.86 L1021.58,451.62 L1021.87,453.01 L1022.16,453.36 L1022.46,453.07 L1022.75,452.45 L1023.04,451.70 L1023.33,450.92 L1023.62,450.13 L1023.91,449.33 L1024.21,448.52 L1024.50,447.70 L1024.79,446.87 L1025.08,446.04 L1025.37,445.22 L1025.66,444.40 L1025.96,443.60 L1026.25,442.82 L1026.54,442.07 L1026.83,441.34 L1027.12,440.65 L1027.41,440.01 L1027.71,439.40 L1028.00,438.85 L1028.29,438.35 L1028.58,437.92 L1028.87,437.55 L1029.16,437.25 L1029.46,437.03 L1029.75,436.90 L1030.04,436.85 L1030.33,436.88 L1030.62,437.02 L1030.91,437.24 L1031.21,437.55 L1031.50,437.95 L1031.79,438.43 L1032.08,438.98 L1032.37,439.60 L1032.66,440.29 L1032.96,441.03 L1033.25,441.83 L1033.54,442.68 L1033.83,443.57 L1034.12,444.51 L1034.41,445.47 L1034.71,446.47 L1035.00,447.52 L1035.29,448.62 L1035.58,449.81 L1035.87,451.13 L1036.16,452.61 L1036.46,454.26 L1036.75,456.10 L1037.04,458.11 L1037.33,460.26 L1037.62,462.55 L1037.91,464.93 L1038.21,467.40 L1038.50,469.92 L1038.79,472.47 L1039.08,475.03 L1039.37,477.58 L1039.66,480.11 L1039.96,482.59 L1040.25,485.05 L1040.54,487.49 L1040.83,489.93 L1041.12,492.39 L1041.41,494.86 L1041.71,497.35 L1042.00,499.86 L1042.29,502.40 L1042.58,504.95 L1042.87,507.52 L1043.16,510.10 L1043.46,512.70 L1043.75,515.30 L1044.04,517.91 L1044.33,520.53 L1044.62,523.15 L1044.91,525.78 L1045.21,528.40 L1045.50,531.02 L1045.79,533.63 L1046.08,536.23 L1046.37,538.83 L1046.66,541.42 L1046.96,543.98 L1047.25,546.53 L1047.54,549.06 L1047.83,551.55 L1048.12,554.02 L1048.41,556.44 L1048.71,558.84 L1049.00,561.21 L1049.29,563.56 L1049.58,565.90 L1049.87,568.23 L1050.16,570.57 L1050.46,572.91 L1050.75,575.26 L1051.04,577.64 L1051.33,580.05 L1051.62,582.50 L1051.91,584.99 L1052.21,587.53 L1052.50,590.13 L1052.79,592.79 L1053.08,595.55 L1053.37,598.42 L1053.66,601.43 L1053.96,604.61 L1054.25,607.89 L1054.54,611.14 L1054.83,614.14 L1055.12,616.67 L1055.41,618.64 L1055.71,620.05 L1056.00,620.96 L1056.29,621.43 L1056.58,621.51 L1056.87,621.25 L1057.16,620.72 L1057.45,619.95 L1057.75,618.99 L1058.04,617.86 L1058.33,616.54 L1058.62,615.03 L1058.91,613.32 L1059.20,611.44 L1059.50,609.39 L1059.79,607.21 L1060.08,604.92 L1060.37,602.54 L1060.66,600.11 L1060.95,597.64 L1061.25,595.17 L1061.54,592.71 L1061.83,590.28 L1062.12,587.89 L1062.41,585.52 L1062.70,583.17 L1063.00,580.81 L1063.29,578.44 L1063.58,576.04 L1063.87,573.61 L1064.16,571.17 L1064.45,568.71 L1064.75,566.23 L1065.04,563.75 L1065.33,561.26 L1065.62,558.78 L1065.91,556.30 L1066.20,553.83 L1066.50,551.37 L1066.79,548.93 L1067.08,546.52 L1067.37,544.13 L1067.66,541.76 L1067.95,539.40 L1068.25,537.05 L1068.54,534.70 L1068.83,532.36 L1069.12,530.00 L1069.41,527.66 L1069.70,525.31 L1070.00,522.98 L1070.29,520.66 L1070.58,518.36 L1070.87,516.09 L1071.16,513.85 L1071.45,511.64 L1071.75,509.47 L1072.04,507.35 L1072.33,505.27 L1072.62,503.25 L1072.91,501.28 L1073.20,499.37 L1073.50,497.50 L1073.79,495.67 L1074.08,493.87 L1074.37,492.10 L1074.66,490.34 L1074.95,488.62 L1075.25,486.93 L1075.54,485.28 L1075.83,483.68 L1076.12,482.13 L1076.41,480.64 L1076.70,479.21 L1077.00,477.86 L1077.29,476.59 L1077.58,475.40 L1077.87,474.30 L1078.16,473.30 L1078.45,472.37 L1078.75,471.52 L1079.04,470.73 L1079.33,469.98 L1079.62,469.25 L1079.91,468.53 L1080.20,467.80 L1080.50,467.03 L1080.79,466.24 L1081.08,465.40 L1081.37,464.53 L1081.66,463.64 L1081.95,462.72 L1082.25,461.78 L1082.54,460.82 L1082.83,459.84 L1083.12,458.86 L1083.41,457.86 L1083.70,456.85 L1084.00,455.83 L1084.29,454.81 L1084.58,453.78 L1084.87,452.75 L1085.16,451.73 L1085.45,450.70 L1085.75,449.68 L1086.04,448.66 L1086.33,447.63 L1086.62,446.60 L1086.91,445.55 L1087.20,444.47 L1087.50,443.37 L1087.79,442.22 L1088.08,440.98 L1088.37,439.56 L1088.66,437.80 L1088.95,435.51 L1089.25,432.70 L1089.54,429.83 L1089.83,427.90 L1090.12,428.00 L1090.41,430.63 L1090.70,435.31 L1091.00,440.83 L1091.29,445.91 L1091.58,449.75 L1091.87,452.12 L1092.16,453.19 L1092.45,453.33 L1092.75,452.92 L1093.04,452.25 L1093.33,451.49 L1093.62,450.70 L1093.91,449.91 L1094.20,449.10 L1094.50,448.29 L1094.79,447.47 L1095.08,446.64 L1095.37,445.81 L1095.66,444.99 L1095.95,444.18 L1096.25,443.38 L1096.54,442.61 L1096.83,441.86 L1097.12,441.15 L1097.41,440.47 L1097.70,439.83 L1098.00,439.24 L1098.29,438.71 L1098.58,438.23 L1098.87,437.81 L1099.16,437.46 L1099.45,437.18 L1099.75,436.99 L1100.04,436.87 L1100.33,436.85 L1100.62,436.91 L1100.91,437.07 L1101.20,437.32 L1101.50,437.65 L1101.79,438.07 L1102.08,438.57 L1102.37,439.14 L1102.66,439.78 L1102.95,440.49 L1103.25,441.25 L1103.54,442.06 L1103.83,442.93 L1104.12,443.83 L1104.41,444.77 L1104.70,445.75 L1105.00,446.76 L1105.29,447.82 L1105.58,448.94 L1105.87,450.16 L1106.16,451.52 L1106.45,453.05 L1106.75,454.76 L1107.04,456.64 L1107.33,458.69 L1107.62,460.88 L1107.91,463.20 L1108.20,465.61 L1108.50,468.09 L1108.79,470.63 L1109.08,473.18 L1109.37,475.74 L1109.66,478.29 L1109.95,480.80 L1110.25,483.28 L1110.54,485.73 L1110.83,488.17 L1111.12,490.61 L1111.41,493.07 L1111.70,495.55 L1112.00,498.04 L1112.29,500.56 L1112.58,503.10 L1112.87,505.66 L1113.16,508.24 L1113.45,510.82 L1113.75,513.42 L1114.04,516.03 L1114.33,518.64 L1114.62,521.26 L1114.91,523.88 L1115.20,526.50 L1115.50,529.12 L1115.79,531.74 L1116.08,534.35 L1116.37,536.96 L1116.66,539.55 L1116.95,542.13 L1117.25,544.69 L1117.54,547.24 L1117.83,549.76 L1118.12,552.24 L1118.41,554.69 L1118.70,557.11 L1119.00,559.50 L1119.29,561.87 L1119.58,564.21 L1119.87,566.55 L1120.16,568.88 L1120.45,571.22 L1120.75,573.56 L1121.04,575.92 L1121.33,578.31 L1121.62,580.73 L1121.91,583.18 L1122.20,585.69 L1122.50,588.24 L1122.79,590.86 L1123.08,593.55 L1123.37,596.33 L1123.66,599.24 L1123.95,602.29 L1124.25,605.51 L1124.54,608.80 L1124.83,612.00 L1125.12,614.89 L1125.41,617.27 L1125.70,619.08 L1125.99,620.35 L1126.29,621.13 L1126.58,621.49 L1126.87,621.47 L1127.16,621.13 L1127.45,620.52 L1127.74,619.70 L1128.04,618.70 L1128.33,617.51 L1128.62,616.14 L1128.91,614.57 L1129.20,612.82 L1129.49,610.89 L1129.79,608.80 L1130.08,606.59 L1130.37,604.27 L1130.66,601.87 L1130.95,599.43 L1131.24,596.96 L1131.54,594.48 L1131.83,592.03 L1132.12,589.61 L1132.41,587.23 L1132.70,584.87 L1132.99,582.52 L1133.29,580.15 L1133.58,577.77 L1133.87,575.37 L1134.16,572.94 L1134.45,570.49 L1134.74,568.02 L1135.04,565.54 L1135.33,563.06 L1135.62,560.57 L1135.91,558.09 L1136.20,555.61 L1136.49,553.14 L1136.79,550.69 L1137.08,548.26 L1137.37,545.85 L1137.66,543.47 L1137.95,541.10 L1138.24,538.75 L1138.54,536.40 L1138.83,534.05 L1139.12,531.70 L1139.41,529.35 L1139.70,527.00 L1139.99,524.66 L1140.29,522.33 L1140.58,520.02 L1140.87,517.73 L1141.16,515.46 L1141.45,513.23 L1141.74,511.03 L1142.04,508.87 L1142.33,506.76 L1142.62,504.71 L1142.91,502.70 L1143.20,500.75 L1143.49,498.85 L1143.79,496.99 L1144.08,495.17 L1144.37,493.38 L1144.66,491.61 L1144.95,489.86 L1145.24,488.15 L1145.54,486.47 L1145.83,484.83 L1146.12,483.24 L1146.41,481.71 L1146.70,480.23 L1146.99,478.83 L1147.29,477.50 L1147.58,476.25 L1147.87,475.09 L1148.16,474.02 L1148.45,473.03 L1148.74,472.13 L1149.04,471.29 L1149.33,470.52 L1149.62,469.78 L1149.91,469.05 L1150.20,468.33 L1150.49,467.59 L1150.79,466.82 L1151.08,466.01 L1151.37,465.16 L1151.66,464.29 L1151.95,463.38 L1152.24,462.46 L1152.54,461.51 L1152.83,460.55 L1153.12,459.57 L1153.41,458.58 L1153.70,457.58 L1153.99,456.57 L1154.29,455.55 L1154.58,454.52 L1154.87,453.50 L1155.16,452.47 L1155.45,451.44 L1155.74,450.42 L1156.04,449.39 L1156.33,448.37 L1156.62,447.35 L1156.91,446.31 L1157.20,445.25 L1157.49,444.17 L1157.79,443.06 L1158.08,441.89 L1158.37,440.61 L1158.66,439.13 L1158.95,437.24 L1159.24,434.79 L1159.54,431.90 L1159.83,429.17 L1160.12,427.70 L1160.41,428.49 L1160.70,431.78 L1160.99,436.82 L1161.29,442.33 L1161.58,447.11 L1161.87,450.55 L1162.16,452.53 L1162.45,453.30 L1162.74,453.25 L1163.04,452.74 L1163.33,452.04 L1163.62,451.27 L1163.91,450.48 L1164.20,449.69 L1164.49,448.88 L1164.79,448.06 L1165.08,447.24 L1165.37,446.41 L1165.66,445.58 L1165.95,444.76 L1166.24,443.96 L1166.54,443.17 L1166.83,442.40 L1167.12,441.66 L1167.41,440.96 L1167.70,440.29 L1167.99,439.66 L1168.29,439.09 L1168.58,438.57 L1168.87,438.10 L1169.16,437.71 L1169.45,437.38 L1169.74,437.12 L1170.04,436.95 L1170.33,436.86 L1170.62,436.86 L1170.91,436.95 L1171.20,437.13 L1171.49,437.40 L1171.79,437.76 L1172.08,438.20 L1172.37,438.72 L1172.66,439.32 L1172.95,439.97 L1173.24,440.69 L1173.54,441.47 L1173.83,442.30 L1174.12,443.17 L1174.41,444.09 L1174.70,445.04 L1174.99,446.02 L1175.29,447.05 L1175.58,448.12 L1175.87,449.27 L1176.16,450.52 L1176.45,451.93 L1176.74,453.50 L1177.04,455.26 L1177.33,457.19 L1177.62,459.29 L1177.91,461.52 L1178.20,463.86 L1178.49,466.29 L1178.79,468.79 L1179.08,471.33 L1179.37,473.90 L1179.66,476.45 L1179.95,478.99 L1180.24,481.49 L1180.54,483.96 L1180.83,486.41 L1181.12,488.85 L1181.41,491.29 L1181.70,493.75 L1181.99,496.24 L1182.29,498.74 L1182.58,501.27 L1182.87,503.81 L1183.16,506.37 L1183.45,508.95 L1183.74,511.54 L1184.04,514.14 L1184.33,516.75 L1184.62,519.37 L1184.91,521.99 L1185.20,524.61 L1185.49,527.23 L1185.79,529.85 L1186.08,532.47 L1186.37,535.08 L1186.66,537.68 L1186.95,540.27 L1187.24,542.84 L1187.54,545.40 L1187.83,547.94 L1188.12,550.45 L1188.41,552.93 L1188.70,555.37 L1188.99,557.78 L1189.29,560.16 L1189.58,562.52 L1189.87,564.86 L1190.16,567.20 L1190.45,569.53 L1190.74,571.87 L1191.04,574.21 L1191.33,576.58 L1191.62,578.98 L1191.91,581.40 L1192.20,583.87 L1192.49,586.39 L1192.79,588.96 L1193.08,591.60 L1193.37,594.31 L1193.66,597.12 L1193.95,600.07 L1194.24,603.17 L1194.54,606.42 L1194.83,609.71 L1195.12,612.85 L1195.41,615.60 L1195.70,617.83 L1195.99,619.48 L1196.28,620.61 L1196.58,621.27 L1196.87,621.52 L1197.16,621.40 L1197.45,620.99 L1197.74,620.32 L1198.03,619.44 L1198.33,618.39 L1198.62,617.15 L1198.91,615.72 L1199.20,614.10 L1199.49,612.30 L1199.78,610.32 L1200.08,608.20 L1200.37,605.95 L1200.66,603.61 L1200.95,601.20 L1201.24,598.74 L1201.53,596.27 L1201.83,593.80 L1202.12,591.36 L1202.41,588.95 L1202.70,586.57 L1202.99,584.22 L1203.28,581.86 L1203.58,579.49 L1203.87,577.11 L1204.16,574.69 L1204.45,572.26 L1204.74,569.80 L1205.03,567.33 L1205.33,564.85 L1205.62,562.37 L1205.91,559.88 L1206.20,557.40 L1206.49,554.92 L1206.78,552.46 L1207.08,550.01 L1207.37,547.59 L1207.66,545.19 L1207.95,542.81 L1208.24,540.45 L1208.53,538.09 L1208.83,535.75 L1209.12,533.40 L1209.41,531.05 L1209.70,528.70 L1209.99,526.35 L1210.28,524.01 L1210.58,521.69 L1210.87,519.38 L1211.16,517.10 L1211.45,514.84 L1211.74,512.61 L1212.03,510.43 L1212.33,508.28 L1212.62,506.19 L1212.91,504.14 L1213.20,502.15 L1213.49,500.22 L1213.78,498.33 L1214.08,496.48 L1214.37,494.67 L1214.66,492.88 L1214.95,491.12 L1215.24,489.38 L1215.53,487.68 L1215.83,486.01 L1216.12,484.38 L1216.41,482.81 L1216.70,481.29 L1216.99,479.84 L1217.28,478.45 L1217.58,477.14 L1217.87,475.92 L1218.16,474.78 L1218.45,473.73 L1218.74,472.77 L1219.03,471.89 L1219.33,471.07 L1219.62,470.31 L1219.91,469.57 L1220.20,468.85 L1220.49,468.12 L1220.78,467.38 L1221.08,466.60 L1221.37,465.78 L1221.66,464.92 L1221.95,464.04 L1222.24,463.13 L1222.53,462.20 L1222.83,461.25 L1223.12,460.28 L1223.41,459.30 L1223.70,458.30 L1223.99,457.30 L1224.28,456.28 L1224.58,455.26 L1224.87,454.24 L1225.16,453.21 L1225.45,452.18 L1225.74,451.16 L1226.03,450.13 L1226.33,449.11 L1226.62,448.09 L1226.91,447.06 L1227.20,446.02 L1227.49,444.96 L1227.78,443.87 L1228.08,442.74 L1228.37,441.55 L1228.66,440.23 L1228.95,438.64 L1229.24,436.61 L1229.53,434.01 L1229.83,431.08 L1230.12,428.59 L1230.41,427.68 L1230.70,429.19 L1230.99,433.08 L1231.28,438.40 L1231.58,443.80 L1231.87,448.24 L1232.16,451.25 L1232.45,452.86 L1232.74,453.35 L1233.03,453.14 L1233.33,452.56 L1233.62,451.83 L1233.91,451.05 L1234.20,450.26 L1234.49,449.46 L1234.78,448.65 L1235.08,447.83 L1235.37,447.01 L1235.66,446.18 L1235.95,445.35 L1236.24,444.54 L1236.53,443.74 L1236.83,442.95 L1237.12,442.19 L1237.41,441.46 L1237.70,440.77 L1237.99,440.11 L1238.28,439.50 L1238.58,438.94 L1238.87,438.43 L1239.16,437.99 L1239.45,437.61 L1239.74,437.30 L1240.03,437.06 L1240.33,436.91 L1240.62,436.85 L1240.91,436.87 L1241.20,436.99 L1241.49,437.20 L1241.78,437.49 L1242.08,437.88 L1242.37,438.34 L1242.66,438.88 L1242.95,439.49 L1243.24,440.17 L1243.53,440.90 L1243.83,441.70 L1244.12,442.54 L1244.41,443.42 L1244.70,444.35 L1244.99,445.31 L1245.28,446.30 L1245.58,447.34 L1245.87,448.43 L1246.16,449.60 L1246.45,450.90 L1246.74,452.35 L1247.03,453.97 L1247.33,455.78 L1247.62,457.76 L1247.91,459.89 L1248.20,462.16 L1248.49,464.53 L1248.78,466.98 L1249.08,469.50 L1249.37,472.04 L1249.66,474.61 L1249.95,477.16 L1250.24,479.69 L1250.53,482.18 L1250.83,484.64 L1251.12,487.09 L1251.41,489.53 L1251.70,491.97 L1251.99,494.44 L1252.28,496.93 L1252.58,499.44 L1252.87,501.97 L1253.16,504.52 L1253.45,507.09 L1253.74,509.67 L1254.03,512.26 L1254.33,514.87 L1254.62,517.48 L1254.91,520.09 L1255.20,522.72 L1255.49,525.34 L1255.78,527.96 L1256.08,530.58 L1256.37,533.19 L1256.66,535.80 L1256.95,538.40 L1257.24,540.99 L1257.53,543.56 L1257.83,546.11 L1258.12,548.64 L1258.41,551.14 L1258.70,553.61 L1258.99,556.04 L1259.28,558.44 L1259.58,560.82 L1259.87,563.17 L1260.16,565.51 L1260.45,567.84 L1260.74,570.18 L1261.03,572.52 L1261.33,574.87 L1261.62,577.24 L1261.91,579.65 L1262.20,582.09 L1262.49,584.57 L1262.78,587.10 L1263.08,589.69 L1263.37,592.34 L1263.66,595.08 L1263.95,597.93 L1264.24,600.91 L1264.53,604.05 L1264.83,607.27 L1265.12,610.40 L1265.41,613.16 L1265.70,615.30" fill="none" stroke="#3A7098" stroke-width="2" stroke-linejoin="round" stroke-linecap="round" />
<rect x="916" y="349" width="349.7" height="281.7" fill="none" stroke="#000" stroke-width="2"/>
<line x1="913" y1="595" x2="916" y2="595" stroke="#000" stroke-width="2"/>
<line x1="913" y1="540.4" x2="916" y2="540.4" stroke="#000" stroke-width="2"/>
<line x1="913" y1="485.8" x2="916" y2="485.8" stroke="#000" stroke-width="2"/>
<line x1="913" y1="431.2" x2="916" y2="431.2" stroke="#000" stroke-width="2"/>
<line x1="913" y1="376.6" x2="916" y2="376.6" stroke="#000" stroke-width="2"/>
<line x1="910" y1="622.3" x2="916" y2="622.3" stroke="#000" stroke-width="2"/>
<text x="906" y="629.1" font-size="20" text-anchor="end" font-weight="normal" >0.0</text>
<line x1="910" y1="567.7" x2="916" y2="567.7" stroke="#000" stroke-width="2"/>
<text x="906" y="574.5" font-size="20" text-anchor="end" font-weight="normal" >0.2</text>
<line x1="910" y1="513.1" x2="916" y2="513.1" stroke="#000" stroke-width="2"/>
<text x="906" y="519.9" font-size="20" text-anchor="end" font-weight="normal" >0.4</text>
<line x1="910" y1="458.5" x2="916" y2="458.5" stroke="#000" stroke-width="2"/>
<text x="906" y="465.3" font-size="20" text-anchor="end" font-weight="normal" >0.6</text>
<line x1="910" y1="403.9" x2="916" y2="403.9" stroke="#000" stroke-width="2"/>
<text x="906" y="410.7" font-size="20" text-anchor="end" font-weight="normal" >0.8</text>
<line x1="910" y1="349.3" x2="916" y2="349.3" stroke="#000" stroke-width="2"/>
<text x="906" y="356.1" font-size="20" text-anchor="end" font-weight="normal" >1.0</text>
<line x1="956.35" y1="630.7" x2="956.35" y2="633.7" stroke="#000" stroke-width="2"/>
<line x1="1037.05" y1="630.7" x2="1037.05" y2="633.7" stroke="#000" stroke-width="2"/>
<line x1="1117.75" y1="630.7" x2="1117.75" y2="633.7" stroke="#000" stroke-width="2"/>
<line x1="1198.45" y1="630.7" x2="1198.45" y2="633.7" stroke="#000" stroke-width="2"/>
<line x1="916" y1="630.7" x2="916" y2="636.7" stroke="#000" stroke-width="2"/>
<text x="916" y="655.7" font-size="20" text-anchor="middle" font-weight="normal" >0</text>
<line x1="996.7" y1="630.7" x2="996.7" y2="636.7" stroke="#000" stroke-width="2"/>
<text x="996.7" y="655.7" font-size="20" text-anchor="middle" font-weight="normal" >10</text>
<line x1="1077.4" y1="630.7" x2="1077.4" y2="636.7" stroke="#000" stroke-width="2"/>
<text x="1077.4" y="655.7" font-size="20" text-anchor="middle" font-weight="normal" >20</text>
<line x1="1158.1" y1="630.7" x2="1158.1" y2="636.7" stroke="#000" stroke-width="2"/>
<text x="1158.1" y="655.7" font-size="20" text-anchor="middle" font-weight="normal" >30</text>
<line x1="1238.8" y1="630.7" x2="1238.8" y2="636.7" stroke="#000" stroke-width="2"/>
<text x="1238.8" y="655.7" font-size="20" text-anchor="middle" font-weight="normal" >40</text>
<text x="1090.8" y="676.5" font-size="20" text-anchor="middle" font-weight="normal" >Time (s)</text>
<text transform="translate(869.5,490.6) rotate(-90)" font-size="21" text-anchor="middle">&#916;R/R<tspan font-size="13.02" dy="4.2">0</tspan><tspan dy="-4.2"> (%)</tspan></text>
<text x="848" y="365" font-size="33.5" text-anchor="start" font-weight="bold" >(f)</text>
<text x="1259" y="398.5" font-size="34.5" text-anchor="end" font-weight="bold" >10 %</text>
<path d="M102.5,959.8 L114.3,963.7 L131.0,966.9 L175.0,967.5 L232.0,967.0 L293.7,964.5 L369.5,963.1 L416.8,966.9 L502.0,965.0 L549.0,966.0 L590.0,967.6 L606.0,969.2 L624.0,969.2 L640.0,965.5 L660.0,962.3 L696.4,957.4 L762.6,954.6 L857.0,953.7 L1046.6,951.3 L1264.5,949.9 L1264.5,1052.0 L1046.0,1054.0 L862.0,1055.2 L668.0,1055.4 L532.0,1056.8 L530.0,1058.5 L232.0,1063.0 L175.0,1062.2 L102.5,1061.6Z" fill="#275A78"/>
<rect x="102" y="695.5" width="1163.5" height="392.7" fill="none" stroke="#000" stroke-width="3"/>
<line x1="98" y1="1048.94" x2="102" y2="1048.94" stroke="#000" stroke-width="3"/>
<line x1="98" y1="970.42" x2="102" y2="970.42" stroke="#000" stroke-width="3"/>
<line x1="98" y1="891.9" x2="102" y2="891.9" stroke="#000" stroke-width="3"/>
<line x1="98" y1="813.38" x2="102" y2="813.38" stroke="#000" stroke-width="3"/>
<line x1="98" y1="734.86" x2="102" y2="734.86" stroke="#000" stroke-width="3"/>
<line x1="95" y1="1088.2" x2="102" y2="1088.2" stroke="#000" stroke-width="3"/>
<text x="88.7" y="1097.2" font-size="29.5" text-anchor="end" font-weight="normal" >0.0</text>
<line x1="95" y1="1009.68" x2="102" y2="1009.68" stroke="#000" stroke-width="3"/>
<text x="88.7" y="1018.68" font-size="29.5" text-anchor="end" font-weight="normal" >0.2</text>
<line x1="95" y1="931.16" x2="102" y2="931.16" stroke="#000" stroke-width="3"/>
<text x="88.7" y="940.16" font-size="29.5" text-anchor="end" font-weight="normal" >0.4</text>
<line x1="95" y1="852.64" x2="102" y2="852.64" stroke="#000" stroke-width="3"/>
<text x="88.7" y="861.64" font-size="29.5" text-anchor="end" font-weight="normal" >0.6</text>
<line x1="95" y1="774.12" x2="102" y2="774.12" stroke="#000" stroke-width="3"/>
<text x="88.7" y="783.12" font-size="29.5" text-anchor="end" font-weight="normal" >0.8</text>
<line x1="95" y1="695.6" x2="102" y2="695.6" stroke="#000" stroke-width="3"/>
<text x="88.7" y="704.6" font-size="29.5" text-anchor="end" font-weight="normal" >1.0</text>
<line x1="238.88" y1="1088.2" x2="238.88" y2="1092.2" stroke="#000" stroke-width="3"/>
<line x1="512.65" y1="1088.2" x2="512.65" y2="1092.2" stroke="#000" stroke-width="3"/>
<line x1="786.41" y1="1088.2" x2="786.41" y2="1092.2" stroke="#000" stroke-width="3"/>
<line x1="1060.18" y1="1088.2" x2="1060.18" y2="1092.2" stroke="#000" stroke-width="3"/>
<line x1="102" y1="1088.2" x2="102" y2="1095.2" stroke="#000" stroke-width="3"/>
<text x="102" y="1124.2" font-size="29.5" text-anchor="middle" font-weight="normal" >0</text>
<line x1="375.76" y1="1088.2" x2="375.76" y2="1095.2" stroke="#000" stroke-width="3"/>
<text x="375.76" y="1124.2" font-size="29.5" text-anchor="middle" font-weight="normal" >200</text>
<line x1="649.53" y1="1088.2" x2="649.53" y2="1095.2" stroke="#000" stroke-width="3"/>
<text x="649.53" y="1124.2" font-size="29.5" text-anchor="middle" font-weight="normal" >400</text>
<line x1="923.29" y1="1088.2" x2="923.29" y2="1095.2" stroke="#000" stroke-width="3"/>
<text x="923.29" y="1124.2" font-size="29.5" text-anchor="middle" font-weight="normal" >600</text>
<line x1="1197.06" y1="1088.2" x2="1197.06" y2="1095.2" stroke="#000" stroke-width="3"/>
<text x="1197.06" y="1124.2" font-size="29.5" text-anchor="middle" font-weight="normal" >800</text>
<text x="683.7" y="1157.5" font-size="30.8" text-anchor="middle" font-weight="normal" >Time (s)</text>
<text transform="translate(35,891.8) rotate(-90)" font-size="29.5" text-anchor="middle">&#916;R/R<tspan font-size="18.29" dy="5.9">0</tspan><tspan dy="-5.9"> (%)</tspan></text>
<text x="8" y="700" font-size="33.5" text-anchor="start" font-weight="bold" >(g)</text>
<rect x="156" y="709" width="240.7" height="194.7" fill="#fff"/>
<path d="M156.00,868.95 L156.27,868.53 L156.54,867.99 L156.80,867.33 L157.07,866.60 L157.34,865.81 L157.61,864.79 L157.87,863.38 L158.14,861.61 L158.41,859.55 L158.68,857.23 L158.95,854.70 L159.21,852.00 L159.48,849.19 L159.75,846.30 L160.02,843.02 L160.28,839.16 L160.55,834.83 L160.82,830.18 L161.09,825.31 L161.35,820.35 L161.62,815.43 L161.89,810.68 L162.16,806.21 L162.43,801.71 L162.69,797.00 L162.96,792.20 L163.23,787.45 L163.50,782.85 L163.76,778.56 L164.03,774.68 L164.30,771.35 L164.57,768.69 L164.84,766.37 L165.10,764.19 L165.37,762.20 L165.64,760.46 L165.91,759.04 L166.17,757.99 L166.44,757.34 L166.71,756.81 L166.98,756.34 L167.25,755.93 L167.51,755.61 L167.78,755.39 L168.05,755.28 L168.32,755.33 L168.58,755.62 L168.85,756.08 L169.12,756.68 L169.39,757.35 L169.65,758.02 L169.92,758.65 L170.19,759.33 L170.46,760.17 L170.73,761.08 L170.99,761.94 L171.26,762.65 L171.53,763.12 L171.80,763.24 L172.06,762.95 L172.33,762.33 L172.60,761.50 L172.87,760.57 L173.14,759.65 L173.40,758.86 L173.67,758.30 L173.94,758.07 L174.21,757.94 L174.47,757.82 L174.74,757.72 L175.01,757.64 L175.28,757.58 L175.55,757.56 L175.81,757.67 L176.08,758.29 L176.35,759.36 L176.62,760.81 L176.88,762.53 L177.15,764.45 L177.42,766.46 L177.69,768.92 L177.95,772.30 L178.22,776.40 L178.49,781.04 L178.76,786.02 L179.03,791.15 L179.29,796.24 L179.56,801.09 L179.83,806.04 L180.10,811.34 L180.36,816.84 L180.63,822.36 L180.90,827.75 L181.17,832.84 L181.44,837.48 L181.70,841.52 L181.97,845.38 L182.24,849.20 L182.51,852.88 L182.77,856.30 L183.04,859.34 L183.31,861.89 L183.58,863.82 L183.85,865.07 L184.11,866.11 L184.38,867.06 L184.65,867.88 L184.92,868.54 L185.18,869.00 L185.45,869.23 L185.72,869.21 L185.99,868.99 L186.25,868.59 L186.52,868.06 L186.79,867.42 L187.06,866.69 L187.33,865.91 L187.59,864.94 L187.86,863.58 L188.13,861.86 L188.40,859.83 L188.66,857.54 L188.93,855.03 L189.20,852.35 L189.47,849.55 L189.74,846.67 L190.00,843.47 L190.27,839.68 L190.54,835.40 L190.81,830.78 L191.07,825.93 L191.34,820.98 L191.61,816.05 L191.88,811.27 L192.15,806.76 L192.41,802.30 L192.68,797.61 L192.95,792.81 L193.22,788.04 L193.48,783.42 L193.75,779.08 L194.02,775.14 L194.29,771.74 L194.55,768.99 L194.82,766.66 L195.09,764.46 L195.36,762.44 L195.63,760.67 L195.89,759.20 L196.16,758.10 L196.43,757.41 L196.70,756.88 L196.96,756.39 L197.23,755.98 L197.50,755.65 L197.77,755.41 L198.04,755.29 L198.30,755.31 L198.57,755.57 L198.84,756.02 L199.11,756.60 L199.37,757.26 L199.64,757.94 L199.91,758.58 L200.18,759.23 L200.45,760.06 L200.71,760.96 L200.98,761.83 L201.25,762.58 L201.52,763.08 L201.78,763.25 L202.05,763.01 L202.32,762.43 L202.59,761.62 L202.85,760.69 L203.12,759.76 L203.39,758.95 L203.66,758.36 L203.93,758.09 L204.19,757.95 L204.46,757.83 L204.73,757.73 L205.00,757.65 L205.26,757.59 L205.53,757.56 L205.80,757.63 L206.07,758.18 L206.34,759.20 L206.60,760.61 L206.87,762.30 L207.14,764.20 L207.41,766.21 L207.67,768.56 L207.94,771.82 L208.21,775.84 L208.48,780.43 L208.75,785.38 L209.01,790.50 L209.28,795.60 L209.55,800.50 L209.82,805.39 L210.08,810.66 L210.35,816.13 L210.62,821.66 L210.89,827.08 L211.15,832.22 L211.42,836.92 L211.69,841.04 L211.96,844.89 L212.23,848.72 L212.49,852.43 L212.76,855.89 L213.03,858.98 L213.30,861.59 L213.56,863.61 L213.83,864.93 L214.10,865.98 L214.37,866.94 L214.64,867.78 L214.90,868.46 L215.17,868.95 L215.44,869.22 L215.71,869.22 L215.97,869.02 L216.24,868.65 L216.51,868.14 L216.78,867.51 L217.05,866.79 L217.31,866.01 L217.58,865.09 L217.85,863.77 L218.12,862.09 L218.38,860.10 L218.65,857.84 L218.92,855.36 L219.19,852.70 L219.45,849.91 L219.72,847.04 L219.99,843.91 L220.26,840.19 L220.53,835.97 L220.79,831.38 L221.06,826.56 L221.33,821.61 L221.60,816.67 L221.86,811.86 L222.13,807.31 L222.40,802.88 L222.67,798.21 L222.94,793.42 L223.20,788.64 L223.47,784.00 L223.74,779.61 L224.01,775.62 L224.27,772.13 L224.54,769.29 L224.81,766.95 L225.08,764.73 L225.35,762.69 L225.61,760.88 L225.88,759.37 L226.15,758.22 L226.42,757.48 L226.68,756.94 L226.95,756.45 L227.22,756.03 L227.49,755.68 L227.75,755.44 L228.02,755.30 L228.29,755.30 L228.56,755.52 L228.83,755.95 L229.09,756.52 L229.36,757.17 L229.63,757.85 L229.90,758.50 L230.16,759.14 L230.43,759.95 L230.70,760.85 L230.97,761.73 L231.24,762.49 L231.50,763.03 L231.77,763.25 L232.04,763.06 L232.31,762.52 L232.57,761.73 L232.84,760.81 L233.11,759.88 L233.38,759.04 L233.65,758.42 L233.91,758.11 L234.18,757.97 L234.45,757.85 L234.72,757.74 L234.98,757.66 L235.25,757.59 L235.52,757.56 L235.79,757.60 L236.05,758.08 L236.32,759.05 L236.59,760.41 L236.86,762.07 L237.13,763.95 L237.39,765.95 L237.66,768.20 L237.93,771.36 L238.20,775.30 L238.46,779.82 L238.73,784.73 L239.00,789.85 L239.27,794.96 L239.54,799.89 L239.80,804.75 L240.07,809.97 L240.34,815.43 L240.61,820.96 L240.87,826.40 L241.14,831.59 L241.41,836.36 L241.68,840.55 L241.95,844.40 L242.21,848.24 L242.48,851.97 L242.75,855.47 L243.02,858.61 L243.28,861.29 L243.55,863.39 L243.82,864.80 L244.09,865.85 L244.35,866.83 L244.62,867.68 L244.89,868.39 L245.16,868.90 L245.43,869.20 L245.69,869.24 L245.96,869.06 L246.23,868.71 L246.50,868.21 L246.76,867.59 L247.03,866.88 L247.30,866.12 L247.57,865.23 L247.84,863.96 L248.10,862.32 L248.37,860.37 L248.64,858.14 L248.91,855.69 L249.17,853.05 L249.44,850.27 L249.71,847.41 L249.98,844.35 L250.25,840.69 L250.51,836.53 L250.78,831.98 L251.05,827.18 L251.32,822.24 L251.58,817.29 L251.85,812.46 L252.12,807.87 L252.39,803.46 L252.65,798.81 L252.92,794.03 L253.19,789.25 L253.46,784.58 L253.73,780.15 L253.99,776.10 L254.26,772.54 L254.53,769.61 L254.80,767.24 L255.06,765.00 L255.33,762.93 L255.60,761.09 L255.87,759.54 L256.14,758.34 L256.40,757.55 L256.67,757.01 L256.94,756.51 L257.21,756.08 L257.47,755.72 L257.74,755.46 L258.01,755.31 L258.28,755.29 L258.55,755.48 L258.81,755.89 L259.08,756.44 L259.35,757.09 L259.62,757.77 L259.88,758.42 L260.15,759.05 L260.42,759.84 L260.69,760.73 L260.95,761.62 L261.22,762.41 L261.49,762.98 L261.76,763.25 L262.03,763.11 L262.29,762.60 L262.56,761.84 L262.83,760.93 L263.10,759.99 L263.36,759.14 L263.63,758.48 L263.90,758.13 L264.17,757.99 L264.44,757.86 L264.70,757.75 L264.97,757.66 L265.24,757.60 L265.51,757.56 L265.77,757.57 L266.04,757.99 L266.31,758.90 L266.58,760.22 L266.85,761.85 L267.11,763.70 L267.38,765.69 L267.65,767.87 L267.92,770.91 L268.18,774.76 L268.45,779.22 L268.72,784.09 L268.99,789.19 L269.25,794.32 L269.52,799.29 L269.79,804.11 L270.06,809.29 L270.33,814.73 L270.59,820.26 L270.86,825.72 L271.13,830.95 L271.40,835.78 L271.66,840.05 L271.93,843.91 L272.20,847.76 L272.47,851.51 L272.74,855.04 L273.00,858.24 L273.27,860.98 L273.54,863.16 L273.81,864.66 L274.07,865.72 L274.34,866.71 L274.61,867.58 L274.88,868.31 L275.15,868.85 L275.41,869.17 L275.68,869.24 L275.95,869.09 L276.22,868.76 L276.48,868.28 L276.75,867.68 L277.02,866.98 L277.29,866.22 L277.55,865.36 L277.82,864.14 L278.09,862.55 L278.36,860.63 L278.63,858.44 L278.89,856.01 L279.16,853.39 L279.43,850.63 L279.70,847.77 L279.96,844.77 L280.23,841.19 L280.50,837.08 L280.77,832.58 L281.04,827.80 L281.30,822.87 L281.57,817.92 L281.84,813.06 L282.11,808.43 L282.37,804.03 L282.64,799.41 L282.91,794.64 L283.18,789.85 L283.45,785.16 L283.71,780.69 L283.98,776.59 L284.25,772.96 L284.52,769.95 L284.78,767.54 L285.05,765.28 L285.32,763.18 L285.59,761.31 L285.85,759.72 L286.12,758.47 L286.39,757.63 L286.66,757.07 L286.93,756.57 L287.19,756.13 L287.46,755.76 L287.73,755.49 L288.00,755.32 L288.26,755.28 L288.53,755.45 L288.80,755.83 L289.07,756.37 L289.34,757.00 L289.60,757.68 L289.87,758.34 L290.14,758.96 L290.41,759.73 L290.67,760.62 L290.94,761.51 L291.21,762.32 L291.48,762.92 L291.75,763.23 L292.01,763.15 L292.28,762.68 L292.55,761.94 L292.82,761.05 L293.08,760.11 L293.35,759.24 L293.62,758.55 L293.89,758.15 L294.15,758.00 L294.42,757.88 L294.69,757.77 L294.96,757.67 L295.23,757.61 L295.49,757.57 L295.76,757.56 L296.03,757.91 L296.30,758.76 L296.56,760.03 L296.83,761.63 L297.10,763.46 L297.37,765.43 L297.64,767.55 L297.90,770.48 L298.17,774.24 L298.44,778.63 L298.71,783.46 L298.97,788.54 L299.24,793.67 L299.51,798.67 L299.78,803.48 L300.05,808.62 L300.31,814.03 L300.58,819.56 L300.85,825.04 L301.12,830.30 L301.38,835.19 L301.65,839.55 L301.92,843.42 L302.19,847.27 L302.45,851.04 L302.72,854.61 L302.99,857.85 L303.26,860.66 L303.53,862.92 L303.79,864.51 L304.06,865.59 L304.33,866.59 L304.60,867.48 L304.86,868.23 L305.13,868.79 L305.40,869.14 L305.67,869.25 L305.94,869.12 L306.20,868.81 L306.47,868.35 L306.74,867.76 L307.01,867.07 L307.27,866.31 L307.54,865.49 L307.81,864.32 L308.08,862.77 L308.35,860.89 L308.61,858.73 L308.88,856.33 L309.15,853.73 L309.42,850.99 L309.68,848.14 L309.95,845.18 L310.22,841.67 L310.49,837.63 L310.75,833.17 L311.02,828.41 L311.29,823.50 L311.56,818.54 L311.83,813.67 L312.09,809.00 L312.36,804.60 L312.63,800.01 L312.90,795.25 L313.16,790.45 L313.43,785.74 L313.70,781.24 L313.97,777.08 L314.24,773.39 L314.50,770.29 L314.77,767.83 L315.04,765.56 L315.31,763.44 L315.57,761.53 L315.84,759.90 L316.11,758.61 L316.38,757.71 L316.65,757.14 L316.91,756.63 L317.18,756.18 L317.45,755.80 L317.72,755.52 L317.98,755.34 L318.25,755.28 L318.52,755.41 L318.79,755.77 L319.05,756.29 L319.32,756.92 L319.59,757.59 L319.86,758.26 L320.13,758.88 L320.39,759.63 L320.66,760.50 L320.93,761.40 L321.20,762.22 L321.46,762.86 L321.73,763.21 L322.00,763.18 L322.27,762.76 L322.54,762.05 L322.80,761.17 L323.07,760.23 L323.34,759.34 L323.61,758.62 L323.87,758.18 L324.14,758.02 L324.41,757.89 L324.68,757.78 L324.95,757.69 L325.21,757.61 L325.48,757.57 L325.75,757.55 L326.02,757.84 L326.28,758.63 L326.55,759.85 L326.82,761.41 L327.09,763.21 L327.35,765.18 L327.62,767.25 L327.89,770.06 L328.16,773.72 L328.43,778.04 L328.69,782.83 L328.96,787.89 L329.23,793.03 L329.50,798.05 L329.76,802.85 L330.03,807.95 L330.30,813.34 L330.57,818.86 L330.84,824.35 L331.10,829.65 L331.37,834.60 L331.64,839.03 L331.91,842.93 L332.17,846.78 L332.44,850.57 L332.71,854.17 L332.98,857.46 L333.25,860.33 L333.51,862.67 L333.78,864.35 L334.05,865.46 L334.32,866.47 L334.58,867.37 L334.85,868.14 L335.12,868.73 L335.39,869.11 L335.65,869.25 L335.92,869.15 L336.19,868.86 L336.46,868.41 L336.73,867.84 L336.99,867.16 L337.26,866.41 L337.53,865.61 L337.80,864.49 L338.06,862.99 L338.33,861.15 L338.60,859.02 L338.87,856.64 L339.14,854.07 L339.40,851.34 L339.67,848.51 L339.94,845.58 L340.21,842.15 L340.47,838.16 L340.74,833.75 L341.01,829.03 L341.28,824.13 L341.55,819.17 L341.81,814.28 L342.08,809.58 L342.35,805.16 L342.62,800.60 L342.88,795.86 L343.15,791.06 L343.42,786.33 L343.69,781.80 L343.95,777.59 L344.22,773.83 L344.49,770.65 L344.76,768.13 L345.03,765.84 L345.29,763.70 L345.56,761.76 L345.83,760.09 L346.10,758.75 L346.36,757.80 L346.63,757.21 L346.90,756.69 L347.17,756.23 L347.44,755.85 L347.70,755.55 L347.97,755.35 L348.24,755.28 L348.51,755.38 L348.77,755.71 L349.04,756.22 L349.31,756.84 L349.58,757.51 L349.85,758.18 L350.11,758.80 L350.38,759.52 L350.65,760.39 L350.92,761.29 L351.18,762.13 L351.45,762.79 L351.72,763.19 L351.99,763.21 L352.25,762.83 L352.52,762.15 L352.79,761.29 L353.06,760.35 L353.33,759.45 L353.59,758.70 L353.86,758.22 L354.13,758.04 L354.40,757.91 L354.66,757.79 L354.93,757.70 L355.20,757.62 L355.47,757.57 L355.74,757.55 L356.00,757.77 L356.27,758.50 L356.54,759.68 L356.81,761.20 L357.07,762.97 L357.34,764.92 L357.61,766.96 L357.88,769.65 L358.15,773.22 L358.41,777.46 L358.68,782.20 L358.95,787.24 L359.22,792.38 L359.48,797.43 L359.75,802.23 L360.02,807.28 L360.29,812.64 L360.55,818.15 L360.82,823.66 L361.09,828.99 L361.36,834.00 L361.63,838.50 L361.89,842.44 L362.16,846.30 L362.43,850.10 L362.70,853.73 L362.96,857.07 L363.23,860.00 L363.50,862.41 L363.77,864.18 L364.04,865.33 L364.30,866.35 L364.57,867.27 L364.84,868.05 L365.11,868.67 L365.37,869.08 L365.64,869.25 L365.91,869.17 L366.18,868.91 L366.45,868.48 L366.71,867.92 L366.98,867.25 L367.25,866.51 L367.52,865.72 L367.78,864.65 L368.05,863.20 L368.32,861.40 L368.59,859.30 L368.85,856.96 L369.12,854.41 L369.39,851.70 L369.66,848.87 L369.93,845.97 L370.19,842.62 L370.46,838.70 L370.73,834.33 L371.00,829.64 L371.26,824.76 L371.53,819.80 L371.80,814.89 L372.07,810.16 L372.34,805.72 L372.60,801.20 L372.87,796.47 L373.14,791.67 L373.41,786.92 L373.67,782.36 L373.94,778.10 L374.21,774.28 L374.48,771.02 L374.75,768.42 L375.01,766.12 L375.28,763.96 L375.55,761.99 L375.82,760.29 L376.08,758.90 L376.35,757.90 L376.62,757.28 L376.89,756.76 L377.15,756.29 L377.42,755.89 L377.69,755.58 L377.96,755.37 L378.23,755.28 L378.49,755.35 L378.76,755.66 L379.03,756.15 L379.30,756.75 L379.56,757.42 L379.83,758.10 L380.10,758.72 L380.37,759.42 L380.64,760.27 L380.90,761.18 L381.17,762.03 L381.44,762.72 L381.71,763.16 L381.97,763.23 L382.24,762.90 L382.51,762.25 L382.78,761.40 L383.05,760.47 L383.31,759.56 L383.58,758.78 L383.85,758.26 L384.12,758.06 L384.38,757.92 L384.65,757.81 L384.92,757.71 L385.19,757.63 L385.45,757.58 L385.72,757.56 L385.99,757.71 L386.26,758.39 L386.53,759.51 L386.79,760.99 L387.06,762.74 L387.33,764.67 L387.60,766.69 L387.86,769.26 L388.13,772.72 L388.40,776.89 L388.67,781.58 L388.94,786.59 L389.20,791.72 L389.47,796.80 L389.74,801.62 L390.01,806.62 L390.27,811.95 L390.54,817.45 L390.81,822.97 L391.08,828.33 L391.35,833.38 L391.61,837.96 L391.88,841.95 L392.15,845.81 L392.42,849.62 L392.68,853.28 L392.95,856.66 L393.22,859.65 L393.49,862.13 L393.75,863.99 L394.02,865.19 L394.29,866.22 L394.56,867.16 L394.83,867.96 L395.09,868.60 L395.36,869.04 L395.63,869.24 L395.90,869.19 L396.16,868.95 L396.43,868.54 L396.70,868.00" fill="none" stroke="#D9676E" stroke-width="1.6" stroke-linejoin="round" stroke-linecap="round" clip-path="none"/>
<rect x="156" y="709" width="240.7" height="194.7" fill="none" stroke="#000" stroke-width="1.8"/>
<line x1="154" y1="878.95" x2="156" y2="878.95" stroke="#000" stroke-width="1.5"/>
<line x1="154" y1="830.45" x2="156" y2="830.45" stroke="#000" stroke-width="1.5"/>
<line x1="154" y1="781.95" x2="156" y2="781.95" stroke="#000" stroke-width="1.5"/>
<line x1="154" y1="733.45" x2="156" y2="733.45" stroke="#000" stroke-width="1.5"/>
<line x1="153" y1="903.2" x2="156" y2="903.2" stroke="#000" stroke-width="1.5"/>
<text x="151" y="907.79" font-size="13.5" text-anchor="end" font-weight="normal" >0.0</text>
<line x1="153" y1="854.7" x2="156" y2="854.7" stroke="#000" stroke-width="1.5"/>
<text x="151" y="859.29" font-size="13.5" text-anchor="end" font-weight="normal" >0.1</text>
<line x1="153" y1="806.2" x2="156" y2="806.2" stroke="#000" stroke-width="1.5"/>
<text x="151" y="810.79" font-size="13.5" text-anchor="end" font-weight="normal" >0.2</text>
<line x1="153" y1="757.7" x2="156" y2="757.7" stroke="#000" stroke-width="1.5"/>
<text x="151" y="762.29" font-size="13.5" text-anchor="end" font-weight="normal" >0.3</text>
<line x1="153" y1="709.2" x2="156" y2="709.2" stroke="#000" stroke-width="1.5"/>
<text x="151" y="713.79" font-size="13.5" text-anchor="end" font-weight="normal" >0.4</text>
<line x1="187.88" y1="903.7" x2="187.88" y2="905.7" stroke="#000" stroke-width="1.5"/>
<text x="187.88" y="919.2" font-size="14.5" text-anchor="middle" font-weight="normal" >102</text>
<line x1="241.02" y1="903.7" x2="241.02" y2="905.7" stroke="#000" stroke-width="1.5"/>
<text x="241.02" y="919.2" font-size="14.5" text-anchor="middle" font-weight="normal" >104</text>
<line x1="294.15" y1="903.7" x2="294.15" y2="905.7" stroke="#000" stroke-width="1.5"/>
<text x="294.15" y="919.2" font-size="14.5" text-anchor="middle" font-weight="normal" >106</text>
<line x1="347.28" y1="903.7" x2="347.28" y2="905.7" stroke="#000" stroke-width="1.5"/>
<text x="347.28" y="919.2" font-size="14.5" text-anchor="middle" font-weight="normal" >108</text>
<text x="268.7" y="937.5" font-size="14.5" text-anchor="middle" font-weight="normal" >Time (s)</text>
<text transform="translate(127,806.35) rotate(-90)" font-size="14" text-anchor="middle">&#916;R/R<tspan font-size="8.68" dy="2.8">0</tspan><tspan dy="-2.8"> (%)</tspan></text>
<rect x="944.5" y="710" width="242.2" height="193.8" fill="#fff"/>
<path d="M944.50,857.47 L944.77,858.35 L945.04,859.04 L945.31,859.51 L945.58,859.72 L945.85,859.66 L946.12,859.39 L946.39,858.94 L946.66,858.34 L946.92,857.62 L947.19,856.82 L947.46,855.96 L947.73,854.82 L948.00,853.25 L948.27,851.31 L948.54,849.04 L948.81,846.49 L949.08,843.72 L949.35,840.77 L949.62,837.70 L949.89,834.54 L950.16,830.88 L950.43,826.61 L950.70,821.84 L950.97,816.74 L951.24,811.42 L951.50,806.02 L951.77,800.69 L952.04,795.56 L952.31,790.74 L952.58,785.80 L952.85,780.65 L953.12,775.43 L953.39,770.28 L953.66,765.34 L953.93,760.75 L954.20,756.65 L954.47,753.19 L954.74,750.45 L955.01,747.96 L955.28,745.63 L955.55,743.53 L955.82,741.72 L956.08,740.28 L956.35,739.26 L956.62,738.63 L956.89,738.07 L957.16,737.57 L957.43,737.16 L957.70,736.84 L957.97,736.64 L958.24,736.57 L958.51,736.70 L958.78,737.06 L959.05,737.61 L959.32,738.28 L959.59,739.01 L959.86,739.76 L960.13,740.49 L960.40,741.45 L960.66,742.63 L960.93,743.87 L961.20,745.01 L961.47,745.89 L961.74,746.37 L962.01,746.30 L962.28,745.71 L962.55,744.74 L962.82,743.54 L963.09,742.29 L963.36,741.12 L963.63,740.20 L963.90,739.68 L964.17,739.52 L964.44,739.37 L964.71,739.25 L964.98,739.16 L965.24,739.08 L965.51,739.04 L965.78,739.03 L966.05,739.43 L966.32,740.37 L966.59,741.77 L966.86,743.52 L967.13,745.52 L967.40,747.67 L967.67,750.01 L967.94,753.27 L968.21,757.41 L968.48,762.24 L968.75,767.53 L969.02,773.07 L969.29,778.65 L969.56,784.05 L969.82,789.30 L970.09,794.94 L970.36,800.85 L970.63,806.87 L970.90,812.80 L971.17,818.48 L971.44,823.72 L971.71,828.35 L971.98,832.53 L972.25,836.72 L972.52,840.79 L972.79,844.61 L973.06,848.06 L973.33,851.01 L973.60,853.32 L973.87,854.88 L974.14,856.03 L974.40,857.09 L974.67,858.03 L974.94,858.79 L975.21,859.35 L975.48,859.67 L975.75,859.71 L976.02,859.52 L976.29,859.13 L976.56,858.59 L976.83,857.91 L977.10,857.14 L977.37,856.30 L977.64,855.32 L977.91,853.91 L978.18,852.11 L978.45,849.96 L978.72,847.51 L978.98,844.82 L979.25,841.93 L979.52,838.90 L979.79,835.78 L980.06,832.39 L980.33,828.34 L980.60,823.75 L980.87,818.76 L981.14,813.50 L981.41,808.12 L981.68,802.75 L981.95,797.53 L982.22,792.59 L982.49,787.76 L982.76,782.67 L983.03,777.46 L983.30,772.27 L983.56,767.23 L983.83,762.49 L984.10,758.18 L984.37,754.45 L984.64,751.44 L984.91,748.91 L985.18,746.51 L985.45,744.32 L985.72,742.39 L985.99,740.79 L986.26,739.60 L986.53,738.86 L986.80,738.28 L987.07,737.76 L987.34,737.31 L987.61,736.95 L987.88,736.70 L988.14,736.58 L988.41,736.61 L988.68,736.90 L988.95,737.38 L989.22,738.00 L989.49,738.72 L989.76,739.47 L990.03,740.20 L990.30,741.04 L990.57,742.16 L990.84,743.39 L991.11,744.58 L991.38,745.59 L991.65,746.25 L991.92,746.40 L992.19,745.99 L992.46,745.15 L992.72,744.02 L992.99,742.77 L993.26,741.55 L993.53,740.52 L993.80,739.83 L994.07,739.58 L994.34,739.43 L994.61,739.30 L994.88,739.19 L995.15,739.11 L995.42,739.05 L995.69,739.03 L995.96,739.21 L996.23,739.95 L996.50,741.18 L996.77,742.80 L997.04,744.71 L997.30,746.82 L997.57,749.03 L997.84,751.88 L998.11,755.71 L998.38,760.29 L998.65,765.43 L998.92,770.89 L999.19,776.48 L999.46,781.98 L999.73,787.22 L1000.00,792.70 L1000.27,798.53 L1000.54,804.52 L1000.81,810.51 L1001.08,816.31 L1001.35,821.74 L1001.62,826.63 L1001.88,830.90 L1002.15,835.10 L1002.42,839.23 L1002.69,843.16 L1002.96,846.77 L1003.23,849.93 L1003.50,852.50 L1003.77,854.37 L1004.04,855.59 L1004.31,856.69 L1004.58,857.68 L1004.85,858.52 L1005.12,859.16 L1005.39,859.58 L1005.66,859.73 L1005.93,859.62 L1006.19,859.30 L1006.46,858.82 L1006.73,858.19 L1007.00,857.45 L1007.27,856.63 L1007.54,855.75 L1007.81,854.51 L1008.08,852.85 L1008.35,850.83 L1008.62,848.49 L1008.89,845.89 L1009.16,843.08 L1009.43,840.10 L1009.70,837.00 L1009.97,833.79 L1010.24,829.98 L1010.51,825.59 L1010.77,820.74 L1011.04,815.57 L1011.31,810.22 L1011.58,804.83 L1011.85,799.53 L1012.12,794.47 L1012.39,789.68 L1012.66,784.67 L1012.93,779.49 L1013.20,774.28 L1013.47,769.16 L1013.74,764.29 L1014.01,759.80 L1014.28,755.83 L1014.55,752.52 L1014.82,749.88 L1015.09,747.43 L1015.35,745.14 L1015.62,743.10 L1015.89,741.37 L1016.16,740.01 L1016.43,739.10 L1016.70,738.50 L1016.97,737.95 L1017.24,737.47 L1017.51,737.08 L1017.78,736.79 L1018.05,736.61 L1018.32,736.57 L1018.59,736.76 L1018.86,737.17 L1019.13,737.75 L1019.40,738.44 L1019.67,739.18 L1019.93,739.92 L1020.20,740.67 L1020.47,741.70 L1020.74,742.91 L1021.01,744.13 L1021.28,745.23 L1021.55,746.04 L1021.82,746.41 L1022.09,746.21 L1022.36,745.52 L1022.63,744.49 L1022.90,743.27 L1023.17,742.02 L1023.44,740.89 L1023.71,740.05 L1023.98,739.64 L1024.25,739.48 L1024.51,739.35 L1024.78,739.23 L1025.05,739.14 L1025.32,739.07 L1025.59,739.04 L1025.86,739.07 L1026.13,739.60 L1026.40,740.65 L1026.67,742.13 L1026.94,743.94 L1027.21,745.98 L1027.48,748.16 L1027.75,750.64 L1028.02,754.12 L1028.29,758.43 L1028.56,763.38 L1028.83,768.74 L1029.09,774.31 L1029.36,779.87 L1029.63,785.21 L1029.90,790.51 L1030.17,796.23 L1030.44,802.18 L1030.71,808.19 L1030.98,814.09 L1031.25,819.68 L1031.52,824.80 L1031.79,829.27 L1032.06,833.46 L1032.33,837.64 L1032.60,841.66 L1032.87,845.41 L1033.14,848.76 L1033.41,851.58 L1033.67,853.74 L1033.94,855.14 L1034.21,856.27 L1034.48,857.31 L1034.75,858.21 L1035.02,858.94 L1035.29,859.45 L1035.56,859.71 L1035.83,859.69 L1036.10,859.45 L1036.37,859.02 L1036.64,858.45 L1036.91,857.75 L1037.18,856.96 L1037.45,856.11 L1037.72,855.04 L1037.99,853.54 L1038.25,851.66 L1038.52,849.44 L1038.79,846.93 L1039.06,844.20 L1039.33,841.27 L1039.60,838.22 L1039.87,835.08 L1040.14,831.54 L1040.41,827.36 L1040.68,822.67 L1040.95,817.61 L1041.22,812.32 L1041.49,806.93 L1041.76,801.58 L1042.03,796.40 L1042.30,791.54 L1042.57,786.65 L1042.83,781.52 L1043.10,776.30 L1043.37,771.13 L1043.64,766.15 L1043.91,761.49 L1044.18,757.30 L1044.45,753.72 L1044.72,750.87 L1044.99,748.37 L1045.26,746.01 L1045.53,743.87 L1045.80,742.00 L1046.07,740.49 L1046.34,739.40 L1046.61,738.73 L1046.88,738.16 L1047.15,737.65 L1047.41,737.22 L1047.68,736.89 L1047.95,736.66 L1048.22,736.57 L1048.49,736.66 L1048.76,736.99 L1049.03,737.51 L1049.30,738.16 L1049.57,738.89 L1049.84,739.64 L1050.11,740.36 L1050.38,741.27 L1050.65,742.43 L1050.92,743.66 L1051.19,744.83 L1051.46,745.77 L1051.73,746.33 L1051.99,746.36 L1052.26,745.84 L1052.53,744.92 L1052.80,743.75 L1053.07,742.50 L1053.34,741.30 L1053.61,740.33 L1053.88,739.73 L1054.15,739.54 L1054.42,739.40 L1054.69,739.27 L1054.96,739.17 L1055.23,739.09 L1055.50,739.05 L1055.77,739.03 L1056.04,739.32 L1056.31,740.18 L1056.57,741.51 L1056.84,743.20 L1057.11,745.17 L1057.38,747.30 L1057.65,749.56 L1057.92,752.65 L1058.19,756.66 L1058.46,761.39 L1058.73,766.62 L1059.00,772.13 L1059.27,777.72 L1059.54,783.17 L1059.81,788.39 L1060.08,793.97 L1060.35,799.85 L1060.62,805.86 L1060.89,811.82 L1061.15,817.55 L1061.42,822.88 L1061.69,827.62 L1061.96,831.83 L1062.23,836.02 L1062.50,840.12 L1062.77,843.99 L1063.04,847.51 L1063.31,850.55 L1063.58,852.98 L1063.85,854.67 L1064.12,855.84 L1064.39,856.92 L1064.66,857.88 L1064.93,858.68 L1065.20,859.28 L1065.47,859.64 L1065.73,859.72 L1066.00,859.57 L1066.27,859.21 L1066.54,858.69 L1066.81,858.03 L1067.08,857.27 L1067.35,856.44 L1067.62,855.51 L1067.89,854.17 L1068.16,852.43 L1068.43,850.34 L1068.70,847.94 L1068.97,845.29 L1069.24,842.43 L1069.51,839.42 L1069.78,836.31 L1070.05,833.00 L1070.31,829.06 L1070.58,824.55 L1070.85,819.62 L1071.12,814.40 L1071.39,809.03 L1071.66,803.64 L1071.93,798.39 L1072.20,793.39 L1072.47,788.59 L1072.74,783.54 L1073.01,778.34 L1073.28,773.13 L1073.55,768.06 L1073.82,763.26 L1074.09,758.87 L1074.36,755.03 L1074.63,751.89 L1074.89,749.33 L1075.16,746.90 L1075.43,744.67 L1075.70,742.69 L1075.97,741.04 L1076.24,739.77 L1076.51,738.96 L1076.78,738.37 L1077.05,737.84 L1077.32,737.38 L1077.59,737.00 L1077.86,736.74 L1078.13,736.59 L1078.40,736.59 L1078.67,736.83 L1078.94,737.29 L1079.21,737.89 L1079.47,738.60 L1079.74,739.35 L1080.01,740.08 L1080.28,740.88 L1080.55,741.96 L1080.82,743.18 L1081.09,744.39 L1081.36,745.44 L1081.63,746.17 L1081.90,746.42 L1082.17,746.10 L1082.44,745.31 L1082.71,744.23 L1082.98,742.99 L1083.25,741.75 L1083.52,740.67 L1083.79,739.91 L1084.05,739.60 L1084.32,739.45 L1084.59,739.32 L1084.86,739.21 L1085.13,739.12 L1085.40,739.06 L1085.67,739.03 L1085.94,739.14 L1086.21,739.79 L1086.48,740.94 L1086.75,742.51 L1087.02,744.38 L1087.29,746.46 L1087.56,748.65 L1087.83,751.33 L1088.10,755.01 L1088.37,759.48 L1088.63,764.54 L1088.90,769.96 L1089.17,775.55 L1089.44,781.08 L1089.71,786.34 L1089.98,791.75 L1090.25,797.53 L1090.52,803.51 L1090.79,809.52 L1091.06,815.36 L1091.33,820.87 L1091.60,825.86 L1091.87,830.20 L1092.14,834.39 L1092.41,838.54 L1092.68,842.52 L1092.95,846.19 L1093.21,849.44 L1093.48,852.12 L1093.75,854.11 L1094.02,855.40 L1094.29,856.51 L1094.56,857.52 L1094.83,858.39 L1095.10,859.07 L1095.37,859.53 L1095.64,859.73 L1095.91,859.65 L1096.18,859.37 L1096.45,858.91 L1096.72,858.30 L1096.99,857.58 L1097.26,856.77 L1097.53,855.91 L1097.79,854.75 L1098.06,853.16 L1098.33,851.19 L1098.60,848.91 L1098.87,846.35 L1099.14,843.56 L1099.41,840.61 L1099.68,837.53 L1099.95,834.36 L1100.22,830.67 L1100.49,826.36 L1100.76,821.58 L1101.03,816.45 L1101.30,811.13 L1101.57,805.73 L1101.84,800.41 L1102.11,795.30 L1102.37,790.49 L1102.64,785.53 L1102.91,780.37 L1103.18,775.15 L1103.45,770.01 L1103.72,765.08 L1103.99,760.52 L1104.26,756.45 L1104.53,753.02 L1104.80,750.31 L1105.07,747.83 L1105.34,745.51 L1105.61,743.43 L1105.88,741.64 L1106.15,740.21 L1106.42,739.22 L1106.69,738.60 L1106.95,738.04 L1107.22,737.55 L1107.49,737.14 L1107.76,736.83 L1108.03,736.63 L1108.30,736.57 L1108.57,736.71 L1108.84,737.09 L1109.11,737.64 L1109.38,738.31 L1109.65,739.05 L1109.92,739.80 L1110.19,740.53 L1110.46,741.51 L1110.73,742.70 L1111.00,743.93 L1111.27,745.06 L1111.53,745.93 L1111.80,746.39 L1112.07,746.28 L1112.34,745.66 L1112.61,744.68 L1112.88,743.48 L1113.15,742.22 L1113.42,741.06 L1113.69,740.16 L1113.96,739.67 L1114.23,739.51 L1114.50,739.37 L1114.77,739.25 L1115.04,739.15 L1115.31,739.08 L1115.58,739.04 L1115.85,739.04 L1116.11,739.47 L1116.38,740.44 L1116.65,741.86 L1116.92,743.62 L1117.19,745.63 L1117.46,747.79 L1117.73,750.16 L1118.00,753.47 L1118.27,757.66 L1118.54,762.51 L1118.81,767.82 L1119.08,773.37 L1119.35,778.94 L1119.62,784.33 L1119.89,789.59 L1120.16,795.25 L1120.43,801.17 L1120.69,807.19 L1120.96,813.12 L1121.23,818.77 L1121.50,823.99 L1121.77,828.58 L1122.04,832.76 L1122.31,836.94 L1122.58,841.00 L1122.85,844.81 L1123.12,848.23 L1123.39,851.15 L1123.66,853.42 L1123.93,854.94 L1124.20,856.09 L1124.47,857.14 L1124.74,858.07 L1125.01,858.83 L1125.27,859.38 L1125.54,859.68 L1125.81,859.71 L1126.08,859.50 L1126.35,859.11 L1126.62,858.55 L1126.89,857.87 L1127.16,857.09 L1127.43,856.25 L1127.70,855.25 L1127.97,853.82 L1128.24,852.00 L1128.51,849.83 L1128.78,847.37 L1129.05,844.67 L1129.32,841.77 L1129.58,838.74 L1129.85,835.61 L1130.12,832.18 L1130.39,828.10 L1130.66,823.49 L1130.93,818.48 L1131.20,813.22 L1131.47,807.83 L1131.74,802.46 L1132.01,797.25 L1132.28,792.33 L1132.55,787.49 L1132.82,782.39 L1133.09,777.18 L1133.36,771.99 L1133.63,766.96 L1133.90,762.24 L1134.16,757.97 L1134.43,754.27 L1134.70,751.30 L1134.97,748.78 L1135.24,746.39 L1135.51,744.21 L1135.78,742.29 L1136.05,740.72 L1136.32,739.55 L1136.59,738.83 L1136.86,738.25 L1137.13,737.73 L1137.40,737.29 L1137.67,736.94 L1137.94,736.69 L1138.21,736.57 L1138.48,736.62 L1138.74,736.92 L1139.01,737.41 L1139.28,738.04 L1139.55,738.76 L1139.82,739.51 L1140.09,740.24 L1140.36,741.10 L1140.63,742.22 L1140.90,743.46 L1141.17,744.64 L1141.44,745.63 L1141.71,746.27 L1141.98,746.39 L1142.25,745.96 L1142.52,745.09 L1142.79,743.96 L1143.06,742.71 L1143.32,741.49 L1143.59,740.47 L1143.86,739.80 L1144.13,739.57 L1144.40,739.42 L1144.67,739.29 L1144.94,739.19 L1145.21,739.11 L1145.48,739.05 L1145.75,739.03 L1146.02,739.23 L1146.29,740.00 L1146.56,741.26 L1146.83,742.90 L1147.10,744.82 L1147.37,746.94 L1147.64,749.15 L1147.90,752.06 L1148.17,755.94 L1148.44,760.56 L1148.71,765.71 L1148.98,771.19 L1149.25,776.78 L1149.52,782.27 L1149.79,787.50 L1150.06,793.00 L1150.33,798.85 L1150.60,804.85 L1150.87,810.83 L1151.14,816.61 L1151.41,822.02 L1151.68,826.87 L1151.95,831.12 L1152.22,835.32 L1152.48,839.44 L1152.75,843.36 L1153.02,846.95 L1153.29,850.08 L1153.56,852.62 L1153.83,854.45 L1154.10,855.65 L1154.37,856.75 L1154.64,857.73 L1154.91,858.56 L1155.18,859.19 L1155.45,859.60 L1155.72,859.73 L1155.99,859.61 L1156.26,859.28 L1156.53,858.79 L1156.80,858.15 L1157.06,857.41 L1157.33,856.59 L1157.60,855.69 L1157.87,854.43 L1158.14,852.75 L1158.41,850.71 L1158.68,848.36 L1158.95,845.75 L1159.22,842.92 L1159.49,839.93 L1159.76,836.83 L1160.03,833.60 L1160.30,829.76 L1160.57,825.34 L1160.84,820.47 L1161.11,815.29 L1161.38,809.93 L1161.64,804.54 L1161.91,799.25 L1162.18,794.21 L1162.45,789.41 L1162.72,784.40 L1162.99,779.21 L1163.26,774.00 L1163.53,768.89 L1163.80,764.04 L1164.07,759.57 L1164.34,755.63 L1164.61,752.37 L1164.88,749.75 L1165.15,747.30 L1165.42,745.03 L1165.69,743.00 L1165.96,741.29 L1166.22,739.95 L1166.49,739.06 L1166.76,738.47 L1167.03,737.92 L1167.30,737.45 L1167.57,737.06 L1167.84,736.77 L1168.11,736.60 L1168.38,736.57 L1168.65,736.78 L1168.92,737.20 L1169.19,737.78 L1169.46,738.47 L1169.73,739.22 L1170.00,739.96 L1170.27,740.72 L1170.54,741.76 L1170.80,742.97 L1171.07,744.20 L1171.34,745.28 L1171.61,746.07 L1171.88,746.41 L1172.15,746.19 L1172.42,745.47 L1172.69,744.42 L1172.96,743.20 L1173.23,741.95 L1173.50,740.84 L1173.77,740.01 L1174.04,739.63 L1174.31,739.47 L1174.58,739.34 L1174.85,739.22 L1175.12,739.13 L1175.38,739.07 L1175.65,739.03 L1175.92,739.08 L1176.19,739.64 L1176.46,740.72 L1176.73,742.22 L1177.00,744.05 L1177.27,746.10 L1177.54,748.28 L1177.81,750.80 L1178.08,754.33 L1178.35,758.68 L1178.62,763.66 L1178.89,769.03 L1179.16,774.61 L1179.43,780.16 L1179.70,785.48 L1179.96,790.81 L1180.23,796.54 L1180.50,802.50 L1180.77,808.52 L1181.04,814.40 L1181.31,819.97 L1181.58,825.06 L1181.85,829.50 L1182.12,833.69 L1182.39,837.86 L1182.66,841.87 L1182.93,845.60 L1183.20,848.93 L1183.47,851.71 L1183.74,853.83 L1184.01,855.20 L1184.28,856.33 L1184.54,857.36 L1184.81,858.25 L1185.08,858.97 L1185.35,859.47 L1185.62,859.71 L1185.89,859.68 L1186.16,859.43 L1186.43,859.00 L1186.70,858.41" fill="none" stroke="#D9676E" stroke-width="1.6" stroke-linejoin="round" stroke-linecap="round" clip-path="none"/>
<rect x="944.5" y="710" width="242.2" height="193.8" fill="none" stroke="#000" stroke-width="1.8"/>
<line x1="942.5" y1="879.05" x2="944.5" y2="879.05" stroke="#000" stroke-width="1.5"/>
<line x1="942.5" y1="830.75" x2="944.5" y2="830.75" stroke="#000" stroke-width="1.5"/>
<line x1="942.5" y1="782.45" x2="944.5" y2="782.45" stroke="#000" stroke-width="1.5"/>
<line x1="942.5" y1="734.15" x2="944.5" y2="734.15" stroke="#000" stroke-width="1.5"/>
<line x1="941.5" y1="903.2" x2="944.5" y2="903.2" stroke="#000" stroke-width="1.5"/>
<text x="939.5" y="907.79" font-size="13.5" text-anchor="end" font-weight="normal" >0.0</text>
<line x1="941.5" y1="854.9" x2="944.5" y2="854.9" stroke="#000" stroke-width="1.5"/>
<text x="939.5" y="859.49" font-size="13.5" text-anchor="end" font-weight="normal" >0.1</text>
<line x1="941.5" y1="806.6" x2="944.5" y2="806.6" stroke="#000" stroke-width="1.5"/>
<text x="939.5" y="811.19" font-size="13.5" text-anchor="end" font-weight="normal" >0.2</text>
<line x1="941.5" y1="758.3" x2="944.5" y2="758.3" stroke="#000" stroke-width="1.5"/>
<text x="939.5" y="762.89" font-size="13.5" text-anchor="end" font-weight="normal" >0.3</text>
<line x1="941.5" y1="710" x2="944.5" y2="710" stroke="#000" stroke-width="1.5"/>
<text x="939.5" y="714.59" font-size="13.5" text-anchor="end" font-weight="normal" >0.4</text>
<line x1="981.68" y1="903.8" x2="981.68" y2="905.8" stroke="#000" stroke-width="1.5"/>
<text x="981.68" y="919.3" font-size="14.5" text-anchor="middle" font-weight="normal" >702</text>
<line x1="1034.79" y1="903.8" x2="1034.79" y2="905.8" stroke="#000" stroke-width="1.5"/>
<text x="1034.79" y="919.3" font-size="14.5" text-anchor="middle" font-weight="normal" >704</text>
<line x1="1087.91" y1="903.8" x2="1087.91" y2="905.8" stroke="#000" stroke-width="1.5"/>
<text x="1087.91" y="919.3" font-size="14.5" text-anchor="middle" font-weight="normal" >706</text>
<line x1="1141.02" y1="903.8" x2="1141.02" y2="905.8" stroke="#000" stroke-width="1.5"/>
<text x="1141.02" y="919.3" font-size="14.5" text-anchor="middle" font-weight="normal" >708</text>
<text x="1065.6" y="936.3" font-size="14.5" text-anchor="middle" font-weight="normal" >Time (s)</text>
<text transform="translate(915.5,806.9) rotate(-90)" font-size="14" text-anchor="middle">&#916;R/R<tspan font-size="8.68" dy="2.8">0</tspan><tspan dy="-2.8"> (%)</tspan></text>
<rect x="232.5" y="961" width="13.5" height="106" fill="none" stroke="#444" stroke-width="2.2"/>
<rect x="1053.5" y="942.5" width="14" height="119" fill="none" stroke="#444" stroke-width="2.2"/>
<line x1="234" y1="958.5" x2="171" y2="918" stroke="#444" stroke-width="2.6" stroke-dasharray="2.6,3"/>
<line x1="246" y1="959" x2="381" y2="915.5" stroke="#444" stroke-width="2.6" stroke-dasharray="2.6,3"/>
<path d="M153.5,906.4 L174.5,913 L168.2,921 Z" fill="#444"/>
<path d="M398.5,907.5 L383,922 L378,912.5 Z" fill="#444"/>
<line x1="1054" y1="941" x2="962" y2="921" stroke="#444" stroke-width="2.6" stroke-dasharray="2.6,3"/>
<line x1="1068" y1="941" x2="1174" y2="920" stroke="#444" stroke-width="2.6" stroke-dasharray="2.6,3"/>
<path d="M942,916 L964,913.5 L959.5,925.5 Z" fill="#444"/>
<path d="M1192,915.5 L1174,925 L1170.5,913 Z" fill="#444"/>
</svg></body></html>
